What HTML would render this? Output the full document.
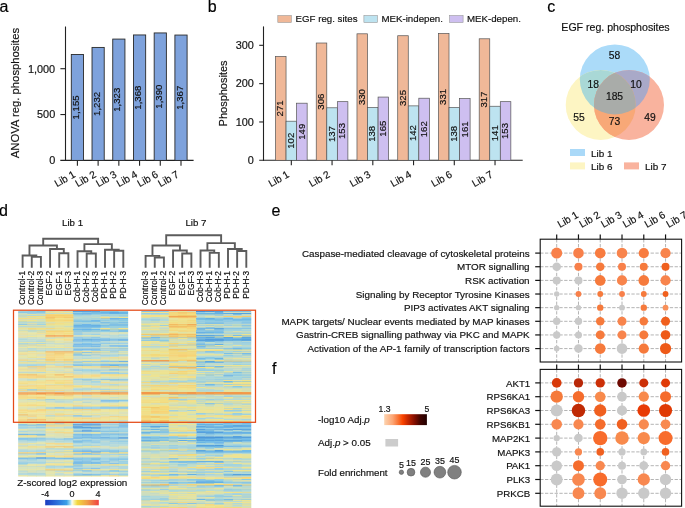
<!DOCTYPE html>
<html><head><meta charset="utf-8"><style>
html,body{margin:0;padding:0;background:#fff;overflow:hidden;width:685px;height:508px;}
svg{display:block;font-family:"Liberation Sans", sans-serif;will-change:transform;}
text{stroke:#111;stroke-width:0.18px;paint-order:stroke;}
</style></head><body>
<svg width="685" height="508" viewBox="0 0 685 508">
<text x="-0.50" y="11.60" font-size="16" fill="#000">a</text>
<text x="207.70" y="11.60" font-size="16" fill="#000">b</text>
<text x="547.30" y="11.70" font-size="16" fill="#000">c</text>
<text x="-1.00" y="215.70" font-size="16" fill="#000">d</text>
<text x="271.40" y="215.80" font-size="16" fill="#000">e</text>
<text x="272.00" y="374.00" font-size="16" fill="#000">f</text>
<line x1="65.50" y1="26.50" x2="65.50" y2="160.90" stroke="#222" stroke-width="1.1"/>
<line x1="60.30" y1="160.40" x2="193.60" y2="160.40" stroke="#222" stroke-width="1.1"/>
<line x1="60.40" y1="114.55" x2="65.50" y2="114.55" stroke="#222" stroke-width="1.1"/>
<line x1="60.40" y1="68.70" x2="65.50" y2="68.70" stroke="#222" stroke-width="1.1"/>
<text x="55.20" y="164.25" font-size="10.9" text-anchor="end" fill="#111">0</text>
<text x="55.20" y="118.40" font-size="10.9" text-anchor="end" fill="#111">500</text>
<text x="55.20" y="72.55" font-size="10.9" text-anchor="end" fill="#111">1,000</text>
<text x="19.00" y="93.10" font-size="11.3" text-anchor="middle" transform="rotate(-90 19.0 93.1)" fill="#111">ANOVA reg. phosphosites</text>
<rect x="71.30" y="54.49" width="12.20" height="105.91" fill="#7ea2dc" stroke="#2a2a2a" stroke-width="0.9"/>
<line x1="77.40" y1="160.40" x2="77.40" y2="165.70" stroke="#222" stroke-width="1.1"/>
<text x="79.00" y="107.44" font-size="9.6" text-anchor="middle" transform="rotate(-90 79.0 107.44325)" fill="#111">1,155</text>
<text x="76.10" y="176.30" font-size="10.2" text-anchor="end" transform="rotate(-30 76.10000000000001 176.3)" fill="#111">Lib 1</text>
<rect x="92.02" y="47.43" width="12.20" height="112.97" fill="#7ea2dc" stroke="#2a2a2a" stroke-width="0.9"/>
<line x1="98.12" y1="160.40" x2="98.12" y2="165.70" stroke="#222" stroke-width="1.1"/>
<text x="99.72" y="103.91" font-size="9.6" text-anchor="middle" transform="rotate(-90 99.72 103.9128)" fill="#111">1,232</text>
<text x="96.82" y="176.30" font-size="10.2" text-anchor="end" transform="rotate(-30 96.82000000000001 176.3)" fill="#111">Lib 2</text>
<rect x="112.74" y="39.08" width="12.20" height="121.32" fill="#7ea2dc" stroke="#2a2a2a" stroke-width="0.9"/>
<line x1="118.84" y1="160.40" x2="118.84" y2="165.70" stroke="#222" stroke-width="1.1"/>
<text x="120.44" y="99.74" font-size="9.6" text-anchor="middle" transform="rotate(-90 120.44 99.74045000000001)" fill="#111">1,323</text>
<text x="117.54" y="176.30" font-size="10.2" text-anchor="end" transform="rotate(-30 117.54 176.3)" fill="#111">Lib 3</text>
<rect x="133.46" y="34.95" width="12.20" height="125.45" fill="#7ea2dc" stroke="#2a2a2a" stroke-width="0.9"/>
<line x1="139.56" y1="160.40" x2="139.56" y2="165.70" stroke="#222" stroke-width="1.1"/>
<text x="141.16" y="97.68" font-size="9.6" text-anchor="middle" transform="rotate(-90 141.16 97.6772)" fill="#111">1,368</text>
<text x="138.26" y="176.30" font-size="10.2" text-anchor="end" transform="rotate(-30 138.26 176.3)" fill="#111">Lib 4</text>
<rect x="154.18" y="32.94" width="12.20" height="127.46" fill="#7ea2dc" stroke="#2a2a2a" stroke-width="0.9"/>
<line x1="160.28" y1="160.40" x2="160.28" y2="165.70" stroke="#222" stroke-width="1.1"/>
<text x="161.88" y="96.67" font-size="9.6" text-anchor="middle" transform="rotate(-90 161.88 96.6685)" fill="#111">1,390</text>
<text x="158.98" y="176.30" font-size="10.2" text-anchor="end" transform="rotate(-30 158.98 176.3)" fill="#111">Lib 6</text>
<rect x="174.90" y="35.05" width="12.20" height="125.35" fill="#7ea2dc" stroke="#2a2a2a" stroke-width="0.9"/>
<line x1="181.00" y1="160.40" x2="181.00" y2="165.70" stroke="#222" stroke-width="1.1"/>
<text x="182.60" y="97.72" font-size="9.6" text-anchor="middle" transform="rotate(-90 182.6 97.72305)" fill="#111">1,367</text>
<text x="179.70" y="176.30" font-size="10.2" text-anchor="end" transform="rotate(-30 179.7 176.3)" fill="#111">Lib 7</text>
<line x1="263.50" y1="26.40" x2="263.50" y2="160.80" stroke="#222" stroke-width="1.1"/>
<line x1="259.20" y1="160.30" x2="522.70" y2="160.30" stroke="#222" stroke-width="1.1"/>
<line x1="259.20" y1="121.97" x2="263.50" y2="121.97" stroke="#222" stroke-width="1.1"/>
<line x1="259.20" y1="83.64" x2="263.50" y2="83.64" stroke="#222" stroke-width="1.1"/>
<line x1="259.20" y1="45.31" x2="263.50" y2="45.31" stroke="#222" stroke-width="1.1"/>
<text x="253.90" y="164.15" font-size="10.9" text-anchor="end" fill="#111">0</text>
<text x="253.90" y="125.82" font-size="10.9" text-anchor="end" fill="#111">100</text>
<text x="253.90" y="87.49" font-size="10.9" text-anchor="end" fill="#111">200</text>
<text x="253.90" y="49.16" font-size="10.9" text-anchor="end" fill="#111">300</text>
<text x="226.80" y="93.40" font-size="11" text-anchor="middle" transform="rotate(-90 226.8 93.4)" fill="#111">Phosphosites</text>
<rect x="275.50" y="56.43" width="10.55" height="103.87" fill="#f0b898" stroke="#555" stroke-width="0.7"/>
<text x="283.47" y="108.36" font-size="9.6" text-anchor="middle" transform="rotate(-90 283.47499999999997 108.36285000000001)" fill="#111">271</text>
<rect x="286.05" y="121.20" width="10.55" height="39.10" fill="#bde3f0" stroke="#555" stroke-width="0.7"/>
<text x="294.02" y="140.75" font-size="9.6" text-anchor="middle" transform="rotate(-90 294.025 140.75170000000003)" fill="#111">102</text>
<rect x="296.60" y="103.19" width="10.55" height="57.11" fill="#cebff0" stroke="#555" stroke-width="0.7"/>
<text x="304.57" y="131.74" font-size="9.6" text-anchor="middle" transform="rotate(-90 304.575 131.74415000000002)" fill="#111">149</text>
<line x1="291.32" y1="160.30" x2="291.32" y2="165.20" stroke="#222" stroke-width="1.1"/>
<text x="290.02" y="176.30" font-size="10.2" text-anchor="end" transform="rotate(-30 290.025 176.3)" fill="#111">Lib 1</text>
<rect x="316.24" y="43.01" width="10.55" height="117.29" fill="#f0b898" stroke="#555" stroke-width="0.7"/>
<text x="324.21" y="101.66" font-size="9.6" text-anchor="middle" transform="rotate(-90 324.215 101.65510000000002)" fill="#111">306</text>
<rect x="326.79" y="107.79" width="10.55" height="52.51" fill="#bde3f0" stroke="#555" stroke-width="0.7"/>
<text x="334.76" y="134.04" font-size="9.6" text-anchor="middle" transform="rotate(-90 334.765 134.04395)" fill="#111">137</text>
<rect x="337.34" y="101.66" width="10.55" height="58.64" fill="#cebff0" stroke="#555" stroke-width="0.7"/>
<text x="345.31" y="130.98" font-size="9.6" text-anchor="middle" transform="rotate(-90 345.315 130.97755)" fill="#111">153</text>
<line x1="332.06" y1="160.30" x2="332.06" y2="165.20" stroke="#222" stroke-width="1.1"/>
<text x="330.76" y="176.30" font-size="10.2" text-anchor="end" transform="rotate(-30 330.765 176.3)" fill="#111">Lib 2</text>
<rect x="356.98" y="33.81" width="10.55" height="126.49" fill="#f0b898" stroke="#555" stroke-width="0.7"/>
<text x="364.95" y="97.06" font-size="9.6" text-anchor="middle" transform="rotate(-90 364.955 97.05550000000002)" fill="#111">330</text>
<rect x="367.53" y="107.40" width="10.55" height="52.90" fill="#bde3f0" stroke="#555" stroke-width="0.7"/>
<text x="375.50" y="133.85" font-size="9.6" text-anchor="middle" transform="rotate(-90 375.505 133.8523)" fill="#111">138</text>
<rect x="378.08" y="97.06" width="10.55" height="63.24" fill="#cebff0" stroke="#555" stroke-width="0.7"/>
<text x="386.06" y="128.68" font-size="9.6" text-anchor="middle" transform="rotate(-90 386.055 128.67775)" fill="#111">165</text>
<line x1="372.81" y1="160.30" x2="372.81" y2="165.20" stroke="#222" stroke-width="1.1"/>
<text x="371.50" y="176.30" font-size="10.2" text-anchor="end" transform="rotate(-30 371.505 176.3)" fill="#111">Lib 3</text>
<rect x="397.72" y="35.73" width="10.55" height="124.57" fill="#f0b898" stroke="#555" stroke-width="0.7"/>
<text x="405.69" y="98.01" font-size="9.6" text-anchor="middle" transform="rotate(-90 405.695 98.01375000000002)" fill="#111">325</text>
<rect x="408.27" y="105.87" width="10.55" height="54.43" fill="#bde3f0" stroke="#555" stroke-width="0.7"/>
<text x="416.25" y="133.09" font-size="9.6" text-anchor="middle" transform="rotate(-90 416.245 133.08570000000003)" fill="#111">142</text>
<rect x="418.82" y="98.21" width="10.55" height="62.09" fill="#cebff0" stroke="#555" stroke-width="0.7"/>
<text x="426.80" y="129.25" font-size="9.6" text-anchor="middle" transform="rotate(-90 426.795 129.2527)" fill="#111">162</text>
<line x1="413.55" y1="160.30" x2="413.55" y2="165.20" stroke="#222" stroke-width="1.1"/>
<text x="412.25" y="176.30" font-size="10.2" text-anchor="end" transform="rotate(-30 412.245 176.3)" fill="#111">Lib 4</text>
<rect x="438.46" y="33.43" width="10.55" height="126.87" fill="#f0b898" stroke="#555" stroke-width="0.7"/>
<text x="446.44" y="96.86" font-size="9.6" text-anchor="middle" transform="rotate(-90 446.435 96.86385000000001)" fill="#111">331</text>
<rect x="449.01" y="107.40" width="10.55" height="52.90" fill="#bde3f0" stroke="#555" stroke-width="0.7"/>
<text x="456.99" y="133.85" font-size="9.6" text-anchor="middle" transform="rotate(-90 456.985 133.8523)" fill="#111">138</text>
<rect x="459.56" y="98.59" width="10.55" height="61.71" fill="#cebff0" stroke="#555" stroke-width="0.7"/>
<text x="467.54" y="129.44" font-size="9.6" text-anchor="middle" transform="rotate(-90 467.535 129.44435000000001)" fill="#111">161</text>
<line x1="454.29" y1="160.30" x2="454.29" y2="165.20" stroke="#222" stroke-width="1.1"/>
<text x="452.99" y="176.30" font-size="10.2" text-anchor="end" transform="rotate(-30 452.985 176.3)" fill="#111">Lib 6</text>
<rect x="479.20" y="38.79" width="10.55" height="121.51" fill="#f0b898" stroke="#555" stroke-width="0.7"/>
<text x="487.18" y="99.55" font-size="9.6" text-anchor="middle" transform="rotate(-90 487.175 99.54695000000001)" fill="#111">317</text>
<rect x="489.75" y="106.25" width="10.55" height="54.05" fill="#bde3f0" stroke="#555" stroke-width="0.7"/>
<text x="497.73" y="133.28" font-size="9.6" text-anchor="middle" transform="rotate(-90 497.725 133.27735)" fill="#111">141</text>
<rect x="500.30" y="101.66" width="10.55" height="58.64" fill="#cebff0" stroke="#555" stroke-width="0.7"/>
<text x="508.28" y="130.98" font-size="9.6" text-anchor="middle" transform="rotate(-90 508.27500000000003 130.97755)" fill="#111">153</text>
<line x1="495.03" y1="160.30" x2="495.03" y2="165.20" stroke="#222" stroke-width="1.1"/>
<text x="493.73" y="176.30" font-size="10.2" text-anchor="end" transform="rotate(-30 493.725 176.3)" fill="#111">Lib 7</text>
<rect x="277.80" y="15.50" width="13.50" height="7.00" fill="#f0b898" stroke="#999" stroke-width="0.6"/>
<text x="295.60" y="22.30" font-size="9.7" fill="#111">EGF reg. sites</text>
<rect x="363.90" y="15.50" width="13.50" height="7.00" fill="#bde3f0" stroke="#999" stroke-width="0.6"/>
<text x="381.50" y="22.30" font-size="9.7" fill="#111">MEK-indepen.</text>
<rect x="449.60" y="15.50" width="13.50" height="7.00" fill="#cebff0" stroke="#999" stroke-width="0.6"/>
<text x="467.00" y="22.30" font-size="9.7" fill="#111">MEK-depen.</text>
<text x="615.50" y="30.70" font-size="10.6" text-anchor="middle" fill="#111">EGF reg. phosphosites</text>
<defs>
<clipPath id="cb"><circle cx="614.8" cy="79.4" r="35"/></clipPath>
<clipPath id="cy"><circle cx="600.7" cy="104.9" r="35"/></clipPath>
<clipPath id="cr"><circle cx="629" cy="104.9" r="35"/></clipPath>
</defs>
<circle cx="614.80" cy="79.40" r="35.00" fill="#abdbf9"/>
<circle cx="600.70" cy="104.90" r="35.00" fill="#fdf5c3"/>
<circle cx="629.00" cy="104.90" r="35.00" fill="#f9b39e"/>
<g clip-path="url(#cb)"><circle cx="600.7" cy="104.9" r="35" fill="#a9d8d6"/><circle cx="629" cy="104.9" r="35" fill="#a9a9c8"/></g>
<g clip-path="url(#cy)"><circle cx="629" cy="104.9" r="35" fill="#f8a877"/></g>
<g clip-path="url(#cb)"><g clip-path="url(#cy)"><circle cx="629" cy="104.9" r="35" fill="#a9aca9"/></g></g>
<text x="614.50" y="59.10" font-size="10.3" text-anchor="middle" fill="#111">58</text>
<text x="593.20" y="87.50" font-size="10.3" text-anchor="middle" fill="#111">18</text>
<text x="636.10" y="87.50" font-size="10.3" text-anchor="middle" fill="#111">10</text>
<text x="614.50" y="99.70" font-size="10.3" text-anchor="middle" fill="#111">185</text>
<text x="579.00" y="121.00" font-size="10.3" text-anchor="middle" fill="#111">55</text>
<text x="614.50" y="124.50" font-size="10.3" text-anchor="middle" fill="#111">73</text>
<text x="649.90" y="121.00" font-size="10.3" text-anchor="middle" fill="#111">49</text>
<rect x="570.00" y="149.00" width="15.00" height="7.00" fill="#aad9f8"/>
<text x="591.00" y="156.50" font-size="9.9" fill="#111">Lib 1</text>
<rect x="570.00" y="162.40" width="15.00" height="7.00" fill="#fdf5c3"/>
<text x="591.00" y="169.90" font-size="9.9" fill="#111">Lib 6</text>
<rect x="624.00" y="162.40" width="15.00" height="7.00" fill="#f9b39e"/>
<text x="645.00" y="169.90" font-size="9.9" fill="#111">Lib 7</text>
<text x="72.60" y="225.60" font-size="9.7" text-anchor="middle" fill="#111">Lib 1</text>
<path d="M31.76 267.80V256.90H40.91V267.80" fill="none" stroke="#5c5c5c" stroke-width="1.9"/>
<path d="M22.60 267.80V255.50H36.33V256.90" fill="none" stroke="#5c5c5c" stroke-width="1.9"/>
<path d="M59.22 267.80V253.30H68.38V267.80" fill="none" stroke="#5c5c5c" stroke-width="1.9"/>
<path d="M50.06 267.80V249.00H63.80V253.30" fill="none" stroke="#5c5c5c" stroke-width="1.9"/>
<path d="M29.47 255.50V245.50H56.93V249.00" fill="none" stroke="#5c5c5c" stroke-width="1.9"/>
<path d="M86.69 267.80V253.50H95.84V267.80" fill="none" stroke="#5c5c5c" stroke-width="1.9"/>
<path d="M77.53 267.80V251.30H91.26V253.50" fill="none" stroke="#5c5c5c" stroke-width="1.9"/>
<path d="M114.15 267.80V250.70H123.31V267.80" fill="none" stroke="#5c5c5c" stroke-width="1.9"/>
<path d="M105.00 267.80V249.70H118.73V250.70" fill="none" stroke="#5c5c5c" stroke-width="1.9"/>
<path d="M84.40 251.30V244.10H111.86V249.70" fill="none" stroke="#5c5c5c" stroke-width="1.9"/>
<path d="M43.20 245.50V238.70H98.13V244.10" fill="none" stroke="#5c5c5c" stroke-width="1.9"/>
<text x="24.90" y="271.00" font-size="8.3" text-anchor="end" transform="rotate(-90 24.900000000000002 271)" fill="#111">Control-1</text>
<text x="34.05" y="271.00" font-size="8.3" text-anchor="end" transform="rotate(-90 34.055 271)" fill="#111">Control-2</text>
<text x="43.21" y="271.00" font-size="8.3" text-anchor="end" transform="rotate(-90 43.209999999999994 271)" fill="#111">Control-3</text>
<text x="52.36" y="271.00" font-size="8.3" text-anchor="end" transform="rotate(-90 52.364999999999995 271)" fill="#111">EGF-2</text>
<text x="61.52" y="271.00" font-size="8.3" text-anchor="end" transform="rotate(-90 61.519999999999996 271)" fill="#111">EGF-1</text>
<text x="70.67" y="271.00" font-size="8.3" text-anchor="end" transform="rotate(-90 70.675 271)" fill="#111">EGF-3</text>
<text x="79.83" y="271.00" font-size="8.3" text-anchor="end" transform="rotate(-90 79.83 271)" fill="#111">Cob-H-1</text>
<text x="88.98" y="271.00" font-size="8.3" text-anchor="end" transform="rotate(-90 88.985 271)" fill="#111">Cob-H-2</text>
<text x="98.14" y="271.00" font-size="8.3" text-anchor="end" transform="rotate(-90 98.14 271)" fill="#111">Cob-H-3</text>
<text x="107.30" y="271.00" font-size="8.3" text-anchor="end" transform="rotate(-90 107.295 271)" fill="#111">PD-H-1</text>
<text x="116.45" y="271.00" font-size="8.3" text-anchor="end" transform="rotate(-90 116.45 271)" fill="#111">PD-H-2</text>
<text x="125.61" y="271.00" font-size="8.3" text-anchor="end" transform="rotate(-90 125.605 271)" fill="#111">PD-H-3</text>
<text x="196.00" y="225.60" font-size="9.7" text-anchor="middle" fill="#111">Lib 7</text>
<path d="M154.75 267.80V257.50H163.91V267.80" fill="none" stroke="#5c5c5c" stroke-width="1.9"/>
<path d="M145.60 267.80V255.90H159.33V257.50" fill="none" stroke="#5c5c5c" stroke-width="1.9"/>
<path d="M182.22 267.80V253.50H191.38V267.80" fill="none" stroke="#5c5c5c" stroke-width="1.9"/>
<path d="M173.06 267.80V250.50H186.80V253.50" fill="none" stroke="#5c5c5c" stroke-width="1.9"/>
<path d="M152.47 255.90V245.50H179.93V250.50" fill="none" stroke="#5c5c5c" stroke-width="1.9"/>
<path d="M209.69 267.80V252.90H218.84V267.80" fill="none" stroke="#5c5c5c" stroke-width="1.9"/>
<path d="M200.53 267.80V250.50H214.26V252.90" fill="none" stroke="#5c5c5c" stroke-width="1.9"/>
<path d="M237.15 267.80V251.00H246.31V267.80" fill="none" stroke="#5c5c5c" stroke-width="1.9"/>
<path d="M228.00 267.80V249.00H241.73V251.00" fill="none" stroke="#5c5c5c" stroke-width="1.9"/>
<path d="M207.40 250.50V243.10H234.86V249.00" fill="none" stroke="#5c5c5c" stroke-width="1.9"/>
<path d="M166.20 245.50V235.20H221.13V243.10" fill="none" stroke="#5c5c5c" stroke-width="1.9"/>
<text x="147.90" y="271.00" font-size="8.3" text-anchor="end" transform="rotate(-90 147.9 271)" fill="#111">Control-3</text>
<text x="157.06" y="271.00" font-size="8.3" text-anchor="end" transform="rotate(-90 157.055 271)" fill="#111">Control-1</text>
<text x="166.21" y="271.00" font-size="8.3" text-anchor="end" transform="rotate(-90 166.21 271)" fill="#111">Control-2</text>
<text x="175.37" y="271.00" font-size="8.3" text-anchor="end" transform="rotate(-90 175.365 271)" fill="#111">EGF-2</text>
<text x="184.52" y="271.00" font-size="8.3" text-anchor="end" transform="rotate(-90 184.52 271)" fill="#111">EGF-1</text>
<text x="193.68" y="271.00" font-size="8.3" text-anchor="end" transform="rotate(-90 193.675 271)" fill="#111">EGF-3</text>
<text x="202.83" y="271.00" font-size="8.3" text-anchor="end" transform="rotate(-90 202.82999999999998 271)" fill="#111">Cob-H-3</text>
<text x="211.99" y="271.00" font-size="8.3" text-anchor="end" transform="rotate(-90 211.985 271)" fill="#111">Cob-H-1</text>
<text x="221.14" y="271.00" font-size="8.3" text-anchor="end" transform="rotate(-90 221.14 271)" fill="#111">Cob-H-2</text>
<text x="230.30" y="271.00" font-size="8.3" text-anchor="end" transform="rotate(-90 230.29500000000002 271)" fill="#111">PD-H-1</text>
<text x="239.45" y="271.00" font-size="8.3" text-anchor="end" transform="rotate(-90 239.45 271)" fill="#111">PD-H-2</text>
<text x="248.61" y="271.00" font-size="8.3" text-anchor="end" transform="rotate(-90 248.60500000000002 271)" fill="#111">PD-H-3</text>
<defs><filter id="hb" x="0" y="0" width="1" height="1"><feGaussianBlur stdDeviation="0.3 0.5"/></filter></defs>
<g filter="url(#hb)"><path fill="#9dcfde" d="M18.2 311.10h9.62v1.30h-9.62zM27.3 312.10h9.62v1.30h-9.62zM36.4 312.10h9.62v1.30h-9.62zM91.1 312.10h9.62v1.30h-9.62zM109.4 319.11h9.62v1.30h-9.62zM18.2 321.11h9.62v1.30h-9.62zM109.4 323.11h9.62v1.30h-9.62zM100.3 326.12h9.62v1.30h-9.62zM118.5 327.12h9.62v1.30h-9.62zM82.0 333.13h9.62v1.30h-9.62zM91.1 333.13h9.62v1.30h-9.62zM109.4 335.13h9.62v1.30h-9.62zM82.0 337.13h9.62v1.30h-9.62zM82.0 338.13h9.62v1.30h-9.62zM27.3 339.13h9.62v1.30h-9.62zM36.4 339.13h9.62v1.30h-9.62zM18.2 341.14h9.62v1.30h-9.62zM27.3 341.14h9.62v1.30h-9.62zM109.4 342.14h9.62v1.30h-9.62zM109.4 343.14h9.62v1.30h-9.62zM109.4 346.14h9.62v1.30h-9.62zM118.5 352.15h9.62v1.30h-9.62zM118.5 360.16h9.62v1.30h-9.62zM36.4 361.16h9.62v1.30h-9.62zM45.5 364.16h9.62v1.30h-9.62zM72.9 370.17h9.62v1.30h-9.62zM82.0 381.18h9.62v1.30h-9.62zM91.1 389.19h9.62v1.30h-9.62zM118.5 425.24h9.62v1.30h-9.62zM27.3 426.24h9.62v1.30h-9.62zM100.3 428.24h9.62v1.30h-9.62zM118.5 428.24h9.62v1.30h-9.62zM18.2 431.25h9.62v1.30h-9.62zM72.9 431.25h9.62v1.30h-9.62zM118.5 441.26h9.62v1.30h-9.62zM27.3 451.27h9.62v1.30h-9.62zM118.5 453.27h9.62v1.30h-9.62zM118.5 457.28h9.62v1.30h-9.62zM63.8 465.29h9.62v1.30h-9.62zM27.3 466.29h9.62v1.30h-9.62zM54.7 466.29h9.62v1.30h-9.62zM63.8 466.29h9.62v1.30h-9.62zM118.5 471.29h9.62v1.30h-9.62zM91.1 473.30h9.62v1.30h-9.62z"/><path fill="#8ecae3" d="M27.3 311.10h9.62v1.30h-9.62zM18.2 312.10h9.62v1.30h-9.62zM100.3 315.10h9.62v1.30h-9.62zM72.9 319.11h9.62v1.30h-9.62zM72.9 320.11h9.62v1.30h-9.62zM100.3 324.12h9.62v1.30h-9.62zM91.1 327.12h9.62v1.30h-9.62zM72.9 328.12h9.62v1.30h-9.62zM100.3 330.12h9.62v1.30h-9.62zM118.5 330.12h9.62v1.30h-9.62zM72.9 334.13h9.62v1.30h-9.62zM91.1 334.13h9.62v1.30h-9.62zM72.9 338.13h9.62v1.30h-9.62zM36.4 341.14h9.62v1.30h-9.62zM82.0 341.14h9.62v1.30h-9.62zM100.3 342.14h9.62v1.30h-9.62zM118.5 342.14h9.62v1.30h-9.62zM109.4 354.15h9.62v1.30h-9.62zM63.8 361.16h9.62v1.30h-9.62zM27.3 364.16h9.62v1.30h-9.62zM63.8 364.16h9.62v1.30h-9.62zM100.3 367.17h9.62v1.30h-9.62zM18.2 372.17h9.62v1.30h-9.62zM27.3 372.17h9.62v1.30h-9.62zM36.4 389.19h9.62v1.30h-9.62zM63.8 399.21h9.62v1.30h-9.62zM118.5 399.21h9.62v1.30h-9.62zM109.4 406.22h9.62v1.30h-9.62zM72.9 407.22h9.62v1.30h-9.62zM82.0 408.22h9.62v1.30h-9.62zM45.5 424.24h9.62v1.30h-9.62zM18.2 426.24h9.62v1.30h-9.62zM36.4 427.24h9.62v1.30h-9.62zM91.1 428.24h9.62v1.30h-9.62zM27.3 430.24h9.62v1.30h-9.62zM36.4 430.24h9.62v1.30h-9.62zM118.5 430.24h9.62v1.30h-9.62zM91.1 431.25h9.62v1.30h-9.62zM18.2 433.25h9.62v1.30h-9.62zM82.0 435.25h9.62v1.30h-9.62zM100.3 436.25h9.62v1.30h-9.62zM18.2 437.25h9.62v1.30h-9.62zM18.2 439.26h9.62v1.30h-9.62zM118.5 454.27h9.62v1.30h-9.62zM100.3 458.28h9.62v1.30h-9.62zM91.1 461.28h9.62v1.30h-9.62zM27.3 462.28h9.62v1.30h-9.62zM36.4 462.28h9.62v1.30h-9.62zM91.1 465.29h9.62v1.30h-9.62zM118.5 466.29h9.62v1.30h-9.62zM91.1 470.29h9.62v1.30h-9.62zM18.2 473.30h9.62v1.30h-9.62z"/><path fill="#84c5e3" d="M36.4 311.10h9.62v1.30h-9.62zM100.3 320.11h9.62v1.30h-9.62zM72.9 321.11h9.62v1.30h-9.62zM82.0 321.11h9.62v1.30h-9.62zM91.1 321.11h9.62v1.30h-9.62zM91.1 338.13h9.62v1.30h-9.62zM100.3 343.14h9.62v1.30h-9.62zM100.3 345.14h9.62v1.30h-9.62zM118.5 346.14h9.62v1.30h-9.62zM118.5 350.15h9.62v1.30h-9.62zM100.3 352.15h9.62v1.30h-9.62zM100.3 363.16h9.62v1.30h-9.62zM109.4 391.20h9.62v1.30h-9.62zM54.7 399.21h9.62v1.30h-9.62zM45.5 407.22h9.62v1.30h-9.62zM63.8 407.22h9.62v1.30h-9.62zM118.5 407.22h9.62v1.30h-9.62zM45.5 422.23h9.62v1.30h-9.62zM109.4 430.24h9.62v1.30h-9.62zM109.4 431.25h9.62v1.30h-9.62zM82.0 433.25h9.62v1.30h-9.62zM27.3 437.25h9.62v1.30h-9.62zM54.7 438.25h9.62v1.30h-9.62zM82.0 442.26h9.62v1.30h-9.62zM45.5 448.27h9.62v1.30h-9.62zM54.7 448.27h9.62v1.30h-9.62zM72.9 448.27h9.62v1.30h-9.62zM100.3 450.27h9.62v1.30h-9.62zM63.8 451.27h9.62v1.30h-9.62zM54.7 457.28h9.62v1.30h-9.62zM63.8 457.28h9.62v1.30h-9.62zM36.4 458.28h9.62v1.30h-9.62zM118.5 458.28h9.62v1.30h-9.62zM82.0 459.28h9.62v1.30h-9.62zM18.2 462.28h9.62v1.30h-9.62zM82.0 468.29h9.62v1.30h-9.62zM27.3 473.30h9.62v1.30h-9.62z"/><path fill="#d4deb1" d="M45.5 311.10h9.62v1.30h-9.62zM63.8 345.14h9.62v1.30h-9.62zM45.5 379.18h9.62v1.30h-9.62zM109.4 380.18h9.62v1.30h-9.62zM91.1 395.20h9.62v1.30h-9.62zM54.7 402.21h9.62v1.30h-9.62zM72.9 410.22h9.62v1.30h-9.62zM109.4 415.23h9.62v1.30h-9.62zM54.7 434.25h9.62v1.30h-9.62zM36.4 447.26h9.62v1.30h-9.62zM63.8 471.29h9.62v1.30h-9.62zM100.3 472.30h9.62v1.30h-9.62z"/><path fill="#dedeac" d="M54.7 311.10h9.62v1.30h-9.62zM54.7 468.29h9.62v1.30h-9.62z"/><path fill="#c5dec5" d="M63.8 311.10h9.62v1.30h-9.62zM118.5 316.11h9.62v1.30h-9.62zM72.9 317.11h9.62v1.30h-9.62zM18.2 323.11h9.62v1.30h-9.62zM45.5 326.12h9.62v1.30h-9.62zM27.3 331.12h9.62v1.30h-9.62zM72.9 332.13h9.62v1.30h-9.62zM100.3 344.14h9.62v1.30h-9.62zM118.5 358.16h9.62v1.30h-9.62zM63.8 363.16h9.62v1.30h-9.62zM82.0 368.17h9.62v1.30h-9.62zM18.2 369.17h9.62v1.30h-9.62zM91.1 371.17h9.62v1.30h-9.62zM118.5 377.18h9.62v1.30h-9.62zM36.4 379.18h9.62v1.30h-9.62zM91.1 383.19h9.62v1.30h-9.62zM109.4 388.19h9.62v1.30h-9.62zM63.8 391.20h9.62v1.30h-9.62zM54.7 400.21h9.62v1.30h-9.62zM72.9 400.21h9.62v1.30h-9.62zM109.4 402.21h9.62v1.30h-9.62zM63.8 406.22h9.62v1.30h-9.62zM63.8 411.22h9.62v1.30h-9.62zM91.1 413.22h9.62v1.30h-9.62zM118.5 415.23h9.62v1.30h-9.62zM72.9 420.23h9.62v1.30h-9.62zM36.4 422.23h9.62v1.30h-9.62zM27.3 425.24h9.62v1.30h-9.62zM45.5 426.24h9.62v1.30h-9.62zM54.7 426.24h9.62v1.30h-9.62zM54.7 437.25h9.62v1.30h-9.62zM27.3 442.26h9.62v1.30h-9.62zM72.9 444.26h9.62v1.30h-9.62zM63.8 445.26h9.62v1.30h-9.62zM45.5 449.27h9.62v1.30h-9.62zM45.5 454.27h9.62v1.30h-9.62zM72.9 454.27h9.62v1.30h-9.62zM18.2 460.28h9.62v1.30h-9.62zM27.3 468.29h9.62v1.30h-9.62zM91.1 472.30h9.62v1.30h-9.62zM45.5 474.30h9.62v1.30h-9.62z"/><path fill="#57a2de" d="M72.9 311.10h9.62v1.30h-9.62zM82.0 311.10h9.62v1.30h-9.62zM118.5 348.14h9.62v1.30h-9.62zM100.3 361.16h9.62v1.30h-9.62zM109.4 361.16h9.62v1.30h-9.62zM118.5 361.16h9.62v1.30h-9.62zM82.0 426.24h9.62v1.30h-9.62zM91.1 426.24h9.62v1.30h-9.62zM72.9 427.24h9.62v1.30h-9.62zM82.0 427.24h9.62v1.30h-9.62zM91.1 430.24h9.62v1.30h-9.62zM82.0 437.25h9.62v1.30h-9.62zM109.4 437.25h9.62v1.30h-9.62z"/><path fill="#5ca7de" d="M91.1 311.10h9.62v1.30h-9.62zM72.9 325.12h9.62v1.30h-9.62zM109.4 339.13h9.62v1.30h-9.62zM91.1 344.14h9.62v1.30h-9.62zM91.1 348.14h9.62v1.30h-9.62zM82.0 361.16h9.62v1.30h-9.62zM91.1 361.16h9.62v1.30h-9.62zM118.5 424.24h9.62v1.30h-9.62zM72.9 430.24h9.62v1.30h-9.62zM100.3 433.25h9.62v1.30h-9.62zM109.4 433.25h9.62v1.30h-9.62zM100.3 437.25h9.62v1.30h-9.62zM82.0 451.27h9.62v1.30h-9.62zM72.9 462.28h9.62v1.30h-9.62zM82.0 462.28h9.62v1.30h-9.62z"/><path fill="#7ac0e3" d="M100.3 311.10h9.62v1.30h-9.62zM109.4 311.10h9.62v1.30h-9.62zM91.1 313.10h9.62v1.30h-9.62zM82.0 320.11h9.62v1.30h-9.62zM109.4 322.11h9.62v1.30h-9.62zM72.9 324.12h9.62v1.30h-9.62zM100.3 325.12h9.62v1.30h-9.62zM109.4 329.12h9.62v1.30h-9.62zM82.0 331.12h9.62v1.30h-9.62zM91.1 331.12h9.62v1.30h-9.62zM82.0 340.14h9.62v1.30h-9.62zM100.3 340.14h9.62v1.30h-9.62zM118.5 340.14h9.62v1.30h-9.62zM72.9 379.18h9.62v1.30h-9.62zM118.5 400.21h9.62v1.30h-9.62zM100.3 406.22h9.62v1.30h-9.62zM118.5 406.22h9.62v1.30h-9.62zM63.8 422.23h9.62v1.30h-9.62zM72.9 428.24h9.62v1.30h-9.62zM109.4 434.25h9.62v1.30h-9.62zM82.0 436.25h9.62v1.30h-9.62zM36.4 438.25h9.62v1.30h-9.62zM45.5 438.25h9.62v1.30h-9.62zM91.1 440.26h9.62v1.30h-9.62zM109.4 440.26h9.62v1.30h-9.62zM118.5 440.26h9.62v1.30h-9.62zM72.9 442.26h9.62v1.30h-9.62zM91.1 442.26h9.62v1.30h-9.62zM82.0 445.26h9.62v1.30h-9.62zM91.1 450.27h9.62v1.30h-9.62zM100.3 451.27h9.62v1.30h-9.62zM118.5 451.27h9.62v1.30h-9.62zM18.2 453.27h9.62v1.30h-9.62zM27.3 453.27h9.62v1.30h-9.62zM18.2 458.28h9.62v1.30h-9.62zM91.1 458.28h9.62v1.30h-9.62zM109.4 458.28h9.62v1.30h-9.62zM91.1 459.28h9.62v1.30h-9.62zM118.5 459.28h9.62v1.30h-9.62zM82.0 463.28h9.62v1.30h-9.62zM100.3 463.28h9.62v1.30h-9.62zM118.5 463.28h9.62v1.30h-9.62zM100.3 474.30h9.62v1.30h-9.62z"/><path fill="#93cae3" d="M118.5 311.10h9.62v1.30h-9.62zM118.5 315.10h9.62v1.30h-9.62zM18.2 324.12h9.62v1.30h-9.62zM72.9 327.12h9.62v1.30h-9.62zM72.9 336.13h9.62v1.30h-9.62zM82.0 336.13h9.62v1.30h-9.62zM91.1 336.13h9.62v1.30h-9.62zM91.1 337.13h9.62v1.30h-9.62zM118.5 343.14h9.62v1.30h-9.62zM36.4 348.14h9.62v1.30h-9.62zM72.9 350.15h9.62v1.30h-9.62zM100.3 354.15h9.62v1.30h-9.62zM54.7 361.16h9.62v1.30h-9.62zM109.4 363.16h9.62v1.30h-9.62zM118.5 363.16h9.62v1.30h-9.62zM36.4 364.16h9.62v1.30h-9.62zM72.9 365.17h9.62v1.30h-9.62zM109.4 367.17h9.62v1.30h-9.62zM118.5 372.17h9.62v1.30h-9.62zM18.2 389.19h9.62v1.30h-9.62zM100.3 399.21h9.62v1.30h-9.62zM109.4 399.21h9.62v1.30h-9.62zM72.9 406.22h9.62v1.30h-9.62zM91.1 406.22h9.62v1.30h-9.62zM82.0 407.22h9.62v1.30h-9.62zM91.1 408.22h9.62v1.30h-9.62zM100.3 408.22h9.62v1.30h-9.62zM54.7 424.24h9.62v1.30h-9.62zM109.4 427.24h9.62v1.30h-9.62zM91.1 433.25h9.62v1.30h-9.62zM91.1 435.25h9.62v1.30h-9.62zM36.4 439.26h9.62v1.30h-9.62zM54.7 439.26h9.62v1.30h-9.62zM27.3 440.26h9.62v1.30h-9.62zM91.1 441.26h9.62v1.30h-9.62zM109.4 441.26h9.62v1.30h-9.62zM100.3 453.27h9.62v1.30h-9.62zM109.4 457.28h9.62v1.30h-9.62zM72.9 460.28h9.62v1.30h-9.62zM109.4 461.28h9.62v1.30h-9.62zM54.7 462.28h9.62v1.30h-9.62zM45.5 465.29h9.62v1.30h-9.62zM91.1 467.29h9.62v1.30h-9.62zM82.0 473.30h9.62v1.30h-9.62z"/><path fill="#e8e398" d="M45.5 312.10h9.62v1.30h-9.62zM54.7 312.10h9.62v1.30h-9.62zM18.2 316.11h9.62v1.30h-9.62zM109.4 317.11h9.62v1.30h-9.62zM45.5 321.11h9.62v1.30h-9.62zM45.5 324.12h9.62v1.30h-9.62zM109.4 328.12h9.62v1.30h-9.62zM36.4 336.13h9.62v1.30h-9.62zM45.5 338.13h9.62v1.30h-9.62zM63.8 340.14h9.62v1.30h-9.62zM18.2 342.14h9.62v1.30h-9.62zM36.4 342.14h9.62v1.30h-9.62zM109.4 351.15h9.62v1.30h-9.62zM72.9 353.15h9.62v1.30h-9.62zM45.5 354.15h9.62v1.30h-9.62zM27.3 356.15h9.62v1.30h-9.62zM45.5 356.15h9.62v1.30h-9.62zM27.3 357.16h9.62v1.30h-9.62zM36.4 357.16h9.62v1.30h-9.62zM72.9 362.16h9.62v1.30h-9.62zM91.1 362.16h9.62v1.30h-9.62zM118.5 371.17h9.62v1.30h-9.62zM54.7 377.18h9.62v1.30h-9.62zM82.0 377.18h9.62v1.30h-9.62zM45.5 378.18h9.62v1.30h-9.62zM36.4 384.19h9.62v1.30h-9.62zM82.0 390.20h9.62v1.30h-9.62zM91.1 394.20h9.62v1.30h-9.62zM54.7 397.20h9.62v1.30h-9.62zM118.5 398.21h9.62v1.30h-9.62zM36.4 400.21h9.62v1.30h-9.62zM63.8 403.21h9.62v1.30h-9.62zM109.4 404.21h9.62v1.30h-9.62zM63.8 405.21h9.62v1.30h-9.62zM36.4 408.22h9.62v1.30h-9.62zM54.7 410.22h9.62v1.30h-9.62zM100.3 410.22h9.62v1.30h-9.62zM118.5 411.22h9.62v1.30h-9.62zM54.7 412.22h9.62v1.30h-9.62zM54.7 413.22h9.62v1.30h-9.62zM18.2 417.23h9.62v1.30h-9.62zM100.3 417.23h9.62v1.30h-9.62zM91.1 419.23h9.62v1.30h-9.62zM118.5 419.23h9.62v1.30h-9.62zM18.2 420.23h9.62v1.30h-9.62zM36.4 420.23h9.62v1.30h-9.62zM91.1 421.23h9.62v1.30h-9.62zM118.5 421.23h9.62v1.30h-9.62zM27.3 429.24h9.62v1.30h-9.62zM36.4 429.24h9.62v1.30h-9.62zM45.5 430.24h9.62v1.30h-9.62zM63.8 434.25h9.62v1.30h-9.62zM27.3 436.25h9.62v1.30h-9.62zM36.4 443.26h9.62v1.30h-9.62zM27.3 475.30h9.62v1.30h-9.62zM45.5 475.30h9.62v1.30h-9.62zM72.9 475.30h9.62v1.30h-9.62zM82.0 475.30h9.62v1.30h-9.62z"/><path fill="#ede393" d="M63.8 312.10h9.62v1.30h-9.62zM118.5 317.11h9.62v1.30h-9.62zM27.3 335.13h9.62v1.30h-9.62zM27.3 342.14h9.62v1.30h-9.62zM18.2 346.14h9.62v1.30h-9.62zM27.3 347.14h9.62v1.30h-9.62zM18.2 356.15h9.62v1.30h-9.62zM54.7 356.15h9.62v1.30h-9.62zM100.3 359.16h9.62v1.30h-9.62zM118.5 359.16h9.62v1.30h-9.62zM82.0 362.16h9.62v1.30h-9.62zM63.8 368.17h9.62v1.30h-9.62zM72.9 377.18h9.62v1.30h-9.62zM27.3 382.19h9.62v1.30h-9.62zM36.4 383.19h9.62v1.30h-9.62zM91.1 385.19h9.62v1.30h-9.62zM72.9 390.20h9.62v1.30h-9.62zM18.2 395.20h9.62v1.30h-9.62zM109.4 396.20h9.62v1.30h-9.62zM54.7 398.21h9.62v1.30h-9.62zM27.3 403.21h9.62v1.30h-9.62zM100.3 409.22h9.62v1.30h-9.62zM45.5 410.22h9.62v1.30h-9.62zM100.3 411.22h9.62v1.30h-9.62zM109.4 411.22h9.62v1.30h-9.62zM45.5 412.22h9.62v1.30h-9.62zM118.5 417.23h9.62v1.30h-9.62zM72.9 419.23h9.62v1.30h-9.62zM27.3 420.23h9.62v1.30h-9.62zM100.3 421.23h9.62v1.30h-9.62zM54.7 428.24h9.62v1.30h-9.62zM63.8 430.24h9.62v1.30h-9.62zM36.4 435.25h9.62v1.30h-9.62zM27.3 443.26h9.62v1.30h-9.62zM72.9 446.26h9.62v1.30h-9.62zM82.0 446.26h9.62v1.30h-9.62zM45.5 452.27h9.62v1.30h-9.62zM36.4 456.28h9.62v1.30h-9.62zM45.5 460.28h9.62v1.30h-9.62zM54.7 463.28h9.62v1.30h-9.62zM72.9 464.29h9.62v1.30h-9.62zM45.5 468.29h9.62v1.30h-9.62zM54.7 472.30h9.62v1.30h-9.62zM63.8 472.30h9.62v1.30h-9.62zM54.7 475.30h9.62v1.30h-9.62zM100.3 475.30h9.62v1.30h-9.62z"/><path fill="#98cfe3" d="M72.9 312.10h9.62v1.30h-9.62zM91.1 314.10h9.62v1.30h-9.62zM109.4 320.11h9.62v1.30h-9.62zM72.9 323.11h9.62v1.30h-9.62zM100.3 327.12h9.62v1.30h-9.62zM109.4 327.12h9.62v1.30h-9.62zM118.5 335.13h9.62v1.30h-9.62zM100.3 337.13h9.62v1.30h-9.62zM36.4 343.14h9.62v1.30h-9.62zM27.3 350.15h9.62v1.30h-9.62zM91.1 350.15h9.62v1.30h-9.62zM100.3 355.15h9.62v1.30h-9.62zM18.2 361.16h9.62v1.30h-9.62zM45.5 361.16h9.62v1.30h-9.62zM18.2 364.16h9.62v1.30h-9.62zM27.3 365.17h9.62v1.30h-9.62zM82.0 365.17h9.62v1.30h-9.62zM118.5 367.17h9.62v1.30h-9.62zM82.0 369.17h9.62v1.30h-9.62zM91.1 370.17h9.62v1.30h-9.62zM100.3 373.18h9.62v1.30h-9.62zM118.5 373.18h9.62v1.30h-9.62zM72.9 389.19h9.62v1.30h-9.62zM82.0 399.21h9.62v1.30h-9.62zM91.1 399.21h9.62v1.30h-9.62zM82.0 406.22h9.62v1.30h-9.62zM91.1 407.22h9.62v1.30h-9.62zM63.8 408.22h9.62v1.30h-9.62zM109.4 408.22h9.62v1.30h-9.62zM91.1 415.23h9.62v1.30h-9.62zM82.0 423.24h9.62v1.30h-9.62zM18.2 427.24h9.62v1.30h-9.62zM27.3 427.24h9.62v1.30h-9.62zM109.4 429.24h9.62v1.30h-9.62zM118.5 429.24h9.62v1.30h-9.62zM27.3 433.25h9.62v1.30h-9.62zM36.4 433.25h9.62v1.30h-9.62zM72.9 435.25h9.62v1.30h-9.62zM100.3 435.25h9.62v1.30h-9.62zM109.4 435.25h9.62v1.30h-9.62zM118.5 436.25h9.62v1.30h-9.62zM91.1 438.25h9.62v1.30h-9.62zM63.8 439.26h9.62v1.30h-9.62zM36.4 440.26h9.62v1.30h-9.62zM109.4 443.26h9.62v1.30h-9.62zM118.5 443.26h9.62v1.30h-9.62zM72.9 445.26h9.62v1.30h-9.62zM72.9 449.27h9.62v1.30h-9.62zM82.0 449.27h9.62v1.30h-9.62zM109.4 449.27h9.62v1.30h-9.62zM118.5 450.27h9.62v1.30h-9.62zM18.2 451.27h9.62v1.30h-9.62zM109.4 454.27h9.62v1.30h-9.62zM100.3 457.28h9.62v1.30h-9.62zM100.3 459.28h9.62v1.30h-9.62zM91.1 460.28h9.62v1.30h-9.62zM45.5 462.28h9.62v1.30h-9.62zM82.0 465.29h9.62v1.30h-9.62zM82.0 467.29h9.62v1.30h-9.62zM109.4 471.29h9.62v1.30h-9.62zM100.3 473.30h9.62v1.30h-9.62z"/><path fill="#89c5e3" d="M82.0 312.10h9.62v1.30h-9.62zM109.4 331.12h9.62v1.30h-9.62zM72.9 333.13h9.62v1.30h-9.62zM72.9 337.13h9.62v1.30h-9.62zM109.4 338.13h9.62v1.30h-9.62zM118.5 338.13h9.62v1.30h-9.62zM109.4 340.14h9.62v1.30h-9.62zM72.9 341.14h9.62v1.30h-9.62zM91.1 341.14h9.62v1.30h-9.62zM91.1 345.14h9.62v1.30h-9.62zM27.3 361.16h9.62v1.30h-9.62zM72.9 369.17h9.62v1.30h-9.62zM91.1 369.17h9.62v1.30h-9.62zM100.3 369.17h9.62v1.30h-9.62zM118.5 391.20h9.62v1.30h-9.62zM100.3 407.22h9.62v1.30h-9.62zM109.4 407.22h9.62v1.30h-9.62zM72.9 408.22h9.62v1.30h-9.62zM118.5 408.22h9.62v1.30h-9.62zM36.4 426.24h9.62v1.30h-9.62zM100.3 427.24h9.62v1.30h-9.62zM100.3 430.24h9.62v1.30h-9.62zM82.0 431.25h9.62v1.30h-9.62zM100.3 431.25h9.62v1.30h-9.62zM72.9 433.25h9.62v1.30h-9.62zM36.4 437.25h9.62v1.30h-9.62zM72.9 438.25h9.62v1.30h-9.62zM118.5 438.25h9.62v1.30h-9.62zM100.3 440.26h9.62v1.30h-9.62zM91.1 445.26h9.62v1.30h-9.62zM63.8 448.27h9.62v1.30h-9.62zM82.0 448.27h9.62v1.30h-9.62zM91.1 448.27h9.62v1.30h-9.62zM100.3 449.27h9.62v1.30h-9.62zM54.7 451.27h9.62v1.30h-9.62zM72.9 458.28h9.62v1.30h-9.62zM72.9 459.28h9.62v1.30h-9.62zM82.0 460.28h9.62v1.30h-9.62zM82.0 461.28h9.62v1.30h-9.62zM100.3 470.29h9.62v1.30h-9.62zM118.5 470.29h9.62v1.30h-9.62zM36.4 473.30h9.62v1.30h-9.62zM109.4 474.30h9.62v1.30h-9.62z"/><path fill="#6bb6e3" d="M100.3 312.10h9.62v1.30h-9.62zM118.5 312.10h9.62v1.30h-9.62zM118.5 313.10h9.62v1.30h-9.62zM82.0 325.12h9.62v1.30h-9.62zM82.0 346.14h9.62v1.30h-9.62zM72.9 352.15h9.62v1.30h-9.62zM91.1 354.15h9.62v1.30h-9.62zM72.9 361.16h9.62v1.30h-9.62zM82.0 364.16h9.62v1.30h-9.62zM109.4 364.16h9.62v1.30h-9.62zM118.5 364.16h9.62v1.30h-9.62zM109.4 365.17h9.62v1.30h-9.62zM118.5 369.17h9.62v1.30h-9.62zM109.4 422.23h9.62v1.30h-9.62zM27.3 434.25h9.62v1.30h-9.62zM72.9 434.25h9.62v1.30h-9.62zM91.1 434.25h9.62v1.30h-9.62zM72.9 453.27h9.62v1.30h-9.62zM91.1 457.28h9.62v1.30h-9.62zM45.5 458.28h9.62v1.30h-9.62zM54.7 458.28h9.62v1.30h-9.62z"/><path fill="#61ace3" d="M109.4 312.10h9.62v1.30h-9.62zM91.1 339.13h9.62v1.30h-9.62zM100.3 339.13h9.62v1.30h-9.62zM118.5 339.13h9.62v1.30h-9.62zM72.9 344.14h9.62v1.30h-9.62zM82.0 344.14h9.62v1.30h-9.62zM82.0 348.14h9.62v1.30h-9.62zM109.4 348.14h9.62v1.30h-9.62zM72.9 364.16h9.62v1.30h-9.62zM82.0 422.23h9.62v1.30h-9.62zM109.4 424.24h9.62v1.30h-9.62zM118.5 433.25h9.62v1.30h-9.62zM18.2 434.25h9.62v1.30h-9.62zM82.0 434.25h9.62v1.30h-9.62zM91.1 437.25h9.62v1.30h-9.62zM72.9 451.27h9.62v1.30h-9.62zM27.3 457.28h9.62v1.30h-9.62z"/><path fill="#c5deca" d="M18.2 313.10h9.62v1.30h-9.62zM63.8 313.10h9.62v1.30h-9.62zM118.5 336.13h9.62v1.30h-9.62zM63.8 337.13h9.62v1.30h-9.62zM18.2 340.14h9.62v1.30h-9.62zM27.3 340.14h9.62v1.30h-9.62zM109.4 344.14h9.62v1.30h-9.62zM118.5 344.14h9.62v1.30h-9.62zM109.4 356.15h9.62v1.30h-9.62zM100.3 358.16h9.62v1.30h-9.62zM72.9 360.16h9.62v1.30h-9.62zM72.9 371.17h9.62v1.30h-9.62zM118.5 378.18h9.62v1.30h-9.62zM63.8 400.21h9.62v1.30h-9.62zM91.1 401.21h9.62v1.30h-9.62zM100.3 402.21h9.62v1.30h-9.62zM36.4 407.22h9.62v1.30h-9.62zM27.3 444.26h9.62v1.30h-9.62zM18.2 472.30h9.62v1.30h-9.62z"/><path fill="#a2cfde" d="M27.3 313.10h9.62v1.30h-9.62zM72.9 314.10h9.62v1.30h-9.62zM27.3 324.12h9.62v1.30h-9.62zM82.0 328.12h9.62v1.30h-9.62zM109.4 330.12h9.62v1.30h-9.62zM18.2 348.14h9.62v1.30h-9.62zM109.4 352.15h9.62v1.30h-9.62zM109.4 360.16h9.62v1.30h-9.62zM109.4 373.18h9.62v1.30h-9.62zM118.5 423.24h9.62v1.30h-9.62zM63.8 424.24h9.62v1.30h-9.62zM118.5 427.24h9.62v1.30h-9.62zM109.4 428.24h9.62v1.30h-9.62zM45.5 439.26h9.62v1.30h-9.62zM18.2 449.27h9.62v1.30h-9.62zM118.5 449.27h9.62v1.30h-9.62zM36.4 451.27h9.62v1.30h-9.62zM109.4 453.27h9.62v1.30h-9.62zM91.1 454.27h9.62v1.30h-9.62zM18.2 459.28h9.62v1.30h-9.62zM18.2 461.28h9.62v1.30h-9.62zM27.3 461.28h9.62v1.30h-9.62zM109.4 465.29h9.62v1.30h-9.62zM36.4 466.29h9.62v1.30h-9.62zM100.3 466.29h9.62v1.30h-9.62zM63.8 467.29h9.62v1.30h-9.62zM63.8 470.29h9.62v1.30h-9.62zM100.3 471.29h9.62v1.30h-9.62zM109.4 473.30h9.62v1.30h-9.62z"/><path fill="#acd4d9" d="M36.4 313.10h9.62v1.30h-9.62zM82.0 314.10h9.62v1.30h-9.62zM18.2 315.10h9.62v1.30h-9.62zM82.0 315.10h9.62v1.30h-9.62zM82.0 318.11h9.62v1.30h-9.62zM82.0 319.11h9.62v1.30h-9.62zM91.1 319.11h9.62v1.30h-9.62zM118.5 319.11h9.62v1.30h-9.62zM100.3 321.11h9.62v1.30h-9.62zM72.9 322.11h9.62v1.30h-9.62zM91.1 322.11h9.62v1.30h-9.62zM82.0 323.11h9.62v1.30h-9.62zM27.3 326.12h9.62v1.30h-9.62zM36.4 326.12h9.62v1.30h-9.62zM36.4 330.12h9.62v1.30h-9.62zM54.7 337.13h9.62v1.30h-9.62zM45.5 343.14h9.62v1.30h-9.62zM18.2 345.14h9.62v1.30h-9.62zM27.3 345.14h9.62v1.30h-9.62zM118.5 349.15h9.62v1.30h-9.62zM63.8 350.15h9.62v1.30h-9.62zM82.0 355.15h9.62v1.30h-9.62zM72.9 357.16h9.62v1.30h-9.62zM36.4 365.17h9.62v1.30h-9.62zM100.3 370.17h9.62v1.30h-9.62zM72.9 378.18h9.62v1.30h-9.62zM72.9 388.19h9.62v1.30h-9.62zM45.5 389.19h9.62v1.30h-9.62zM109.4 389.19h9.62v1.30h-9.62zM118.5 389.19h9.62v1.30h-9.62zM54.7 401.21h9.62v1.30h-9.62zM100.3 401.21h9.62v1.30h-9.62zM45.5 408.22h9.62v1.30h-9.62zM91.1 423.24h9.62v1.30h-9.62zM82.0 425.24h9.62v1.30h-9.62zM109.4 442.26h9.62v1.30h-9.62zM36.4 449.27h9.62v1.30h-9.62zM91.1 449.27h9.62v1.30h-9.62zM18.2 450.27h9.62v1.30h-9.62zM27.3 450.27h9.62v1.30h-9.62zM82.0 454.27h9.62v1.30h-9.62zM100.3 462.28h9.62v1.30h-9.62zM109.4 462.28h9.62v1.30h-9.62zM36.4 463.28h9.62v1.30h-9.62zM54.7 465.29h9.62v1.30h-9.62zM100.3 465.29h9.62v1.30h-9.62zM18.2 466.29h9.62v1.30h-9.62zM72.9 466.29h9.62v1.30h-9.62zM118.5 467.29h9.62v1.30h-9.62zM109.4 468.29h9.62v1.30h-9.62z"/><path fill="#c0deca" d="M45.5 313.10h9.62v1.30h-9.62zM109.4 334.13h9.62v1.30h-9.62zM82.0 356.15h9.62v1.30h-9.62zM109.4 358.16h9.62v1.30h-9.62zM91.1 360.16h9.62v1.30h-9.62zM109.4 370.17h9.62v1.30h-9.62zM100.3 378.18h9.62v1.30h-9.62zM109.4 378.18h9.62v1.30h-9.62zM109.4 397.20h9.62v1.30h-9.62zM91.1 398.21h9.62v1.30h-9.62zM18.2 422.23h9.62v1.30h-9.62zM36.4 441.26h9.62v1.30h-9.62zM91.1 466.29h9.62v1.30h-9.62zM18.2 468.29h9.62v1.30h-9.62zM36.4 472.30h9.62v1.30h-9.62zM118.5 472.30h9.62v1.30h-9.62z"/><path fill="#cadec0" d="M54.7 313.10h9.62v1.30h-9.62zM100.3 316.11h9.62v1.30h-9.62zM36.4 323.11h9.62v1.30h-9.62zM118.5 333.13h9.62v1.30h-9.62zM27.3 334.13h9.62v1.30h-9.62zM36.4 337.13h9.62v1.30h-9.62zM45.5 342.14h9.62v1.30h-9.62zM63.8 346.14h9.62v1.30h-9.62zM118.5 347.14h9.62v1.30h-9.62zM109.4 353.15h9.62v1.30h-9.62zM45.5 363.16h9.62v1.30h-9.62zM45.5 367.17h9.62v1.30h-9.62zM54.7 367.17h9.62v1.30h-9.62zM27.3 369.17h9.62v1.30h-9.62zM36.4 369.17h9.62v1.30h-9.62zM45.5 370.17h9.62v1.30h-9.62zM82.0 371.17h9.62v1.30h-9.62zM27.3 378.18h9.62v1.30h-9.62zM82.0 383.19h9.62v1.30h-9.62zM109.4 386.19h9.62v1.30h-9.62zM72.9 387.19h9.62v1.30h-9.62zM27.3 391.20h9.62v1.30h-9.62zM72.9 391.20h9.62v1.30h-9.62zM27.3 401.21h9.62v1.30h-9.62zM72.9 402.21h9.62v1.30h-9.62zM54.7 406.22h9.62v1.30h-9.62zM82.0 413.22h9.62v1.30h-9.62zM91.1 425.24h9.62v1.30h-9.62zM36.4 432.25h9.62v1.30h-9.62zM54.7 442.26h9.62v1.30h-9.62zM82.0 447.26h9.62v1.30h-9.62zM18.2 471.29h9.62v1.30h-9.62z"/><path fill="#75bbe3" d="M72.9 313.10h9.62v1.30h-9.62zM109.4 379.18h9.62v1.30h-9.62z"/><path fill="#70b6e8" d="M82.0 313.10h9.62v1.30h-9.62zM100.3 318.11h9.62v1.30h-9.62zM109.4 318.11h9.62v1.30h-9.62zM82.0 324.12h9.62v1.30h-9.62zM72.9 326.12h9.62v1.30h-9.62zM82.0 326.12h9.62v1.30h-9.62zM118.5 329.12h9.62v1.30h-9.62zM72.9 339.13h9.62v1.30h-9.62zM72.9 343.14h9.62v1.30h-9.62zM109.4 345.14h9.62v1.30h-9.62zM118.5 345.14h9.62v1.30h-9.62zM82.0 349.15h9.62v1.30h-9.62zM91.1 352.15h9.62v1.30h-9.62zM100.3 364.16h9.62v1.30h-9.62zM100.3 400.21h9.62v1.30h-9.62zM100.3 426.24h9.62v1.30h-9.62zM118.5 426.24h9.62v1.30h-9.62zM82.0 450.27h9.62v1.30h-9.62zM109.4 463.28h9.62v1.30h-9.62z"/><path fill="#75bbe8" d="M100.3 313.10h9.62v1.30h-9.62zM91.1 320.11h9.62v1.30h-9.62zM91.1 324.12h9.62v1.30h-9.62zM91.1 326.12h9.62v1.30h-9.62zM72.9 331.12h9.62v1.30h-9.62zM91.1 340.14h9.62v1.30h-9.62zM91.1 343.14h9.62v1.30h-9.62zM72.9 349.15h9.62v1.30h-9.62zM91.1 349.15h9.62v1.30h-9.62zM100.3 350.15h9.62v1.30h-9.62zM109.4 350.15h9.62v1.30h-9.62zM82.0 354.15h9.62v1.30h-9.62zM118.5 354.15h9.62v1.30h-9.62zM100.3 365.17h9.62v1.30h-9.62zM91.1 379.18h9.62v1.30h-9.62zM100.3 379.18h9.62v1.30h-9.62zM109.4 426.24h9.62v1.30h-9.62zM18.2 438.25h9.62v1.30h-9.62zM91.1 453.27h9.62v1.30h-9.62zM82.0 457.28h9.62v1.30h-9.62zM91.1 468.29h9.62v1.30h-9.62z"/><path fill="#66b1e3" d="M109.4 313.10h9.62v1.30h-9.62zM91.1 325.12h9.62v1.30h-9.62zM100.3 329.12h9.62v1.30h-9.62zM72.9 346.14h9.62v1.30h-9.62zM91.1 346.14h9.62v1.30h-9.62zM72.9 348.14h9.62v1.30h-9.62zM100.3 348.14h9.62v1.30h-9.62zM91.1 364.16h9.62v1.30h-9.62zM72.9 422.23h9.62v1.30h-9.62zM91.1 422.23h9.62v1.30h-9.62zM100.3 422.23h9.62v1.30h-9.62zM118.5 422.23h9.62v1.30h-9.62zM27.3 424.24h9.62v1.30h-9.62zM100.3 424.24h9.62v1.30h-9.62zM36.4 434.25h9.62v1.30h-9.62zM72.9 437.25h9.62v1.30h-9.62zM18.2 457.28h9.62v1.30h-9.62zM63.8 458.28h9.62v1.30h-9.62zM91.1 462.28h9.62v1.30h-9.62zM72.9 474.30h9.62v1.30h-9.62zM82.0 474.30h9.62v1.30h-9.62z"/><path fill="#cfdebb" d="M18.2 314.10h9.62v1.30h-9.62zM91.1 317.11h9.62v1.30h-9.62zM27.3 327.12h9.62v1.30h-9.62zM36.4 327.12h9.62v1.30h-9.62zM27.3 329.12h9.62v1.30h-9.62zM18.2 334.13h9.62v1.30h-9.62zM45.5 340.14h9.62v1.30h-9.62zM45.5 341.14h9.62v1.30h-9.62zM118.5 341.14h9.62v1.30h-9.62zM45.5 345.14h9.62v1.30h-9.62zM54.7 346.14h9.62v1.30h-9.62zM54.7 365.17h9.62v1.30h-9.62zM63.8 365.17h9.62v1.30h-9.62zM36.4 367.17h9.62v1.30h-9.62zM118.5 368.17h9.62v1.30h-9.62zM54.7 369.17h9.62v1.30h-9.62zM63.8 379.18h9.62v1.30h-9.62zM100.3 381.18h9.62v1.30h-9.62zM72.9 383.19h9.62v1.30h-9.62zM109.4 383.19h9.62v1.30h-9.62zM100.3 386.19h9.62v1.30h-9.62zM91.1 387.19h9.62v1.30h-9.62zM45.5 391.20h9.62v1.30h-9.62zM82.0 391.20h9.62v1.30h-9.62zM91.1 400.21h9.62v1.30h-9.62zM63.8 402.21h9.62v1.30h-9.62zM45.5 406.22h9.62v1.30h-9.62zM54.7 411.22h9.62v1.30h-9.62zM54.7 420.23h9.62v1.30h-9.62zM36.4 425.24h9.62v1.30h-9.62zM63.8 433.25h9.62v1.30h-9.62zM63.8 437.25h9.62v1.30h-9.62zM63.8 442.26h9.62v1.30h-9.62zM36.4 445.26h9.62v1.30h-9.62zM109.4 446.26h9.62v1.30h-9.62zM18.2 448.27h9.62v1.30h-9.62zM118.5 455.27h9.62v1.30h-9.62zM36.4 468.29h9.62v1.30h-9.62z"/><path fill="#dee3a7" d="M27.3 314.10h9.62v1.30h-9.62zM54.7 322.11h9.62v1.30h-9.62zM18.2 325.12h9.62v1.30h-9.62zM36.4 329.12h9.62v1.30h-9.62zM54.7 344.14h9.62v1.30h-9.62zM63.8 349.15h9.62v1.30h-9.62zM18.2 355.15h9.62v1.30h-9.62zM18.2 357.16h9.62v1.30h-9.62zM18.2 360.16h9.62v1.30h-9.62zM100.3 362.16h9.62v1.30h-9.62zM54.7 368.17h9.62v1.30h-9.62zM36.4 371.17h9.62v1.30h-9.62zM109.4 376.18h9.62v1.30h-9.62zM118.5 376.18h9.62v1.30h-9.62zM45.5 377.18h9.62v1.30h-9.62zM54.7 379.18h9.62v1.30h-9.62zM27.3 380.18h9.62v1.30h-9.62zM100.3 380.18h9.62v1.30h-9.62zM63.8 395.20h9.62v1.30h-9.62zM36.4 401.21h9.62v1.30h-9.62zM72.9 404.21h9.62v1.30h-9.62zM91.1 410.22h9.62v1.30h-9.62zM118.5 410.22h9.62v1.30h-9.62zM91.1 412.22h9.62v1.30h-9.62zM18.2 413.22h9.62v1.30h-9.62zM63.8 413.22h9.62v1.30h-9.62zM100.3 413.22h9.62v1.30h-9.62zM100.3 414.22h9.62v1.30h-9.62zM27.3 415.23h9.62v1.30h-9.62zM18.2 423.24h9.62v1.30h-9.62zM54.7 430.24h9.62v1.30h-9.62zM54.7 431.25h9.62v1.30h-9.62zM63.8 431.25h9.62v1.30h-9.62zM45.5 435.25h9.62v1.30h-9.62zM18.2 436.25h9.62v1.30h-9.62zM45.5 442.26h9.62v1.30h-9.62zM54.7 444.26h9.62v1.30h-9.62zM27.3 447.26h9.62v1.30h-9.62zM45.5 453.27h9.62v1.30h-9.62zM54.7 461.28h9.62v1.30h-9.62zM18.2 464.29h9.62v1.30h-9.62zM82.0 464.29h9.62v1.30h-9.62zM18.2 467.29h9.62v1.30h-9.62zM45.5 472.30h9.62v1.30h-9.62zM36.4 475.30h9.62v1.30h-9.62z"/><path fill="#d4deb6" d="M36.4 314.10h9.62v1.30h-9.62zM18.2 317.11h9.62v1.30h-9.62zM27.3 325.12h9.62v1.30h-9.62zM45.5 327.12h9.62v1.30h-9.62zM109.4 332.13h9.62v1.30h-9.62zM100.3 333.13h9.62v1.30h-9.62zM109.4 347.14h9.62v1.30h-9.62zM27.3 349.15h9.62v1.30h-9.62zM91.1 353.15h9.62v1.30h-9.62zM18.2 354.15h9.62v1.30h-9.62zM72.9 356.15h9.62v1.30h-9.62zM91.1 356.15h9.62v1.30h-9.62zM91.1 367.17h9.62v1.30h-9.62zM45.5 369.17h9.62v1.30h-9.62zM82.0 380.18h9.62v1.30h-9.62zM91.1 380.18h9.62v1.30h-9.62zM27.3 384.19h9.62v1.30h-9.62zM118.5 386.19h9.62v1.30h-9.62zM82.0 397.20h9.62v1.30h-9.62zM100.3 398.21h9.62v1.30h-9.62zM18.2 407.22h9.62v1.30h-9.62zM27.3 407.22h9.62v1.30h-9.62zM118.5 412.22h9.62v1.30h-9.62zM18.2 432.25h9.62v1.30h-9.62zM72.9 432.25h9.62v1.30h-9.62zM82.0 432.25h9.62v1.30h-9.62zM36.4 436.25h9.62v1.30h-9.62zM54.7 436.25h9.62v1.30h-9.62zM18.2 444.26h9.62v1.30h-9.62zM27.3 445.26h9.62v1.30h-9.62zM45.5 445.26h9.62v1.30h-9.62zM54.7 445.26h9.62v1.30h-9.62zM36.4 448.27h9.62v1.30h-9.62zM100.3 455.27h9.62v1.30h-9.62zM82.0 456.28h9.62v1.30h-9.62zM45.5 461.28h9.62v1.30h-9.62zM54.7 471.29h9.62v1.30h-9.62zM72.9 472.30h9.62v1.30h-9.62zM82.0 472.30h9.62v1.30h-9.62z"/><path fill="#f7d47a" d="M45.5 314.10h9.62v1.30h-9.62zM63.8 316.11h9.62v1.30h-9.62zM54.7 319.11h9.62v1.30h-9.62zM45.5 330.12h9.62v1.30h-9.62zM54.7 332.13h9.62v1.30h-9.62zM18.2 353.15h9.62v1.30h-9.62zM27.3 353.15h9.62v1.30h-9.62zM54.7 357.16h9.62v1.30h-9.62zM118.5 357.16h9.62v1.30h-9.62zM45.5 366.17h9.62v1.30h-9.62zM54.7 366.17h9.62v1.30h-9.62zM18.2 368.17h9.62v1.30h-9.62zM27.3 368.17h9.62v1.30h-9.62zM36.4 368.17h9.62v1.30h-9.62zM63.8 374.18h9.62v1.30h-9.62zM82.0 374.18h9.62v1.30h-9.62zM91.1 376.18h9.62v1.30h-9.62zM18.2 377.18h9.62v1.30h-9.62zM63.8 380.18h9.62v1.30h-9.62zM27.3 385.19h9.62v1.30h-9.62zM100.3 385.19h9.62v1.30h-9.62zM27.3 390.20h9.62v1.30h-9.62zM27.3 394.20h9.62v1.30h-9.62zM18.2 396.20h9.62v1.30h-9.62zM36.4 396.20h9.62v1.30h-9.62zM36.4 397.20h9.62v1.30h-9.62zM82.0 405.21h9.62v1.30h-9.62zM72.9 409.22h9.62v1.30h-9.62zM36.4 410.22h9.62v1.30h-9.62zM27.3 411.22h9.62v1.30h-9.62zM63.8 414.22h9.62v1.30h-9.62zM100.3 416.23h9.62v1.30h-9.62zM72.9 417.23h9.62v1.30h-9.62zM91.1 417.23h9.62v1.30h-9.62zM36.4 421.23h9.62v1.30h-9.62zM54.7 423.24h9.62v1.30h-9.62zM45.5 425.24h9.62v1.30h-9.62zM45.5 432.25h9.62v1.30h-9.62zM45.5 443.26h9.62v1.30h-9.62zM54.7 443.26h9.62v1.30h-9.62zM63.8 443.26h9.62v1.30h-9.62zM27.3 452.27h9.62v1.30h-9.62z"/><path fill="#f7d97a" d="M54.7 314.10h9.62v1.30h-9.62zM27.3 351.15h9.62v1.30h-9.62zM45.5 362.16h9.62v1.30h-9.62zM100.3 374.18h9.62v1.30h-9.62zM27.3 377.18h9.62v1.30h-9.62zM100.3 382.19h9.62v1.30h-9.62zM118.5 385.19h9.62v1.30h-9.62zM63.8 390.20h9.62v1.30h-9.62zM18.2 405.21h9.62v1.30h-9.62zM27.3 409.22h9.62v1.30h-9.62zM36.4 418.23h9.62v1.30h-9.62zM72.9 418.23h9.62v1.30h-9.62zM72.9 452.27h9.62v1.30h-9.62z"/><path fill="#f2d97f" d="M63.8 314.10h9.62v1.30h-9.62zM36.4 318.11h9.62v1.30h-9.62zM45.5 318.11h9.62v1.30h-9.62zM63.8 319.11h9.62v1.30h-9.62zM54.7 320.11h9.62v1.30h-9.62zM45.5 323.11h9.62v1.30h-9.62zM27.3 328.12h9.62v1.30h-9.62zM45.5 328.12h9.62v1.30h-9.62zM54.7 328.12h9.62v1.30h-9.62zM54.7 331.12h9.62v1.30h-9.62zM63.8 331.12h9.62v1.30h-9.62zM54.7 333.13h9.62v1.30h-9.62zM63.8 334.13h9.62v1.30h-9.62zM54.7 336.13h9.62v1.30h-9.62zM27.3 344.14h9.62v1.30h-9.62zM18.2 351.15h9.62v1.30h-9.62zM72.9 351.15h9.62v1.30h-9.62zM91.1 351.15h9.62v1.30h-9.62zM63.8 357.16h9.62v1.30h-9.62zM100.3 357.16h9.62v1.30h-9.62zM109.4 357.16h9.62v1.30h-9.62zM45.5 360.16h9.62v1.30h-9.62zM54.7 362.16h9.62v1.30h-9.62zM36.4 370.17h9.62v1.30h-9.62zM63.8 371.17h9.62v1.30h-9.62zM118.5 374.18h9.62v1.30h-9.62zM91.1 375.18h9.62v1.30h-9.62zM82.0 376.18h9.62v1.30h-9.62zM36.4 377.18h9.62v1.30h-9.62zM54.7 380.18h9.62v1.30h-9.62zM18.2 381.18h9.62v1.30h-9.62zM27.3 381.18h9.62v1.30h-9.62zM109.4 382.19h9.62v1.30h-9.62zM109.4 385.19h9.62v1.30h-9.62zM18.2 386.19h9.62v1.30h-9.62zM27.3 386.19h9.62v1.30h-9.62zM45.5 387.19h9.62v1.30h-9.62zM54.7 387.19h9.62v1.30h-9.62zM63.8 387.19h9.62v1.30h-9.62zM27.3 388.19h9.62v1.30h-9.62zM109.4 390.20h9.62v1.30h-9.62zM36.4 394.20h9.62v1.30h-9.62zM63.8 396.20h9.62v1.30h-9.62zM27.3 397.20h9.62v1.30h-9.62zM18.2 404.21h9.62v1.30h-9.62zM27.3 404.21h9.62v1.30h-9.62zM45.5 404.21h9.62v1.30h-9.62zM109.4 405.21h9.62v1.30h-9.62zM63.8 409.22h9.62v1.30h-9.62zM27.3 410.22h9.62v1.30h-9.62zM18.2 416.23h9.62v1.30h-9.62zM54.7 416.23h9.62v1.30h-9.62zM91.1 418.23h9.62v1.30h-9.62zM45.5 419.23h9.62v1.30h-9.62zM54.7 419.23h9.62v1.30h-9.62zM45.5 421.23h9.62v1.30h-9.62zM54.7 421.23h9.62v1.30h-9.62zM45.5 423.24h9.62v1.30h-9.62zM63.8 423.24h9.62v1.30h-9.62zM54.7 425.24h9.62v1.30h-9.62zM63.8 425.24h9.62v1.30h-9.62zM18.2 446.26h9.62v1.30h-9.62zM27.3 446.26h9.62v1.30h-9.62zM109.4 452.27h9.62v1.30h-9.62zM118.5 452.27h9.62v1.30h-9.62zM54.7 455.27h9.62v1.30h-9.62zM45.5 456.28h9.62v1.30h-9.62zM63.8 456.28h9.62v1.30h-9.62zM109.4 475.30h9.62v1.30h-9.62z"/><path fill="#a7d4de" d="M100.3 314.10h9.62v1.30h-9.62zM109.4 315.10h9.62v1.30h-9.62zM100.3 335.13h9.62v1.30h-9.62zM27.3 343.14h9.62v1.30h-9.62zM82.0 350.15h9.62v1.30h-9.62zM36.4 399.21h9.62v1.30h-9.62zM109.4 401.21h9.62v1.30h-9.62zM18.2 428.24h9.62v1.30h-9.62zM82.0 429.24h9.62v1.30h-9.62zM91.1 439.26h9.62v1.30h-9.62zM100.3 443.26h9.62v1.30h-9.62zM100.3 448.27h9.62v1.30h-9.62zM54.7 470.29h9.62v1.30h-9.62z"/><path fill="#a2d4de" d="M109.4 314.10h9.62v1.30h-9.62zM118.5 314.10h9.62v1.30h-9.62zM72.9 315.10h9.62v1.30h-9.62zM100.3 319.11h9.62v1.30h-9.62zM109.4 321.11h9.62v1.30h-9.62zM82.0 322.11h9.62v1.30h-9.62zM91.1 323.11h9.62v1.30h-9.62zM36.4 324.12h9.62v1.30h-9.62zM82.0 330.12h9.62v1.30h-9.62zM82.0 334.13h9.62v1.30h-9.62zM109.4 337.13h9.62v1.30h-9.62zM118.5 337.13h9.62v1.30h-9.62zM82.0 342.14h9.62v1.30h-9.62zM36.4 345.14h9.62v1.30h-9.62zM27.3 348.14h9.62v1.30h-9.62zM109.4 355.15h9.62v1.30h-9.62zM100.3 360.16h9.62v1.30h-9.62zM72.9 363.16h9.62v1.30h-9.62zM54.7 364.16h9.62v1.30h-9.62zM72.9 381.18h9.62v1.30h-9.62zM109.4 384.19h9.62v1.30h-9.62zM72.9 399.21h9.62v1.30h-9.62zM72.9 423.24h9.62v1.30h-9.62zM91.1 429.24h9.62v1.30h-9.62zM100.3 429.24h9.62v1.30h-9.62zM18.2 430.24h9.62v1.30h-9.62zM118.5 442.26h9.62v1.30h-9.62zM100.3 444.26h9.62v1.30h-9.62zM109.4 445.26h9.62v1.30h-9.62zM36.4 450.27h9.62v1.30h-9.62zM45.5 451.27h9.62v1.30h-9.62zM118.5 456.28h9.62v1.30h-9.62zM100.3 460.28h9.62v1.30h-9.62zM36.4 461.28h9.62v1.30h-9.62zM63.8 462.28h9.62v1.30h-9.62zM118.5 462.28h9.62v1.30h-9.62zM45.5 466.29h9.62v1.30h-9.62zM109.4 466.29h9.62v1.30h-9.62zM72.9 467.29h9.62v1.30h-9.62z"/><path fill="#b1d9d9" d="M27.3 315.10h9.62v1.30h-9.62zM72.9 316.11h9.62v1.30h-9.62zM82.0 317.11h9.62v1.30h-9.62zM27.3 321.11h9.62v1.30h-9.62zM118.5 321.11h9.62v1.30h-9.62zM36.4 322.11h9.62v1.30h-9.62zM91.1 328.12h9.62v1.30h-9.62zM118.5 334.13h9.62v1.30h-9.62zM45.5 337.13h9.62v1.30h-9.62zM18.2 338.13h9.62v1.30h-9.62zM18.2 339.13h9.62v1.30h-9.62zM63.8 343.14h9.62v1.30h-9.62zM109.4 349.15h9.62v1.30h-9.62zM118.5 355.15h9.62v1.30h-9.62zM91.1 358.16h9.62v1.30h-9.62zM82.0 360.16h9.62v1.30h-9.62zM18.2 363.16h9.62v1.30h-9.62zM36.4 363.16h9.62v1.30h-9.62zM91.1 363.16h9.62v1.30h-9.62zM54.7 384.19h9.62v1.30h-9.62zM82.0 384.19h9.62v1.30h-9.62zM91.1 384.19h9.62v1.30h-9.62zM100.3 384.19h9.62v1.30h-9.62zM118.5 384.19h9.62v1.30h-9.62zM91.1 388.19h9.62v1.30h-9.62zM100.3 388.19h9.62v1.30h-9.62zM91.1 391.20h9.62v1.30h-9.62zM45.5 401.21h9.62v1.30h-9.62zM118.5 401.21h9.62v1.30h-9.62zM54.7 408.22h9.62v1.30h-9.62zM27.3 422.23h9.62v1.30h-9.62zM18.2 425.24h9.62v1.30h-9.62zM45.5 437.25h9.62v1.30h-9.62zM27.3 441.26h9.62v1.30h-9.62zM63.8 441.26h9.62v1.30h-9.62zM72.9 443.26h9.62v1.30h-9.62zM82.0 443.26h9.62v1.30h-9.62zM91.1 443.26h9.62v1.30h-9.62zM82.0 444.26h9.62v1.30h-9.62zM118.5 444.26h9.62v1.30h-9.62zM100.3 445.26h9.62v1.30h-9.62zM118.5 448.27h9.62v1.30h-9.62zM109.4 456.28h9.62v1.30h-9.62zM63.8 459.28h9.62v1.30h-9.62zM27.3 460.28h9.62v1.30h-9.62zM36.4 460.28h9.62v1.30h-9.62zM54.7 467.29h9.62v1.30h-9.62zM82.0 471.29h9.62v1.30h-9.62zM91.1 471.29h9.62v1.30h-9.62zM18.2 474.30h9.62v1.30h-9.62zM27.3 474.30h9.62v1.30h-9.62zM36.4 474.30h9.62v1.30h-9.62z"/><path fill="#bbd9cf" d="M36.4 315.10h9.62v1.30h-9.62zM82.0 316.11h9.62v1.30h-9.62zM27.3 322.11h9.62v1.30h-9.62zM100.3 334.13h9.62v1.30h-9.62zM109.4 336.13h9.62v1.30h-9.62zM18.2 337.13h9.62v1.30h-9.62zM36.4 340.14h9.62v1.30h-9.62zM91.1 347.14h9.62v1.30h-9.62zM100.3 356.15h9.62v1.30h-9.62zM63.8 367.17h9.62v1.30h-9.62zM100.3 377.18h9.62v1.30h-9.62zM82.0 378.18h9.62v1.30h-9.62zM118.5 381.18h9.62v1.30h-9.62zM91.1 382.19h9.62v1.30h-9.62zM100.3 383.19h9.62v1.30h-9.62zM45.5 384.19h9.62v1.30h-9.62zM82.0 387.19h9.62v1.30h-9.62zM82.0 388.19h9.62v1.30h-9.62zM63.8 389.19h9.62v1.30h-9.62zM72.9 398.21h9.62v1.30h-9.62zM82.0 401.21h9.62v1.30h-9.62zM82.0 402.21h9.62v1.30h-9.62zM54.7 415.23h9.62v1.30h-9.62zM118.5 420.23h9.62v1.30h-9.62zM63.8 426.24h9.62v1.30h-9.62zM54.7 427.24h9.62v1.30h-9.62zM27.3 428.24h9.62v1.30h-9.62zM109.4 439.26h9.62v1.30h-9.62zM118.5 439.26h9.62v1.30h-9.62zM18.2 441.26h9.62v1.30h-9.62zM100.3 441.26h9.62v1.30h-9.62zM27.3 454.27h9.62v1.30h-9.62zM82.0 466.29h9.62v1.30h-9.62zM54.7 474.30h9.62v1.30h-9.62z"/><path fill="#f7cf70" d="M45.5 315.10h9.62v1.30h-9.62zM63.8 315.10h9.62v1.30h-9.62zM36.4 359.16h9.62v1.30h-9.62zM118.5 366.17h9.62v1.30h-9.62zM82.0 409.22h9.62v1.30h-9.62zM91.1 409.22h9.62v1.30h-9.62zM109.4 416.23h9.62v1.30h-9.62zM18.2 421.23h9.62v1.30h-9.62z"/><path fill="#f2cf70" d="M54.7 315.10h9.62v1.30h-9.62zM45.5 390.20h9.62v1.30h-9.62zM54.7 469.29h9.62v1.30h-9.62z"/><path fill="#b6d9d4" d="M91.1 315.10h9.62v1.30h-9.62zM91.1 316.11h9.62v1.30h-9.62zM109.4 316.11h9.62v1.30h-9.62zM72.9 318.11h9.62v1.30h-9.62zM36.4 321.11h9.62v1.30h-9.62zM18.2 322.11h9.62v1.30h-9.62zM100.3 323.11h9.62v1.30h-9.62zM118.5 323.11h9.62v1.30h-9.62zM18.2 326.12h9.62v1.30h-9.62zM63.8 326.12h9.62v1.30h-9.62zM18.2 330.12h9.62v1.30h-9.62zM72.9 330.12h9.62v1.30h-9.62zM91.1 330.12h9.62v1.30h-9.62zM100.3 341.14h9.62v1.30h-9.62zM72.9 347.14h9.62v1.30h-9.62zM100.3 349.15h9.62v1.30h-9.62zM54.7 350.15h9.62v1.30h-9.62zM72.9 355.15h9.62v1.30h-9.62zM82.0 357.16h9.62v1.30h-9.62zM82.0 358.16h9.62v1.30h-9.62zM27.3 363.16h9.62v1.30h-9.62zM27.3 367.17h9.62v1.30h-9.62zM118.5 370.17h9.62v1.30h-9.62zM54.7 372.17h9.62v1.30h-9.62zM72.9 372.17h9.62v1.30h-9.62zM82.0 372.17h9.62v1.30h-9.62zM91.1 378.18h9.62v1.30h-9.62zM82.0 382.19h9.62v1.30h-9.62zM63.8 384.19h9.62v1.30h-9.62zM72.9 384.19h9.62v1.30h-9.62zM54.7 389.19h9.62v1.30h-9.62zM82.0 398.21h9.62v1.30h-9.62zM18.2 399.21h9.62v1.30h-9.62zM63.8 401.21h9.62v1.30h-9.62zM72.9 413.22h9.62v1.30h-9.62zM100.3 423.24h9.62v1.30h-9.62zM109.4 423.24h9.62v1.30h-9.62zM109.4 425.24h9.62v1.30h-9.62zM36.4 431.25h9.62v1.30h-9.62zM100.3 432.25h9.62v1.30h-9.62zM72.9 439.26h9.62v1.30h-9.62zM100.3 439.26h9.62v1.30h-9.62zM54.7 440.26h9.62v1.30h-9.62zM54.7 441.26h9.62v1.30h-9.62zM91.1 444.26h9.62v1.30h-9.62zM109.4 444.26h9.62v1.30h-9.62zM118.5 445.26h9.62v1.30h-9.62zM109.4 448.27h9.62v1.30h-9.62zM27.3 449.27h9.62v1.30h-9.62zM63.8 449.27h9.62v1.30h-9.62zM36.4 454.27h9.62v1.30h-9.62zM100.3 456.28h9.62v1.30h-9.62zM36.4 459.28h9.62v1.30h-9.62zM45.5 459.28h9.62v1.30h-9.62zM54.7 459.28h9.62v1.30h-9.62zM118.5 460.28h9.62v1.30h-9.62zM27.3 463.28h9.62v1.30h-9.62zM118.5 465.29h9.62v1.30h-9.62zM100.3 468.29h9.62v1.30h-9.62zM27.3 470.29h9.62v1.30h-9.62zM45.5 470.29h9.62v1.30h-9.62zM27.3 472.30h9.62v1.30h-9.62zM54.7 473.30h9.62v1.30h-9.62z"/><path fill="#f2de84" d="M27.3 316.11h9.62v1.30h-9.62zM36.4 316.11h9.62v1.30h-9.62zM18.2 318.11h9.62v1.30h-9.62zM36.4 328.12h9.62v1.30h-9.62zM45.5 332.13h9.62v1.30h-9.62zM63.8 332.13h9.62v1.30h-9.62zM45.5 333.13h9.62v1.30h-9.62zM63.8 333.13h9.62v1.30h-9.62zM45.5 334.13h9.62v1.30h-9.62zM54.7 334.13h9.62v1.30h-9.62zM45.5 339.13h9.62v1.30h-9.62zM36.4 344.14h9.62v1.30h-9.62zM63.8 347.14h9.62v1.30h-9.62zM36.4 351.15h9.62v1.30h-9.62zM54.7 352.15h9.62v1.30h-9.62zM54.7 354.15h9.62v1.30h-9.62zM45.5 358.16h9.62v1.30h-9.62zM63.8 358.16h9.62v1.30h-9.62zM72.9 359.16h9.62v1.30h-9.62zM18.2 362.16h9.62v1.30h-9.62zM36.4 362.16h9.62v1.30h-9.62zM54.7 371.17h9.62v1.30h-9.62zM18.2 375.18h9.62v1.30h-9.62zM27.3 375.18h9.62v1.30h-9.62zM36.4 375.18h9.62v1.30h-9.62zM82.0 375.18h9.62v1.30h-9.62zM54.7 381.18h9.62v1.30h-9.62zM36.4 382.19h9.62v1.30h-9.62zM45.5 382.19h9.62v1.30h-9.62zM54.7 382.19h9.62v1.30h-9.62zM118.5 382.19h9.62v1.30h-9.62zM54.7 383.19h9.62v1.30h-9.62zM72.9 385.19h9.62v1.30h-9.62zM82.0 385.19h9.62v1.30h-9.62zM36.4 386.19h9.62v1.30h-9.62zM63.8 386.19h9.62v1.30h-9.62zM72.9 386.19h9.62v1.30h-9.62zM18.2 387.19h9.62v1.30h-9.62zM27.3 387.19h9.62v1.30h-9.62zM36.4 387.19h9.62v1.30h-9.62zM18.2 388.19h9.62v1.30h-9.62zM54.7 388.19h9.62v1.30h-9.62zM118.5 394.20h9.62v1.30h-9.62zM18.2 398.21h9.62v1.30h-9.62zM27.3 398.21h9.62v1.30h-9.62zM36.4 402.21h9.62v1.30h-9.62zM36.4 404.21h9.62v1.30h-9.62zM54.7 404.21h9.62v1.30h-9.62zM63.8 404.21h9.62v1.30h-9.62zM36.4 405.21h9.62v1.30h-9.62zM100.3 405.21h9.62v1.30h-9.62zM118.5 405.21h9.62v1.30h-9.62zM54.7 409.22h9.62v1.30h-9.62zM18.2 410.22h9.62v1.30h-9.62zM36.4 416.23h9.62v1.30h-9.62zM27.3 418.23h9.62v1.30h-9.62zM63.8 419.23h9.62v1.30h-9.62zM18.2 435.25h9.62v1.30h-9.62zM18.2 443.26h9.62v1.30h-9.62zM36.4 446.26h9.62v1.30h-9.62zM54.7 452.27h9.62v1.30h-9.62zM45.5 455.27h9.62v1.30h-9.62zM54.7 456.28h9.62v1.30h-9.62zM45.5 464.29h9.62v1.30h-9.62zM54.7 464.29h9.62v1.30h-9.62zM100.3 464.29h9.62v1.30h-9.62zM109.4 464.29h9.62v1.30h-9.62zM109.4 469.29h9.62v1.30h-9.62z"/><path fill="#f7cf75" d="M45.5 316.11h9.62v1.30h-9.62zM54.7 317.11h9.62v1.30h-9.62zM54.7 330.12h9.62v1.30h-9.62zM45.5 355.15h9.62v1.30h-9.62zM63.8 355.15h9.62v1.30h-9.62zM45.5 357.16h9.62v1.30h-9.62zM18.2 366.17h9.62v1.30h-9.62zM91.1 374.18h9.62v1.30h-9.62zM27.3 376.18h9.62v1.30h-9.62zM72.9 376.18h9.62v1.30h-9.62zM45.5 380.18h9.62v1.30h-9.62zM18.2 385.19h9.62v1.30h-9.62zM45.5 385.19h9.62v1.30h-9.62zM63.8 385.19h9.62v1.30h-9.62zM36.4 390.20h9.62v1.30h-9.62zM18.2 409.22h9.62v1.30h-9.62zM36.4 409.22h9.62v1.30h-9.62zM36.4 414.22h9.62v1.30h-9.62zM45.5 414.22h9.62v1.30h-9.62zM54.7 414.22h9.62v1.30h-9.62zM27.3 416.23h9.62v1.30h-9.62zM82.0 418.23h9.62v1.30h-9.62zM27.3 421.23h9.62v1.30h-9.62zM54.7 432.25h9.62v1.30h-9.62zM18.2 452.27h9.62v1.30h-9.62zM82.0 452.27h9.62v1.30h-9.62z"/><path fill="#f7d475" d="M54.7 316.11h9.62v1.30h-9.62zM45.5 320.11h9.62v1.30h-9.62zM63.8 320.11h9.62v1.30h-9.62zM63.8 330.12h9.62v1.30h-9.62zM45.5 331.12h9.62v1.30h-9.62zM45.5 336.13h9.62v1.30h-9.62zM63.8 336.13h9.62v1.30h-9.62zM36.4 353.15h9.62v1.30h-9.62zM54.7 355.15h9.62v1.30h-9.62zM109.4 366.17h9.62v1.30h-9.62zM72.9 374.18h9.62v1.30h-9.62zM18.2 376.18h9.62v1.30h-9.62zM36.4 385.19h9.62v1.30h-9.62zM54.7 385.19h9.62v1.30h-9.62zM18.2 390.20h9.62v1.30h-9.62zM54.7 390.20h9.62v1.30h-9.62zM27.3 396.20h9.62v1.30h-9.62zM27.3 405.21h9.62v1.30h-9.62zM72.9 405.21h9.62v1.30h-9.62zM118.5 416.23h9.62v1.30h-9.62zM82.0 417.23h9.62v1.30h-9.62zM63.8 421.23h9.62v1.30h-9.62zM63.8 432.25h9.62v1.30h-9.62zM91.1 452.27h9.62v1.30h-9.62zM63.8 455.27h9.62v1.30h-9.62z"/><path fill="#d9deac" d="M27.3 317.11h9.62v1.30h-9.62zM63.8 322.11h9.62v1.30h-9.62zM36.4 331.12h9.62v1.30h-9.62zM36.4 332.13h9.62v1.30h-9.62zM54.7 341.14h9.62v1.30h-9.62zM36.4 346.14h9.62v1.30h-9.62zM45.5 346.14h9.62v1.30h-9.62zM27.3 360.16h9.62v1.30h-9.62zM100.3 368.17h9.62v1.30h-9.62zM109.4 371.17h9.62v1.30h-9.62zM91.1 373.18h9.62v1.30h-9.62zM109.4 377.18h9.62v1.30h-9.62zM18.2 384.19h9.62v1.30h-9.62zM118.5 396.20h9.62v1.30h-9.62zM45.5 402.21h9.62v1.30h-9.62zM36.4 406.22h9.62v1.30h-9.62zM45.5 411.22h9.62v1.30h-9.62zM18.2 415.23h9.62v1.30h-9.62zM54.7 433.25h9.62v1.30h-9.62zM54.7 435.25h9.62v1.30h-9.62zM45.5 447.26h9.62v1.30h-9.62zM72.9 447.26h9.62v1.30h-9.62zM118.5 447.26h9.62v1.30h-9.62zM27.3 448.27h9.62v1.30h-9.62zM72.9 455.27h9.62v1.30h-9.62zM109.4 455.27h9.62v1.30h-9.62zM18.2 465.29h9.62v1.30h-9.62zM27.3 471.29h9.62v1.30h-9.62z"/><path fill="#e3e39d" d="M36.4 317.11h9.62v1.30h-9.62zM36.4 320.11h9.62v1.30h-9.62zM63.8 324.12h9.62v1.30h-9.62zM45.5 325.12h9.62v1.30h-9.62zM63.8 329.12h9.62v1.30h-9.62zM54.7 342.14h9.62v1.30h-9.62zM100.3 351.15h9.62v1.30h-9.62zM27.3 355.15h9.62v1.30h-9.62zM109.4 359.16h9.62v1.30h-9.62zM27.3 373.18h9.62v1.30h-9.62zM100.3 387.19h9.62v1.30h-9.62zM100.3 395.20h9.62v1.30h-9.62zM45.5 397.20h9.62v1.30h-9.62zM100.3 397.20h9.62v1.30h-9.62zM100.3 403.21h9.62v1.30h-9.62zM91.1 404.21h9.62v1.30h-9.62zM18.2 408.22h9.62v1.30h-9.62zM72.9 421.23h9.62v1.30h-9.62zM36.4 423.24h9.62v1.30h-9.62zM45.5 434.25h9.62v1.30h-9.62zM63.8 444.26h9.62v1.30h-9.62zM36.4 467.29h9.62v1.30h-9.62z"/><path fill="#f2c56b" d="M45.5 317.11h9.62v1.30h-9.62zM63.8 353.15h9.62v1.30h-9.62zM54.7 359.16h9.62v1.30h-9.62zM63.8 366.17h9.62v1.30h-9.62zM100.3 366.17h9.62v1.30h-9.62zM36.4 374.18h9.62v1.30h-9.62zM18.2 419.23h9.62v1.30h-9.62zM54.7 446.26h9.62v1.30h-9.62zM63.8 469.29h9.62v1.30h-9.62z"/><path fill="#f2ca70" d="M63.8 317.11h9.62v1.30h-9.62zM45.5 353.15h9.62v1.30h-9.62zM18.2 359.16h9.62v1.30h-9.62zM27.3 366.17h9.62v1.30h-9.62zM36.4 366.17h9.62v1.30h-9.62zM45.5 374.18h9.62v1.30h-9.62zM36.4 376.18h9.62v1.30h-9.62zM45.5 376.18h9.62v1.30h-9.62zM54.7 376.18h9.62v1.30h-9.62zM18.2 394.20h9.62v1.30h-9.62zM27.3 414.22h9.62v1.30h-9.62zM45.5 446.26h9.62v1.30h-9.62zM36.4 452.27h9.62v1.30h-9.62z"/><path fill="#f2de89" d="M100.3 317.11h9.62v1.30h-9.62zM27.3 318.11h9.62v1.30h-9.62zM63.8 318.11h9.62v1.30h-9.62zM54.7 321.11h9.62v1.30h-9.62zM63.8 321.11h9.62v1.30h-9.62zM54.7 323.11h9.62v1.30h-9.62zM63.8 328.12h9.62v1.30h-9.62zM18.2 333.13h9.62v1.30h-9.62zM36.4 333.13h9.62v1.30h-9.62zM18.2 336.13h9.62v1.30h-9.62zM18.2 344.14h9.62v1.30h-9.62zM82.0 351.15h9.62v1.30h-9.62zM45.5 352.15h9.62v1.30h-9.62zM63.8 352.15h9.62v1.30h-9.62zM54.7 358.16h9.62v1.30h-9.62zM91.1 359.16h9.62v1.30h-9.62zM54.7 360.16h9.62v1.30h-9.62zM72.9 366.17h9.62v1.30h-9.62zM27.3 370.17h9.62v1.30h-9.62zM100.3 375.18h9.62v1.30h-9.62zM109.4 375.18h9.62v1.30h-9.62zM118.5 375.18h9.62v1.30h-9.62zM45.5 381.18h9.62v1.30h-9.62zM63.8 381.18h9.62v1.30h-9.62zM18.2 382.19h9.62v1.30h-9.62zM63.8 382.19h9.62v1.30h-9.62zM18.2 383.19h9.62v1.30h-9.62zM27.3 383.19h9.62v1.30h-9.62zM45.5 386.19h9.62v1.30h-9.62zM54.7 386.19h9.62v1.30h-9.62zM45.5 388.19h9.62v1.30h-9.62zM63.8 388.19h9.62v1.30h-9.62zM109.4 394.20h9.62v1.30h-9.62zM82.0 396.20h9.62v1.30h-9.62zM91.1 396.20h9.62v1.30h-9.62zM18.2 402.21h9.62v1.30h-9.62zM54.7 405.21h9.62v1.30h-9.62zM109.4 409.22h9.62v1.30h-9.62zM118.5 409.22h9.62v1.30h-9.62zM18.2 411.22h9.62v1.30h-9.62zM36.4 411.22h9.62v1.30h-9.62zM18.2 412.22h9.62v1.30h-9.62zM72.9 414.22h9.62v1.30h-9.62zM91.1 414.22h9.62v1.30h-9.62zM18.2 418.23h9.62v1.30h-9.62zM100.3 418.23h9.62v1.30h-9.62zM118.5 418.23h9.62v1.30h-9.62zM109.4 421.23h9.62v1.30h-9.62zM63.8 428.24h9.62v1.30h-9.62zM54.7 429.24h9.62v1.30h-9.62zM27.3 435.25h9.62v1.30h-9.62zM91.1 446.26h9.62v1.30h-9.62zM100.3 452.27h9.62v1.30h-9.62zM82.0 469.29h9.62v1.30h-9.62zM91.1 469.29h9.62v1.30h-9.62z"/><path fill="#f2e389" d="M54.7 318.11h9.62v1.30h-9.62zM18.2 320.11h9.62v1.30h-9.62zM18.2 328.12h9.62v1.30h-9.62zM27.3 333.13h9.62v1.30h-9.62zM63.8 338.13h9.62v1.30h-9.62zM45.5 347.14h9.62v1.30h-9.62zM54.7 347.14h9.62v1.30h-9.62zM36.4 356.15h9.62v1.30h-9.62zM18.2 370.17h9.62v1.30h-9.62zM45.5 371.17h9.62v1.30h-9.62zM18.2 373.18h9.62v1.30h-9.62zM54.7 375.18h9.62v1.30h-9.62zM63.8 375.18h9.62v1.30h-9.62zM45.5 383.19h9.62v1.30h-9.62zM45.5 396.20h9.62v1.30h-9.62zM54.7 396.20h9.62v1.30h-9.62zM63.8 397.20h9.62v1.30h-9.62zM118.5 404.21h9.62v1.30h-9.62zM91.1 405.21h9.62v1.30h-9.62zM72.9 411.22h9.62v1.30h-9.62zM36.4 412.22h9.62v1.30h-9.62zM36.4 417.23h9.62v1.30h-9.62zM54.7 418.23h9.62v1.30h-9.62zM63.8 418.23h9.62v1.30h-9.62zM109.4 419.23h9.62v1.30h-9.62zM45.5 428.24h9.62v1.30h-9.62zM45.5 429.24h9.62v1.30h-9.62zM63.8 429.24h9.62v1.30h-9.62zM63.8 452.27h9.62v1.30h-9.62zM63.8 475.30h9.62v1.30h-9.62zM91.1 475.30h9.62v1.30h-9.62zM118.5 475.30h9.62v1.30h-9.62z"/><path fill="#a7d4d9" d="M91.1 318.11h9.62v1.30h-9.62zM72.9 342.14h9.62v1.30h-9.62zM91.1 342.14h9.62v1.30h-9.62zM100.3 346.14h9.62v1.30h-9.62zM18.2 350.15h9.62v1.30h-9.62zM82.0 363.16h9.62v1.30h-9.62zM18.2 365.17h9.62v1.30h-9.62zM36.4 372.17h9.62v1.30h-9.62zM82.0 389.19h9.62v1.30h-9.62zM27.3 399.21h9.62v1.30h-9.62zM63.8 427.24h9.62v1.30h-9.62zM118.5 435.25h9.62v1.30h-9.62zM82.0 439.26h9.62v1.30h-9.62zM18.2 440.26h9.62v1.30h-9.62zM63.8 440.26h9.62v1.30h-9.62zM82.0 441.26h9.62v1.30h-9.62zM100.3 442.26h9.62v1.30h-9.62zM100.3 454.27h9.62v1.30h-9.62zM109.4 460.28h9.62v1.30h-9.62zM45.5 467.29h9.62v1.30h-9.62zM100.3 467.29h9.62v1.30h-9.62zM118.5 468.29h9.62v1.30h-9.62zM18.2 470.29h9.62v1.30h-9.62zM36.4 470.29h9.62v1.30h-9.62zM118.5 473.30h9.62v1.30h-9.62z"/><path fill="#70bbe8" d="M118.5 318.11h9.62v1.30h-9.62zM72.9 329.12h9.62v1.30h-9.62zM91.1 329.12h9.62v1.30h-9.62zM82.0 343.14h9.62v1.30h-9.62zM82.0 352.15h9.62v1.30h-9.62zM72.9 354.15h9.62v1.30h-9.62zM100.3 391.20h9.62v1.30h-9.62zM109.4 400.21h9.62v1.30h-9.62zM18.2 424.24h9.62v1.30h-9.62zM82.0 440.26h9.62v1.30h-9.62zM109.4 451.27h9.62v1.30h-9.62zM82.0 453.27h9.62v1.30h-9.62zM72.9 457.28h9.62v1.30h-9.62zM72.9 461.28h9.62v1.30h-9.62zM91.1 463.28h9.62v1.30h-9.62zM91.1 474.30h9.62v1.30h-9.62z"/><path fill="#d9deb1" d="M18.2 319.11h9.62v1.30h-9.62zM45.5 322.11h9.62v1.30h-9.62zM27.3 323.11h9.62v1.30h-9.62zM36.4 325.12h9.62v1.30h-9.62zM54.7 326.12h9.62v1.30h-9.62zM18.2 327.12h9.62v1.30h-9.62zM45.5 329.12h9.62v1.30h-9.62zM18.2 332.13h9.62v1.30h-9.62zM36.4 334.13h9.62v1.30h-9.62zM18.2 335.13h9.62v1.30h-9.62zM72.9 335.13h9.62v1.30h-9.62zM63.8 341.14h9.62v1.30h-9.62zM63.8 342.14h9.62v1.30h-9.62zM63.8 344.14h9.62v1.30h-9.62zM18.2 349.15h9.62v1.30h-9.62zM45.5 349.15h9.62v1.30h-9.62zM100.3 353.15h9.62v1.30h-9.62zM36.4 355.15h9.62v1.30h-9.62zM118.5 356.15h9.62v1.30h-9.62zM18.2 358.16h9.62v1.30h-9.62zM18.2 371.17h9.62v1.30h-9.62zM27.3 371.17h9.62v1.30h-9.62zM100.3 371.17h9.62v1.30h-9.62zM45.5 372.17h9.62v1.30h-9.62zM118.5 380.18h9.62v1.30h-9.62zM72.9 397.20h9.62v1.30h-9.62zM91.1 397.20h9.62v1.30h-9.62zM18.2 401.21h9.62v1.30h-9.62zM72.9 403.21h9.62v1.30h-9.62zM91.1 403.21h9.62v1.30h-9.62zM82.0 410.22h9.62v1.30h-9.62zM100.3 412.22h9.62v1.30h-9.62zM45.5 413.22h9.62v1.30h-9.62zM118.5 413.22h9.62v1.30h-9.62zM100.3 415.23h9.62v1.30h-9.62zM72.9 416.23h9.62v1.30h-9.62zM27.3 417.23h9.62v1.30h-9.62zM45.5 420.23h9.62v1.30h-9.62zM82.0 420.23h9.62v1.30h-9.62zM91.1 420.23h9.62v1.30h-9.62zM100.3 420.23h9.62v1.30h-9.62zM45.5 431.25h9.62v1.30h-9.62zM27.3 432.25h9.62v1.30h-9.62zM63.8 435.25h9.62v1.30h-9.62zM45.5 436.25h9.62v1.30h-9.62zM63.8 436.25h9.62v1.30h-9.62zM100.3 446.26h9.62v1.30h-9.62zM118.5 446.26h9.62v1.30h-9.62zM109.4 447.26h9.62v1.30h-9.62zM45.5 450.27h9.62v1.30h-9.62zM63.8 453.27h9.62v1.30h-9.62zM63.8 454.27h9.62v1.30h-9.62zM72.9 456.28h9.62v1.30h-9.62zM54.7 460.28h9.62v1.30h-9.62zM36.4 465.29h9.62v1.30h-9.62z"/><path fill="#d4debb" d="M27.3 319.11h9.62v1.30h-9.62zM109.4 333.13h9.62v1.30h-9.62zM36.4 354.15h9.62v1.30h-9.62zM72.9 367.17h9.62v1.30h-9.62zM63.8 370.17h9.62v1.30h-9.62zM118.5 388.19h9.62v1.30h-9.62zM82.0 400.21h9.62v1.30h-9.62zM109.4 414.22h9.62v1.30h-9.62zM82.0 416.23h9.62v1.30h-9.62zM45.5 433.25h9.62v1.30h-9.62z"/><path fill="#cfdec0" d="M36.4 319.11h9.62v1.30h-9.62zM36.4 338.13h9.62v1.30h-9.62zM100.3 347.14h9.62v1.30h-9.62zM36.4 349.15h9.62v1.30h-9.62zM91.1 368.17h9.62v1.30h-9.62zM109.4 368.17h9.62v1.30h-9.62zM82.0 373.18h9.62v1.30h-9.62zM18.2 378.18h9.62v1.30h-9.62zM109.4 381.18h9.62v1.30h-9.62zM118.5 383.19h9.62v1.30h-9.62zM36.4 391.20h9.62v1.30h-9.62zM72.9 395.20h9.62v1.30h-9.62zM27.3 408.22h9.62v1.30h-9.62zM91.1 416.23h9.62v1.30h-9.62zM100.3 447.26h9.62v1.30h-9.62zM54.7 454.27h9.62v1.30h-9.62zM91.1 456.28h9.62v1.30h-9.62zM36.4 471.29h9.62v1.30h-9.62z"/><path fill="#f2d97a" d="M45.5 319.11h9.62v1.30h-9.62zM27.3 359.16h9.62v1.30h-9.62zM109.4 374.18h9.62v1.30h-9.62zM36.4 388.19h9.62v1.30h-9.62zM18.2 397.20h9.62v1.30h-9.62zM36.4 398.21h9.62v1.30h-9.62zM45.5 409.22h9.62v1.30h-9.62zM45.5 416.23h9.62v1.30h-9.62zM63.8 416.23h9.62v1.30h-9.62z"/><path fill="#ede38e" d="M27.3 320.11h9.62v1.30h-9.62zM63.8 323.11h9.62v1.30h-9.62zM54.7 324.12h9.62v1.30h-9.62zM27.3 336.13h9.62v1.30h-9.62zM54.7 338.13h9.62v1.30h-9.62zM63.8 356.15h9.62v1.30h-9.62zM82.0 359.16h9.62v1.30h-9.62zM27.3 362.16h9.62v1.30h-9.62zM45.5 373.18h9.62v1.30h-9.62zM45.5 375.18h9.62v1.30h-9.62zM63.8 378.18h9.62v1.30h-9.62zM109.4 387.19h9.62v1.30h-9.62zM100.3 394.20h9.62v1.30h-9.62zM27.3 395.20h9.62v1.30h-9.62zM45.5 398.21h9.62v1.30h-9.62zM63.8 398.21h9.62v1.30h-9.62zM27.3 402.21h9.62v1.30h-9.62zM18.2 403.21h9.62v1.30h-9.62zM100.3 404.21h9.62v1.30h-9.62zM45.5 405.21h9.62v1.30h-9.62zM63.8 410.22h9.62v1.30h-9.62zM109.4 410.22h9.62v1.30h-9.62zM91.1 411.22h9.62v1.30h-9.62zM63.8 417.23h9.62v1.30h-9.62zM109.4 418.23h9.62v1.30h-9.62zM100.3 419.23h9.62v1.30h-9.62zM63.8 450.27h9.62v1.30h-9.62zM18.2 455.27h9.62v1.30h-9.62zM63.8 463.28h9.62v1.30h-9.62zM118.5 464.29h9.62v1.30h-9.62zM72.9 469.29h9.62v1.30h-9.62z"/><path fill="#89cae3" d="M118.5 320.11h9.62v1.30h-9.62zM100.3 372.17h9.62v1.30h-9.62zM109.4 372.17h9.62v1.30h-9.62zM27.3 389.19h9.62v1.30h-9.62zM45.5 399.21h9.62v1.30h-9.62zM118.5 431.25h9.62v1.30h-9.62zM27.3 439.26h9.62v1.30h-9.62zM118.5 461.28h9.62v1.30h-9.62zM18.2 463.28h9.62v1.30h-9.62zM72.9 470.29h9.62v1.30h-9.62zM118.5 474.30h9.62v1.30h-9.62z"/><path fill="#7fc0e3" d="M100.3 322.11h9.62v1.30h-9.62zM118.5 322.11h9.62v1.30h-9.62zM109.4 324.12h9.62v1.30h-9.62zM118.5 324.12h9.62v1.30h-9.62zM109.4 325.12h9.62v1.30h-9.62zM118.5 325.12h9.62v1.30h-9.62zM82.0 327.12h9.62v1.30h-9.62zM118.5 331.12h9.62v1.30h-9.62zM100.3 338.13h9.62v1.30h-9.62zM72.9 345.14h9.62v1.30h-9.62zM82.0 345.14h9.62v1.30h-9.62zM118.5 365.17h9.62v1.30h-9.62zM82.0 379.18h9.62v1.30h-9.62zM118.5 379.18h9.62v1.30h-9.62zM54.7 407.22h9.62v1.30h-9.62zM72.9 415.23h9.62v1.30h-9.62zM82.0 415.23h9.62v1.30h-9.62zM54.7 422.23h9.62v1.30h-9.62zM82.0 428.24h9.62v1.30h-9.62zM100.3 434.25h9.62v1.30h-9.62zM118.5 434.25h9.62v1.30h-9.62zM72.9 436.25h9.62v1.30h-9.62zM91.1 436.25h9.62v1.30h-9.62zM27.3 438.25h9.62v1.30h-9.62zM63.8 438.25h9.62v1.30h-9.62zM100.3 438.25h9.62v1.30h-9.62zM109.4 438.25h9.62v1.30h-9.62zM72.9 440.26h9.62v1.30h-9.62zM72.9 441.26h9.62v1.30h-9.62zM72.9 450.27h9.62v1.30h-9.62zM109.4 450.27h9.62v1.30h-9.62zM36.4 453.27h9.62v1.30h-9.62zM45.5 457.28h9.62v1.30h-9.62zM27.3 458.28h9.62v1.30h-9.62zM109.4 459.28h9.62v1.30h-9.62zM100.3 461.28h9.62v1.30h-9.62zM72.9 465.29h9.62v1.30h-9.62zM72.9 468.29h9.62v1.30h-9.62zM82.0 470.29h9.62v1.30h-9.62z"/><path fill="#e3e3a2" d="M54.7 325.12h9.62v1.30h-9.62zM63.8 325.12h9.62v1.30h-9.62zM63.8 327.12h9.62v1.30h-9.62zM54.7 329.12h9.62v1.30h-9.62zM54.7 345.14h9.62v1.30h-9.62zM118.5 351.15h9.62v1.30h-9.62zM36.4 352.15h9.62v1.30h-9.62zM118.5 353.15h9.62v1.30h-9.62zM36.4 360.16h9.62v1.30h-9.62zM109.4 362.16h9.62v1.30h-9.62zM118.5 362.16h9.62v1.30h-9.62zM45.5 365.17h9.62v1.30h-9.62zM18.2 367.17h9.62v1.30h-9.62zM100.3 376.18h9.62v1.30h-9.62zM91.1 377.18h9.62v1.30h-9.62zM18.2 380.18h9.62v1.30h-9.62zM118.5 387.19h9.62v1.30h-9.62zM82.0 394.20h9.62v1.30h-9.62zM45.5 395.20h9.62v1.30h-9.62zM118.5 395.20h9.62v1.30h-9.62zM109.4 398.21h9.62v1.30h-9.62zM27.3 400.21h9.62v1.30h-9.62zM54.7 403.21h9.62v1.30h-9.62zM109.4 403.21h9.62v1.30h-9.62zM27.3 406.22h9.62v1.30h-9.62zM109.4 412.22h9.62v1.30h-9.62zM118.5 414.22h9.62v1.30h-9.62zM36.4 415.23h9.62v1.30h-9.62zM63.8 420.23h9.62v1.30h-9.62zM82.0 421.23h9.62v1.30h-9.62zM27.3 423.24h9.62v1.30h-9.62zM45.5 444.26h9.62v1.30h-9.62zM18.2 447.26h9.62v1.30h-9.62zM63.8 447.26h9.62v1.30h-9.62zM54.7 450.27h9.62v1.30h-9.62zM27.3 455.27h9.62v1.30h-9.62zM36.4 455.27h9.62v1.30h-9.62zM82.0 455.27h9.62v1.30h-9.62zM91.1 455.27h9.62v1.30h-9.62zM27.3 456.28h9.62v1.30h-9.62zM63.8 460.28h9.62v1.30h-9.62zM63.8 461.28h9.62v1.30h-9.62zM36.4 464.29h9.62v1.30h-9.62zM27.3 465.29h9.62v1.30h-9.62zM18.2 469.29h9.62v1.30h-9.62zM36.4 469.29h9.62v1.30h-9.62zM45.5 471.29h9.62v1.30h-9.62zM45.5 473.30h9.62v1.30h-9.62z"/><path fill="#98cfde" d="M109.4 326.12h9.62v1.30h-9.62zM18.2 343.14h9.62v1.30h-9.62zM100.3 389.19h9.62v1.30h-9.62zM82.0 438.25h9.62v1.30h-9.62zM27.3 459.28h9.62v1.30h-9.62z"/><path fill="#93cfe3" d="M118.5 326.12h9.62v1.30h-9.62zM100.3 331.12h9.62v1.30h-9.62zM91.1 365.17h9.62v1.30h-9.62zM82.0 370.17h9.62v1.30h-9.62zM91.1 381.18h9.62v1.30h-9.62zM109.4 436.25h9.62v1.30h-9.62zM72.9 473.30h9.62v1.30h-9.62z"/><path fill="#e8e39d" d="M54.7 327.12h9.62v1.30h-9.62zM36.4 335.13h9.62v1.30h-9.62zM27.3 346.14h9.62v1.30h-9.62zM18.2 347.14h9.62v1.30h-9.62zM36.4 347.14h9.62v1.30h-9.62zM18.2 352.15h9.62v1.30h-9.62zM27.3 354.15h9.62v1.30h-9.62zM36.4 373.18h9.62v1.30h-9.62zM63.8 377.18h9.62v1.30h-9.62zM54.7 378.18h9.62v1.30h-9.62zM72.9 394.20h9.62v1.30h-9.62zM72.9 401.21h9.62v1.30h-9.62zM45.5 403.21h9.62v1.30h-9.62zM118.5 403.21h9.62v1.30h-9.62zM82.0 404.21h9.62v1.30h-9.62zM18.2 406.22h9.62v1.30h-9.62zM82.0 411.22h9.62v1.30h-9.62zM63.8 412.22h9.62v1.30h-9.62zM72.9 412.22h9.62v1.30h-9.62zM27.3 413.22h9.62v1.30h-9.62zM36.4 413.22h9.62v1.30h-9.62zM109.4 413.22h9.62v1.30h-9.62zM45.5 417.23h9.62v1.30h-9.62zM109.4 417.23h9.62v1.30h-9.62zM45.5 418.23h9.62v1.30h-9.62zM82.0 419.23h9.62v1.30h-9.62zM18.2 429.24h9.62v1.30h-9.62zM91.1 432.25h9.62v1.30h-9.62zM54.7 447.26h9.62v1.30h-9.62zM18.2 456.28h9.62v1.30h-9.62zM27.3 464.29h9.62v1.30h-9.62zM91.1 464.29h9.62v1.30h-9.62zM63.8 468.29h9.62v1.30h-9.62zM27.3 469.29h9.62v1.30h-9.62zM100.3 469.29h9.62v1.30h-9.62zM118.5 469.29h9.62v1.30h-9.62zM18.2 475.30h9.62v1.30h-9.62z"/><path fill="#f2e38e" d="M100.3 328.12h9.62v1.30h-9.62zM118.5 328.12h9.62v1.30h-9.62zM54.7 339.13h9.62v1.30h-9.62zM63.8 354.15h9.62v1.30h-9.62zM54.7 373.18h9.62v1.30h-9.62zM82.0 386.19h9.62v1.30h-9.62zM91.1 390.20h9.62v1.30h-9.62zM36.4 395.20h9.62v1.30h-9.62zM72.9 396.20h9.62v1.30h-9.62zM36.4 403.21h9.62v1.30h-9.62zM27.3 412.22h9.62v1.30h-9.62zM82.0 414.22h9.62v1.30h-9.62zM54.7 417.23h9.62v1.30h-9.62zM45.5 463.28h9.62v1.30h-9.62zM63.8 464.29h9.62v1.30h-9.62z"/><path fill="#dee3ac" d="M18.2 329.12h9.62v1.30h-9.62zM27.3 332.13h9.62v1.30h-9.62zM118.5 332.13h9.62v1.30h-9.62zM82.0 335.13h9.62v1.30h-9.62zM91.1 335.13h9.62v1.30h-9.62zM54.7 340.14h9.62v1.30h-9.62zM45.5 344.14h9.62v1.30h-9.62zM54.7 349.15h9.62v1.30h-9.62zM27.3 352.15h9.62v1.30h-9.62zM82.0 353.15h9.62v1.30h-9.62zM82.0 367.17h9.62v1.30h-9.62zM45.5 368.17h9.62v1.30h-9.62zM36.4 378.18h9.62v1.30h-9.62zM100.3 396.20h9.62v1.30h-9.62zM118.5 397.20h9.62v1.30h-9.62zM18.2 400.21h9.62v1.30h-9.62zM118.5 402.21h9.62v1.30h-9.62zM82.0 403.21h9.62v1.30h-9.62zM36.4 442.26h9.62v1.30h-9.62zM27.3 467.29h9.62v1.30h-9.62zM109.4 472.30h9.62v1.30h-9.62zM63.8 473.30h9.62v1.30h-9.62z"/><path fill="#6bb6e8" d="M82.0 329.12h9.62v1.30h-9.62zM36.4 424.24h9.62v1.30h-9.62zM72.9 463.28h9.62v1.30h-9.62z"/><path fill="#c0d9ca" d="M27.3 330.12h9.62v1.30h-9.62zM82.0 332.13h9.62v1.30h-9.62zM91.1 332.13h9.62v1.30h-9.62zM27.3 337.13h9.62v1.30h-9.62zM109.4 341.14h9.62v1.30h-9.62zM54.7 343.14h9.62v1.30h-9.62zM72.9 358.16h9.62v1.30h-9.62zM72.9 368.17h9.62v1.30h-9.62zM63.8 372.17h9.62v1.30h-9.62zM72.9 373.18h9.62v1.30h-9.62zM72.9 382.19h9.62v1.30h-9.62zM18.2 391.20h9.62v1.30h-9.62zM82.0 395.20h9.62v1.30h-9.62zM63.8 415.23h9.62v1.30h-9.62zM72.9 425.24h9.62v1.30h-9.62zM100.3 425.24h9.62v1.30h-9.62zM45.5 427.24h9.62v1.30h-9.62zM109.4 432.25h9.62v1.30h-9.62zM118.5 432.25h9.62v1.30h-9.62zM45.5 441.26h9.62v1.30h-9.62zM36.4 444.26h9.62v1.30h-9.62zM18.2 445.26h9.62v1.30h-9.62zM18.2 454.27h9.62v1.30h-9.62zM109.4 467.29h9.62v1.30h-9.62z"/><path fill="#e3e3a7" d="M18.2 331.12h9.62v1.30h-9.62zM63.8 369.17h9.62v1.30h-9.62zM54.7 395.20h9.62v1.30h-9.62zM109.4 395.20h9.62v1.30h-9.62z"/><path fill="#cadec5" d="M100.3 332.13h9.62v1.30h-9.62zM100.3 336.13h9.62v1.30h-9.62zM27.3 338.13h9.62v1.30h-9.62zM27.3 358.16h9.62v1.30h-9.62zM54.7 363.16h9.62v1.30h-9.62zM54.7 370.17h9.62v1.30h-9.62zM18.2 379.18h9.62v1.30h-9.62zM72.9 380.18h9.62v1.30h-9.62zM45.5 400.21h9.62v1.30h-9.62zM91.1 402.21h9.62v1.30h-9.62zM109.4 420.23h9.62v1.30h-9.62zM91.1 447.26h9.62v1.30h-9.62zM54.7 453.27h9.62v1.30h-9.62zM72.9 471.29h9.62v1.30h-9.62z"/><path fill="#f29d4d" d="M45.5 335.13h9.62v1.30h-9.62zM72.9 392.20h9.62v1.30h-9.62zM118.5 392.20h9.62v1.30h-9.62zM18.2 393.20h9.62v1.30h-9.62zM82.0 393.20h9.62v1.30h-9.62zM109.4 393.20h9.62v1.30h-9.62z"/><path fill="#f2a252" d="M54.7 335.13h9.62v1.30h-9.62zM18.2 392.20h9.62v1.30h-9.62zM27.3 392.20h9.62v1.30h-9.62zM63.8 392.20h9.62v1.30h-9.62z"/><path fill="#f2a24d" d="M63.8 335.13h9.62v1.30h-9.62zM27.3 393.20h9.62v1.30h-9.62zM45.5 393.20h9.62v1.30h-9.62z"/><path fill="#f2d984" d="M63.8 339.13h9.62v1.30h-9.62zM63.8 360.16h9.62v1.30h-9.62zM63.8 362.16h9.62v1.30h-9.62zM82.0 366.17h9.62v1.30h-9.62zM91.1 366.17h9.62v1.30h-9.62zM63.8 373.18h9.62v1.30h-9.62zM72.9 375.18h9.62v1.30h-9.62zM36.4 381.18h9.62v1.30h-9.62zM63.8 383.19h9.62v1.30h-9.62zM91.1 386.19h9.62v1.30h-9.62zM100.3 390.20h9.62v1.30h-9.62zM118.5 390.20h9.62v1.30h-9.62z"/><path fill="#61acde" d="M82.0 339.13h9.62v1.30h-9.62z"/><path fill="#7abbe3" d="M72.9 340.14h9.62v1.30h-9.62zM109.4 369.17h9.62v1.30h-9.62z"/><path fill="#c0d9cf" d="M82.0 347.14h9.62v1.30h-9.62zM45.5 350.15h9.62v1.30h-9.62zM91.1 355.15h9.62v1.30h-9.62zM36.4 358.16h9.62v1.30h-9.62zM54.7 391.20h9.62v1.30h-9.62zM45.5 440.26h9.62v1.30h-9.62zM18.2 442.26h9.62v1.30h-9.62z"/><path fill="#acd9d9" d="M45.5 348.14h9.62v1.30h-9.62zM54.7 348.14h9.62v1.30h-9.62zM36.4 350.15h9.62v1.30h-9.62zM45.5 415.23h9.62v1.30h-9.62z"/><path fill="#bbd9d4" d="M63.8 348.14h9.62v1.30h-9.62zM36.4 428.24h9.62v1.30h-9.62zM27.3 431.25h9.62v1.30h-9.62zM54.7 449.27h9.62v1.30h-9.62zM63.8 474.30h9.62v1.30h-9.62z"/><path fill="#f2bb61" d="M45.5 351.15h9.62v1.30h-9.62zM27.3 374.18h9.62v1.30h-9.62zM54.7 374.18h9.62v1.30h-9.62zM36.4 419.23h9.62v1.30h-9.62z"/><path fill="#f2b15c" d="M54.7 351.15h9.62v1.30h-9.62zM63.8 351.15h9.62v1.30h-9.62z"/><path fill="#f2c566" d="M54.7 353.15h9.62v1.30h-9.62zM45.5 359.16h9.62v1.30h-9.62zM45.5 394.20h9.62v1.30h-9.62zM63.8 446.26h9.62v1.30h-9.62z"/><path fill="#b1d9d4" d="M91.1 357.16h9.62v1.30h-9.62zM91.1 372.17h9.62v1.30h-9.62zM27.3 379.18h9.62v1.30h-9.62zM72.9 429.24h9.62v1.30h-9.62z"/><path fill="#f2ca6b" d="M63.8 359.16h9.62v1.30h-9.62zM45.5 469.29h9.62v1.30h-9.62z"/><path fill="#f2c066" d="M18.2 374.18h9.62v1.30h-9.62zM63.8 376.18h9.62v1.30h-9.62zM18.2 414.22h9.62v1.30h-9.62z"/><path fill="#e8e393" d="M36.4 380.18h9.62v1.30h-9.62zM82.0 412.22h9.62v1.30h-9.62z"/><path fill="#f29848" d="M36.4 392.20h9.62v1.30h-9.62zM45.5 392.20h9.62v1.30h-9.62zM54.7 392.20h9.62v1.30h-9.62zM82.0 392.20h9.62v1.30h-9.62zM91.1 392.20h9.62v1.30h-9.62zM100.3 392.20h9.62v1.30h-9.62zM109.4 392.20h9.62v1.30h-9.62zM36.4 393.20h9.62v1.30h-9.62zM54.7 393.20h9.62v1.30h-9.62zM100.3 393.20h9.62v1.30h-9.62z"/><path fill="#f2a752" d="M63.8 393.20h9.62v1.30h-9.62zM72.9 393.20h9.62v1.30h-9.62zM118.5 393.20h9.62v1.30h-9.62z"/><path fill="#f2ac57" d="M91.1 393.20h9.62v1.30h-9.62z"/><path fill="#f2b661" d="M54.7 394.20h9.62v1.30h-9.62zM27.3 419.23h9.62v1.30h-9.62z"/><path fill="#f2b65c" d="M63.8 394.20h9.62v1.30h-9.62z"/><path fill="#4893d9" d="M72.9 424.24h9.62v1.30h-9.62zM82.0 424.24h9.62v1.30h-9.62zM91.1 424.24h9.62v1.30h-9.62z"/><path fill="#4898d9" d="M72.9 426.24h9.62v1.30h-9.62z"/><path fill="#529dd9" d="M91.1 427.24h9.62v1.30h-9.62z"/><path fill="#4d98d9" d="M82.0 430.24h9.62v1.30h-9.62zM118.5 437.25h9.62v1.30h-9.62z"/><path fill="#66ace3" d="M91.1 451.27h9.62v1.30h-9.62z"/><path fill="#529dde" d="M36.4 457.28h9.62v1.30h-9.62z"/><path fill="#7fc5e3" d="M82.0 458.28h9.62v1.30h-9.62zM109.4 470.29h9.62v1.30h-9.62z"/></g>
<g filter="url(#hb)"><path fill="#84c5e3" d="M141.3 311.10h9.62v1.30h-9.62zM150.4 311.10h9.62v1.30h-9.62zM232.5 318.10h9.62v1.30h-9.62zM214.2 320.10h9.62v1.30h-9.62zM232.5 320.10h9.62v1.30h-9.62zM205.1 325.10h9.62v1.30h-9.62zM232.5 325.10h9.62v1.30h-9.62zM214.2 338.10h9.62v1.30h-9.62zM232.5 338.10h9.62v1.30h-9.62zM150.4 340.10h9.62v1.30h-9.62zM205.1 346.10h9.62v1.30h-9.62zM241.6 361.10h9.62v1.30h-9.62zM214.2 362.10h9.62v1.30h-9.62zM232.5 364.10h9.62v1.30h-9.62zM177.8 366.10h9.62v1.30h-9.62zM241.6 372.10h9.62v1.30h-9.62zM214.2 374.10h9.62v1.30h-9.62zM205.1 381.10h9.62v1.30h-9.62zM214.2 403.10h9.62v1.30h-9.62zM205.1 427.10h9.62v1.30h-9.62zM141.3 439.10h9.62v1.30h-9.62zM150.4 439.10h9.62v1.30h-9.62zM232.5 441.10h9.62v1.30h-9.62zM205.1 442.10h9.62v1.30h-9.62zM232.5 445.10h9.62v1.30h-9.62zM205.1 458.10h9.62v1.30h-9.62zM232.5 461.10h9.62v1.30h-9.62zM150.4 471.10h9.62v1.30h-9.62zM141.3 482.10h9.62v1.30h-9.62zM150.4 482.10h9.62v1.30h-9.62zM232.5 489.10h9.62v1.30h-9.62z"/><path fill="#8ecae3" d="M159.5 311.10h9.62v1.30h-9.62zM214.2 312.10h9.62v1.30h-9.62zM223.4 319.10h9.62v1.30h-9.62zM223.4 321.10h9.62v1.30h-9.62zM241.6 321.10h9.62v1.30h-9.62zM214.2 327.10h9.62v1.30h-9.62zM214.2 331.10h9.62v1.30h-9.62zM223.4 335.10h9.62v1.30h-9.62zM241.6 355.10h9.62v1.30h-9.62zM196.0 357.10h9.62v1.30h-9.62zM214.2 357.10h9.62v1.30h-9.62zM205.1 358.10h9.62v1.30h-9.62zM205.1 362.10h9.62v1.30h-9.62zM196.0 370.10h9.62v1.30h-9.62zM214.2 372.10h9.62v1.30h-9.62zM223.4 374.10h9.62v1.30h-9.62zM232.5 374.10h9.62v1.30h-9.62zM241.6 374.10h9.62v1.30h-9.62zM232.5 384.10h9.62v1.30h-9.62zM223.4 386.10h9.62v1.30h-9.62zM241.6 386.10h9.62v1.30h-9.62zM196.0 403.10h9.62v1.30h-9.62zM205.1 413.10h9.62v1.30h-9.62zM159.5 423.10h9.62v1.30h-9.62zM159.5 424.10h9.62v1.30h-9.62zM196.0 428.10h9.62v1.30h-9.62zM205.1 433.10h9.62v1.30h-9.62zM196.0 434.10h9.62v1.30h-9.62zM177.8 437.10h9.62v1.30h-9.62zM186.9 437.10h9.62v1.30h-9.62zM214.2 444.10h9.62v1.30h-9.62zM223.4 445.10h9.62v1.30h-9.62zM150.4 450.10h9.62v1.30h-9.62zM186.9 458.10h9.62v1.30h-9.62zM214.2 458.10h9.62v1.30h-9.62zM150.4 461.10h9.62v1.30h-9.62zM223.4 461.10h9.62v1.30h-9.62zM159.5 471.10h9.62v1.30h-9.62zM177.8 471.10h9.62v1.30h-9.62zM232.5 471.10h9.62v1.30h-9.62zM141.3 474.10h9.62v1.30h-9.62zM177.8 479.10h9.62v1.30h-9.62zM205.1 479.10h9.62v1.30h-9.62zM214.2 480.10h9.62v1.30h-9.62zM241.6 485.10h9.62v1.30h-9.62zM141.3 489.10h9.62v1.30h-9.62zM241.6 489.10h9.62v1.30h-9.62zM205.1 496.10h9.62v1.30h-9.62zM232.5 499.10h9.62v1.30h-9.62zM196.0 503.10h9.62v1.30h-9.62z"/><path fill="#d4deb6" d="M168.7 311.10h9.62v1.30h-9.62zM150.4 314.10h9.62v1.30h-9.62zM159.5 314.10h9.62v1.30h-9.62zM196.0 314.10h9.62v1.30h-9.62zM214.2 314.10h9.62v1.30h-9.62zM196.0 316.10h9.62v1.30h-9.62zM141.3 321.10h9.62v1.30h-9.62zM241.6 324.10h9.62v1.30h-9.62zM205.1 326.10h9.62v1.30h-9.62zM150.4 328.10h9.62v1.30h-9.62zM150.4 331.10h9.62v1.30h-9.62zM241.6 345.10h9.62v1.30h-9.62zM141.3 347.10h9.62v1.30h-9.62zM168.7 362.10h9.62v1.30h-9.62zM150.4 365.10h9.62v1.30h-9.62zM159.5 369.10h9.62v1.30h-9.62zM232.5 371.10h9.62v1.30h-9.62zM186.9 375.10h9.62v1.30h-9.62zM150.4 380.10h9.62v1.30h-9.62zM159.5 384.10h9.62v1.30h-9.62zM177.8 384.10h9.62v1.30h-9.62zM186.9 384.10h9.62v1.30h-9.62zM159.5 386.10h9.62v1.30h-9.62zM223.4 389.10h9.62v1.30h-9.62zM196.0 391.10h9.62v1.30h-9.62zM205.1 391.10h9.62v1.30h-9.62zM196.0 395.10h9.62v1.30h-9.62zM205.1 395.10h9.62v1.30h-9.62zM205.1 401.10h9.62v1.30h-9.62zM168.7 408.10h9.62v1.30h-9.62zM241.6 418.10h9.62v1.30h-9.62zM205.1 420.10h9.62v1.30h-9.62zM141.3 422.10h9.62v1.30h-9.62zM177.8 422.10h9.62v1.30h-9.62zM168.7 427.10h9.62v1.30h-9.62zM186.9 429.10h9.62v1.30h-9.62zM150.4 441.10h9.62v1.30h-9.62zM141.3 442.10h9.62v1.30h-9.62zM241.6 442.10h9.62v1.30h-9.62zM232.5 448.10h9.62v1.30h-9.62zM159.5 453.10h9.62v1.30h-9.62zM214.2 454.10h9.62v1.30h-9.62zM150.4 456.10h9.62v1.30h-9.62zM150.4 460.10h9.62v1.30h-9.62zM168.7 460.10h9.62v1.30h-9.62zM177.8 460.10h9.62v1.30h-9.62zM186.9 460.10h9.62v1.30h-9.62zM205.1 460.10h9.62v1.30h-9.62zM159.5 466.10h9.62v1.30h-9.62zM168.7 470.10h9.62v1.30h-9.62zM196.0 475.10h9.62v1.30h-9.62zM223.4 480.10h9.62v1.30h-9.62zM150.4 486.10h9.62v1.30h-9.62zM223.4 491.10h9.62v1.30h-9.62zM141.3 493.10h9.62v1.30h-9.62zM214.2 493.10h9.62v1.30h-9.62zM177.8 497.10h9.62v1.30h-9.62zM150.4 501.10h9.62v1.30h-9.62zM196.0 502.10h9.62v1.30h-9.62zM141.3 503.10h9.62v1.30h-9.62zM150.4 505.10h9.62v1.30h-9.62zM223.4 506.10h9.62v1.30h-9.62zM232.5 506.10h9.62v1.30h-9.62z"/><path fill="#e3e39d" d="M177.8 311.10h9.62v1.30h-9.62zM150.4 321.10h9.62v1.30h-9.62zM159.5 323.10h9.62v1.30h-9.62zM186.9 331.10h9.62v1.30h-9.62zM168.7 332.10h9.62v1.30h-9.62zM168.7 338.10h9.62v1.30h-9.62zM205.1 345.10h9.62v1.30h-9.62zM168.7 346.10h9.62v1.30h-9.62zM150.4 349.10h9.62v1.30h-9.62zM159.5 351.10h9.62v1.30h-9.62zM141.3 352.10h9.62v1.30h-9.62zM177.8 358.10h9.62v1.30h-9.62zM177.8 375.10h9.62v1.30h-9.62zM159.5 379.10h9.62v1.30h-9.62zM168.7 386.10h9.62v1.30h-9.62zM168.7 389.10h9.62v1.30h-9.62zM150.4 395.10h9.62v1.30h-9.62zM205.1 397.10h9.62v1.30h-9.62zM159.5 398.10h9.62v1.30h-9.62zM196.0 402.10h9.62v1.30h-9.62zM205.1 402.10h9.62v1.30h-9.62zM232.5 405.10h9.62v1.30h-9.62zM205.1 406.10h9.62v1.30h-9.62zM186.9 412.10h9.62v1.30h-9.62zM177.8 419.10h9.62v1.30h-9.62zM196.0 421.10h9.62v1.30h-9.62zM141.3 435.10h9.62v1.30h-9.62zM150.4 435.10h9.62v1.30h-9.62zM168.7 441.10h9.62v1.30h-9.62zM241.6 456.10h9.62v1.30h-9.62zM159.5 457.10h9.62v1.30h-9.62zM214.2 465.10h9.62v1.30h-9.62zM223.4 470.10h9.62v1.30h-9.62zM196.0 473.10h9.62v1.30h-9.62zM205.1 488.10h9.62v1.30h-9.62zM232.5 500.10h9.62v1.30h-9.62z"/><path fill="#cfdebb" d="M186.9 311.10h9.62v1.30h-9.62zM241.6 315.10h9.62v1.30h-9.62zM141.3 317.10h9.62v1.30h-9.62zM223.4 324.10h9.62v1.30h-9.62zM241.6 326.10h9.62v1.30h-9.62zM150.4 338.10h9.62v1.30h-9.62zM223.4 345.10h9.62v1.30h-9.62zM159.5 347.10h9.62v1.30h-9.62zM223.4 352.10h9.62v1.30h-9.62zM241.6 356.10h9.62v1.30h-9.62zM150.4 358.10h9.62v1.30h-9.62zM196.0 363.10h9.62v1.30h-9.62zM196.0 365.10h9.62v1.30h-9.62zM205.1 375.10h9.62v1.30h-9.62zM159.5 377.10h9.62v1.30h-9.62zM159.5 380.10h9.62v1.30h-9.62zM205.1 380.10h9.62v1.30h-9.62zM205.1 383.10h9.62v1.30h-9.62zM150.4 386.10h9.62v1.30h-9.62zM205.1 388.10h9.62v1.30h-9.62zM232.5 388.10h9.62v1.30h-9.62zM214.2 389.10h9.62v1.30h-9.62zM150.4 390.10h9.62v1.30h-9.62zM168.7 403.10h9.62v1.30h-9.62zM186.9 404.10h9.62v1.30h-9.62zM186.9 408.10h9.62v1.30h-9.62zM168.7 414.10h9.62v1.30h-9.62zM168.7 415.10h9.62v1.30h-9.62zM196.0 417.10h9.62v1.30h-9.62zM159.5 422.10h9.62v1.30h-9.62zM159.5 430.10h9.62v1.30h-9.62zM177.8 431.10h9.62v1.30h-9.62zM141.3 434.10h9.62v1.30h-9.62zM141.3 441.10h9.62v1.30h-9.62zM223.4 442.10h9.62v1.30h-9.62zM232.5 442.10h9.62v1.30h-9.62zM168.7 443.10h9.62v1.30h-9.62zM196.0 449.10h9.62v1.30h-9.62zM214.2 449.10h9.62v1.30h-9.62zM150.4 453.10h9.62v1.30h-9.62zM168.7 456.10h9.62v1.30h-9.62zM214.2 456.10h9.62v1.30h-9.62zM196.0 460.10h9.62v1.30h-9.62zM232.5 462.10h9.62v1.30h-9.62zM141.3 466.10h9.62v1.30h-9.62zM241.6 466.10h9.62v1.30h-9.62zM232.5 475.10h9.62v1.30h-9.62zM186.9 481.10h9.62v1.30h-9.62zM232.5 487.10h9.62v1.30h-9.62zM241.6 488.10h9.62v1.30h-9.62zM232.5 491.10h9.62v1.30h-9.62zM223.4 495.10h9.62v1.30h-9.62zM214.2 497.10h9.62v1.30h-9.62zM223.4 498.10h9.62v1.30h-9.62zM232.5 498.10h9.62v1.30h-9.62zM205.1 500.10h9.62v1.30h-9.62zM214.2 500.10h9.62v1.30h-9.62zM141.3 505.10h9.62v1.30h-9.62zM168.7 505.10h9.62v1.30h-9.62zM223.4 505.10h9.62v1.30h-9.62zM241.6 505.10h9.62v1.30h-9.62z"/><path fill="#4893d9" d="M196.0 311.10h9.62v1.30h-9.62zM196.0 432.10h9.62v1.30h-9.62zM205.1 432.10h9.62v1.30h-9.62zM214.2 432.10h9.62v1.30h-9.62zM196.0 436.10h9.62v1.30h-9.62zM205.1 436.10h9.62v1.30h-9.62zM214.2 437.10h9.62v1.30h-9.62zM196.0 440.10h9.62v1.30h-9.62zM205.1 440.10h9.62v1.30h-9.62zM214.2 440.10h9.62v1.30h-9.62z"/><path fill="#4d98d9" d="M205.1 311.10h9.62v1.30h-9.62zM214.2 429.10h9.62v1.30h-9.62zM214.2 436.10h9.62v1.30h-9.62zM196.0 437.10h9.62v1.30h-9.62zM205.1 437.10h9.62v1.30h-9.62z"/><path fill="#529dd9" d="M214.2 311.10h9.62v1.30h-9.62zM196.0 339.10h9.62v1.30h-9.62zM205.1 426.10h9.62v1.30h-9.62zM241.6 437.10h9.62v1.30h-9.62zM214.2 445.10h9.62v1.30h-9.62z"/><path fill="#7ac0e3" d="M223.4 311.10h9.62v1.30h-9.62zM196.0 319.10h9.62v1.30h-9.62zM214.2 319.10h9.62v1.30h-9.62zM196.0 323.10h9.62v1.30h-9.62zM214.2 346.10h9.62v1.30h-9.62zM214.2 348.10h9.62v1.30h-9.62zM223.4 353.10h9.62v1.30h-9.62zM223.4 361.10h9.62v1.30h-9.62zM168.7 366.10h9.62v1.30h-9.62zM232.5 372.10h9.62v1.30h-9.62zM196.0 384.10h9.62v1.30h-9.62zM214.2 384.10h9.62v1.30h-9.62zM196.0 423.10h9.62v1.30h-9.62zM214.2 423.10h9.62v1.30h-9.62zM241.6 428.10h9.62v1.30h-9.62zM159.5 432.10h9.62v1.30h-9.62zM214.2 433.10h9.62v1.30h-9.62zM241.6 433.10h9.62v1.30h-9.62zM196.0 441.10h9.62v1.30h-9.62zM214.2 441.10h9.62v1.30h-9.62zM205.1 446.10h9.62v1.30h-9.62zM159.5 450.10h9.62v1.30h-9.62zM177.8 461.10h9.62v1.30h-9.62zM214.2 481.10h9.62v1.30h-9.62zM232.5 482.10h9.62v1.30h-9.62zM223.4 485.10h9.62v1.30h-9.62zM214.2 499.10h9.62v1.30h-9.62zM241.6 499.10h9.62v1.30h-9.62z"/><path fill="#7fc0e3" d="M232.5 311.10h9.62v1.30h-9.62zM241.6 311.10h9.62v1.30h-9.62zM214.2 318.10h9.62v1.30h-9.62zM159.5 337.10h9.62v1.30h-9.62zM196.0 338.10h9.62v1.30h-9.62zM141.3 340.10h9.62v1.30h-9.62zM223.4 340.10h9.62v1.30h-9.62zM232.5 340.10h9.62v1.30h-9.62zM205.1 341.10h9.62v1.30h-9.62zM196.0 348.10h9.62v1.30h-9.62zM205.1 348.10h9.62v1.30h-9.62zM232.5 361.10h9.62v1.30h-9.62zM205.1 374.10h9.62v1.30h-9.62zM214.2 381.10h9.62v1.30h-9.62zM205.1 423.10h9.62v1.30h-9.62zM223.4 427.10h9.62v1.30h-9.62zM232.5 428.10h9.62v1.30h-9.62zM177.8 438.10h9.62v1.30h-9.62zM186.9 438.10h9.62v1.30h-9.62zM232.5 438.10h9.62v1.30h-9.62zM159.5 439.10h9.62v1.30h-9.62zM223.4 439.10h9.62v1.30h-9.62zM232.5 439.10h9.62v1.30h-9.62zM159.5 440.10h9.62v1.30h-9.62zM223.4 441.10h9.62v1.30h-9.62zM196.0 446.10h9.62v1.30h-9.62zM232.5 446.10h9.62v1.30h-9.62zM241.6 446.10h9.62v1.30h-9.62zM141.3 450.10h9.62v1.30h-9.62zM196.0 451.10h9.62v1.30h-9.62zM168.7 461.10h9.62v1.30h-9.62zM177.8 462.10h9.62v1.30h-9.62zM196.0 480.10h9.62v1.30h-9.62zM205.1 480.10h9.62v1.30h-9.62zM159.5 482.10h9.62v1.30h-9.62zM186.9 482.10h9.62v1.30h-9.62zM223.4 482.10h9.62v1.30h-9.62zM150.4 485.10h9.62v1.30h-9.62zM196.0 485.10h9.62v1.30h-9.62zM205.1 485.10h9.62v1.30h-9.62zM223.4 489.10h9.62v1.30h-9.62z"/><path fill="#f2e38e" d="M141.3 312.10h9.62v1.30h-9.62zM159.5 312.10h9.62v1.30h-9.62zM168.7 317.10h9.62v1.30h-9.62zM186.9 321.10h9.62v1.30h-9.62zM168.7 323.10h9.62v1.30h-9.62zM141.3 326.10h9.62v1.30h-9.62zM141.3 367.10h9.62v1.30h-9.62zM141.3 376.10h9.62v1.30h-9.62zM223.4 383.10h9.62v1.30h-9.62zM150.4 388.10h9.62v1.30h-9.62zM186.9 389.10h9.62v1.30h-9.62zM232.5 397.10h9.62v1.30h-9.62zM196.0 400.10h9.62v1.30h-9.62zM186.9 401.10h9.62v1.30h-9.62zM223.4 402.10h9.62v1.30h-9.62zM177.8 407.10h9.62v1.30h-9.62zM196.0 407.10h9.62v1.30h-9.62zM214.2 409.10h9.62v1.30h-9.62zM150.4 410.10h9.62v1.30h-9.62zM205.1 416.10h9.62v1.30h-9.62zM168.7 433.10h9.62v1.30h-9.62zM186.9 433.10h9.62v1.30h-9.62zM159.5 449.10h9.62v1.30h-9.62zM214.2 457.10h9.62v1.30h-9.62zM232.5 457.10h9.62v1.30h-9.62zM150.4 476.10h9.62v1.30h-9.62zM205.1 477.10h9.62v1.30h-9.62zM196.0 488.10h9.62v1.30h-9.62zM223.4 504.10h9.62v1.30h-9.62zM232.5 504.10h9.62v1.30h-9.62z"/><path fill="#e8e398" d="M150.4 312.10h9.62v1.30h-9.62zM159.5 316.10h9.62v1.30h-9.62zM186.9 319.10h9.62v1.30h-9.62zM177.8 321.10h9.62v1.30h-9.62zM141.3 323.10h9.62v1.30h-9.62zM177.8 323.10h9.62v1.30h-9.62zM186.9 323.10h9.62v1.30h-9.62zM159.5 324.10h9.62v1.30h-9.62zM177.8 331.10h9.62v1.30h-9.62zM186.9 338.10h9.62v1.30h-9.62zM159.5 341.10h9.62v1.30h-9.62zM177.8 341.10h9.62v1.30h-9.62zM150.4 343.10h9.62v1.30h-9.62zM196.0 345.10h9.62v1.30h-9.62zM141.3 348.10h9.62v1.30h-9.62zM150.4 348.10h9.62v1.30h-9.62zM159.5 348.10h9.62v1.30h-9.62zM214.2 349.10h9.62v1.30h-9.62zM150.4 353.10h9.62v1.30h-9.62zM150.4 367.10h9.62v1.30h-9.62zM159.5 367.10h9.62v1.30h-9.62zM168.7 372.10h9.62v1.30h-9.62zM177.8 372.10h9.62v1.30h-9.62zM150.4 373.10h9.62v1.30h-9.62zM150.4 374.10h9.62v1.30h-9.62zM141.3 375.10h9.62v1.30h-9.62zM168.7 377.10h9.62v1.30h-9.62zM150.4 378.10h9.62v1.30h-9.62zM186.9 379.10h9.62v1.30h-9.62zM168.7 383.10h9.62v1.30h-9.62zM186.9 383.10h9.62v1.30h-9.62zM177.8 386.10h9.62v1.30h-9.62zM186.9 386.10h9.62v1.30h-9.62zM177.8 389.10h9.62v1.30h-9.62zM186.9 391.10h9.62v1.30h-9.62zM141.3 394.10h9.62v1.30h-9.62zM141.3 395.10h9.62v1.30h-9.62zM177.8 395.10h9.62v1.30h-9.62zM205.1 400.10h9.62v1.30h-9.62zM214.2 400.10h9.62v1.30h-9.62zM214.2 402.10h9.62v1.30h-9.62zM150.4 404.10h9.62v1.30h-9.62zM159.5 404.10h9.62v1.30h-9.62zM205.1 404.10h9.62v1.30h-9.62zM214.2 404.10h9.62v1.30h-9.62zM141.3 405.10h9.62v1.30h-9.62zM186.9 406.10h9.62v1.30h-9.62zM205.1 407.10h9.62v1.30h-9.62zM186.9 409.10h9.62v1.30h-9.62zM196.0 411.10h9.62v1.30h-9.62zM232.5 411.10h9.62v1.30h-9.62zM196.0 412.10h9.62v1.30h-9.62zM205.1 412.10h9.62v1.30h-9.62zM232.5 412.10h9.62v1.30h-9.62zM177.8 413.10h9.62v1.30h-9.62zM141.3 414.10h9.62v1.30h-9.62zM168.7 417.10h9.62v1.30h-9.62zM196.0 419.10h9.62v1.30h-9.62zM232.5 420.10h9.62v1.30h-9.62zM186.9 428.10h9.62v1.30h-9.62zM177.8 433.10h9.62v1.30h-9.62zM241.6 449.10h9.62v1.30h-9.62zM241.6 455.10h9.62v1.30h-9.62zM141.3 457.10h9.62v1.30h-9.62zM205.1 459.10h9.62v1.30h-9.62zM214.2 459.10h9.62v1.30h-9.62zM232.5 463.10h9.62v1.30h-9.62zM141.3 470.10h9.62v1.30h-9.62zM196.0 470.10h9.62v1.30h-9.62zM168.7 473.10h9.62v1.30h-9.62zM168.7 476.10h9.62v1.30h-9.62zM196.0 478.10h9.62v1.30h-9.62zM241.6 478.10h9.62v1.30h-9.62zM205.1 483.10h9.62v1.30h-9.62zM159.5 488.10h9.62v1.30h-9.62zM214.2 491.10h9.62v1.30h-9.62zM159.5 500.10h9.62v1.30h-9.62zM223.4 500.10h9.62v1.30h-9.62zM150.4 504.10h9.62v1.30h-9.62zM196.0 504.10h9.62v1.30h-9.62zM214.2 504.10h9.62v1.30h-9.62zM196.0 506.10h9.62v1.30h-9.62z"/><path fill="#f7d47a" d="M168.7 312.10h9.62v1.30h-9.62zM177.8 313.10h9.62v1.30h-9.62zM168.7 322.10h9.62v1.30h-9.62zM177.8 327.10h9.62v1.30h-9.62zM168.7 330.10h9.62v1.30h-9.62zM186.9 330.10h9.62v1.30h-9.62zM177.8 333.10h9.62v1.30h-9.62zM186.9 333.10h9.62v1.30h-9.62zM150.4 336.10h9.62v1.30h-9.62zM186.9 345.10h9.62v1.30h-9.62zM141.3 350.10h9.62v1.30h-9.62zM177.8 351.10h9.62v1.30h-9.62zM168.7 353.10h9.62v1.30h-9.62zM177.8 353.10h9.62v1.30h-9.62zM177.8 354.10h9.62v1.30h-9.62zM186.9 354.10h9.62v1.30h-9.62zM177.8 356.10h9.62v1.30h-9.62zM232.5 360.10h9.62v1.30h-9.62zM241.6 360.10h9.62v1.30h-9.62zM168.7 365.10h9.62v1.30h-9.62zM177.8 365.10h9.62v1.30h-9.62zM186.9 371.10h9.62v1.30h-9.62zM186.9 382.10h9.62v1.30h-9.62zM159.5 385.10h9.62v1.30h-9.62zM168.7 385.10h9.62v1.30h-9.62zM177.8 385.10h9.62v1.30h-9.62zM186.9 397.10h9.62v1.30h-9.62zM159.5 402.10h9.62v1.30h-9.62zM150.4 412.10h9.62v1.30h-9.62zM159.5 413.10h9.62v1.30h-9.62zM168.7 430.10h9.62v1.30h-9.62zM186.9 435.10h9.62v1.30h-9.62zM186.9 449.10h9.62v1.30h-9.62zM150.4 477.10h9.62v1.30h-9.62zM186.9 477.10h9.62v1.30h-9.62zM168.7 484.10h9.62v1.30h-9.62zM177.8 484.10h9.62v1.30h-9.62zM241.6 484.10h9.62v1.30h-9.62zM186.9 507.10h9.62v1.30h-9.62z"/><path fill="#f2ca70" d="M177.8 312.10h9.62v1.30h-9.62zM241.6 316.10h9.62v1.30h-9.62zM168.7 345.10h9.62v1.30h-9.62zM186.9 349.10h9.62v1.30h-9.62zM177.8 360.10h9.62v1.30h-9.62zM141.3 385.10h9.62v1.30h-9.62zM141.3 416.10h9.62v1.30h-9.62zM159.5 416.10h9.62v1.30h-9.62zM150.4 420.10h9.62v1.30h-9.62z"/><path fill="#f7cf75" d="M186.9 312.10h9.62v1.30h-9.62zM168.7 315.10h9.62v1.30h-9.62zM177.8 330.10h9.62v1.30h-9.62zM168.7 333.10h9.62v1.30h-9.62zM168.7 351.10h9.62v1.30h-9.62zM168.7 355.10h9.62v1.30h-9.62zM177.8 355.10h9.62v1.30h-9.62zM223.4 360.10h9.62v1.30h-9.62zM168.7 373.10h9.62v1.30h-9.62zM168.7 382.10h9.62v1.30h-9.62zM177.8 382.10h9.62v1.30h-9.62zM150.4 409.10h9.62v1.30h-9.62zM150.4 411.10h9.62v1.30h-9.62zM150.4 417.10h9.62v1.30h-9.62zM159.5 421.10h9.62v1.30h-9.62zM168.7 435.10h9.62v1.30h-9.62zM223.4 477.10h9.62v1.30h-9.62zM232.5 477.10h9.62v1.30h-9.62zM232.5 484.10h9.62v1.30h-9.62z"/><path fill="#93cae3" d="M196.0 312.10h9.62v1.30h-9.62zM223.4 320.10h9.62v1.30h-9.62zM241.6 320.10h9.62v1.30h-9.62zM196.0 321.10h9.62v1.30h-9.62zM214.2 321.10h9.62v1.30h-9.62zM196.0 325.10h9.62v1.30h-9.62zM232.5 330.10h9.62v1.30h-9.62zM196.0 331.10h9.62v1.30h-9.62zM232.5 332.10h9.62v1.30h-9.62zM177.8 337.10h9.62v1.30h-9.62zM186.9 337.10h9.62v1.30h-9.62zM196.0 351.10h9.62v1.30h-9.62zM241.6 351.10h9.62v1.30h-9.62zM186.9 366.10h9.62v1.30h-9.62zM223.4 366.10h9.62v1.30h-9.62zM205.1 370.10h9.62v1.30h-9.62zM223.4 372.10h9.62v1.30h-9.62zM232.5 375.10h9.62v1.30h-9.62zM241.6 422.10h9.62v1.30h-9.62zM232.5 424.10h9.62v1.30h-9.62zM241.6 424.10h9.62v1.30h-9.62zM205.1 425.10h9.62v1.30h-9.62zM196.0 427.10h9.62v1.30h-9.62zM141.3 431.10h9.62v1.30h-9.62zM241.6 431.10h9.62v1.30h-9.62zM196.0 433.10h9.62v1.30h-9.62zM159.5 436.10h9.62v1.30h-9.62zM196.0 444.10h9.62v1.30h-9.62zM214.2 447.10h9.62v1.30h-9.62zM205.1 452.10h9.62v1.30h-9.62zM214.2 452.10h9.62v1.30h-9.62zM232.5 452.10h9.62v1.30h-9.62zM168.7 462.10h9.62v1.30h-9.62zM141.3 464.10h9.62v1.30h-9.62zM196.0 469.10h9.62v1.30h-9.62zM205.1 469.10h9.62v1.30h-9.62zM168.7 471.10h9.62v1.30h-9.62zM241.6 471.10h9.62v1.30h-9.62zM214.2 472.10h9.62v1.30h-9.62zM150.4 474.10h9.62v1.30h-9.62zM196.0 474.10h9.62v1.30h-9.62zM232.5 479.10h9.62v1.30h-9.62zM214.2 496.10h9.62v1.30h-9.62zM223.4 496.10h9.62v1.30h-9.62zM232.5 496.10h9.62v1.30h-9.62zM241.6 496.10h9.62v1.30h-9.62zM150.4 499.10h9.62v1.30h-9.62z"/><path fill="#acd4d9" d="M205.1 312.10h9.62v1.30h-9.62zM223.4 315.10h9.62v1.30h-9.62zM150.4 325.10h9.62v1.30h-9.62zM196.0 329.10h9.62v1.30h-9.62zM232.5 343.10h9.62v1.30h-9.62zM241.6 343.10h9.62v1.30h-9.62zM232.5 344.10h9.62v1.30h-9.62zM205.1 352.10h9.62v1.30h-9.62zM150.4 357.10h9.62v1.30h-9.62zM232.5 359.10h9.62v1.30h-9.62zM141.3 361.10h9.62v1.30h-9.62zM223.4 362.10h9.62v1.30h-9.62zM241.6 362.10h9.62v1.30h-9.62zM241.6 366.10h9.62v1.30h-9.62zM232.5 368.10h9.62v1.30h-9.62zM232.5 370.10h9.62v1.30h-9.62zM205.1 377.10h9.62v1.30h-9.62zM186.9 378.10h9.62v1.30h-9.62zM241.6 379.10h9.62v1.30h-9.62zM177.8 380.10h9.62v1.30h-9.62zM141.3 381.10h9.62v1.30h-9.62zM196.0 386.10h9.62v1.30h-9.62zM205.1 390.10h9.62v1.30h-9.62zM196.0 394.10h9.62v1.30h-9.62zM223.4 395.10h9.62v1.30h-9.62zM223.4 401.10h9.62v1.30h-9.62zM177.8 410.10h9.62v1.30h-9.62zM223.4 414.10h9.62v1.30h-9.62zM168.7 422.10h9.62v1.30h-9.62zM214.2 422.10h9.62v1.30h-9.62zM150.4 428.10h9.62v1.30h-9.62zM141.3 433.10h9.62v1.30h-9.62zM159.5 433.10h9.62v1.30h-9.62zM223.4 434.10h9.62v1.30h-9.62zM205.1 435.10h9.62v1.30h-9.62zM232.5 435.10h9.62v1.30h-9.62zM186.9 442.10h9.62v1.30h-9.62zM223.4 444.10h9.62v1.30h-9.62zM241.6 444.10h9.62v1.30h-9.62zM159.5 447.10h9.62v1.30h-9.62zM177.8 447.10h9.62v1.30h-9.62zM232.5 447.10h9.62v1.30h-9.62zM168.7 448.10h9.62v1.30h-9.62zM205.1 448.10h9.62v1.30h-9.62zM177.8 450.10h9.62v1.30h-9.62zM150.4 451.10h9.62v1.30h-9.62zM177.8 451.10h9.62v1.30h-9.62zM141.3 458.10h9.62v1.30h-9.62zM159.5 462.10h9.62v1.30h-9.62zM150.4 464.10h9.62v1.30h-9.62zM186.9 464.10h9.62v1.30h-9.62zM214.2 466.10h9.62v1.30h-9.62zM150.4 469.10h9.62v1.30h-9.62zM232.5 469.10h9.62v1.30h-9.62zM241.6 469.10h9.62v1.30h-9.62zM196.0 471.10h9.62v1.30h-9.62zM232.5 473.10h9.62v1.30h-9.62zM150.4 475.10h9.62v1.30h-9.62zM159.5 475.10h9.62v1.30h-9.62zM159.5 479.10h9.62v1.30h-9.62zM177.8 480.10h9.62v1.30h-9.62zM186.9 480.10h9.62v1.30h-9.62zM232.5 481.10h9.62v1.30h-9.62zM168.7 485.10h9.62v1.30h-9.62zM141.3 490.10h9.62v1.30h-9.62zM196.0 495.10h9.62v1.30h-9.62zM241.6 497.10h9.62v1.30h-9.62zM141.3 498.10h9.62v1.30h-9.62zM150.4 498.10h9.62v1.30h-9.62zM196.0 498.10h9.62v1.30h-9.62z"/><path fill="#cadec5" d="M223.4 312.10h9.62v1.30h-9.62zM232.5 315.10h9.62v1.30h-9.62zM205.1 333.10h9.62v1.30h-9.62zM150.4 347.10h9.62v1.30h-9.62zM196.0 353.10h9.62v1.30h-9.62zM223.4 369.10h9.62v1.30h-9.62zM232.5 369.10h9.62v1.30h-9.62zM141.3 396.10h9.62v1.30h-9.62zM205.1 398.10h9.62v1.30h-9.62zM177.8 411.10h9.62v1.30h-9.62zM196.0 414.10h9.62v1.30h-9.62zM177.8 439.10h9.62v1.30h-9.62zM186.9 452.10h9.62v1.30h-9.62zM232.5 459.10h9.62v1.30h-9.62zM223.4 463.10h9.62v1.30h-9.62zM196.0 466.10h9.62v1.30h-9.62zM150.4 468.10h9.62v1.30h-9.62zM168.7 472.10h9.62v1.30h-9.62zM177.8 478.10h9.62v1.30h-9.62zM141.3 486.10h9.62v1.30h-9.62zM159.5 486.10h9.62v1.30h-9.62zM150.4 490.10h9.62v1.30h-9.62zM177.8 495.10h9.62v1.30h-9.62z"/><path fill="#c5dec5" d="M232.5 312.10h9.62v1.30h-9.62zM241.6 312.10h9.62v1.30h-9.62zM205.1 314.10h9.62v1.30h-9.62zM196.0 324.10h9.62v1.30h-9.62zM141.3 328.10h9.62v1.30h-9.62zM141.3 331.10h9.62v1.30h-9.62zM186.9 340.10h9.62v1.30h-9.62zM223.4 343.10h9.62v1.30h-9.62zM141.3 344.10h9.62v1.30h-9.62zM232.5 350.10h9.62v1.30h-9.62zM196.0 355.10h9.62v1.30h-9.62zM214.2 359.10h9.62v1.30h-9.62zM177.8 361.10h9.62v1.30h-9.62zM186.9 361.10h9.62v1.30h-9.62zM150.4 364.10h9.62v1.30h-9.62zM241.6 367.10h9.62v1.30h-9.62zM186.9 369.10h9.62v1.30h-9.62zM214.2 375.10h9.62v1.30h-9.62zM241.6 376.10h9.62v1.30h-9.62zM214.2 378.10h9.62v1.30h-9.62zM223.4 378.10h9.62v1.30h-9.62zM214.2 380.10h9.62v1.30h-9.62zM159.5 383.10h9.62v1.30h-9.62zM232.5 387.10h9.62v1.30h-9.62zM241.6 394.10h9.62v1.30h-9.62zM241.6 395.10h9.62v1.30h-9.62zM177.8 396.10h9.62v1.30h-9.62zM168.7 398.10h9.62v1.30h-9.62zM177.8 398.10h9.62v1.30h-9.62zM223.4 398.10h9.62v1.30h-9.62zM241.6 404.10h9.62v1.30h-9.62zM196.0 405.10h9.62v1.30h-9.62zM205.1 405.10h9.62v1.30h-9.62zM214.2 414.10h9.62v1.30h-9.62zM214.2 417.10h9.62v1.30h-9.62zM223.4 418.10h9.62v1.30h-9.62zM168.7 420.10h9.62v1.30h-9.62zM232.5 443.10h9.62v1.30h-9.62zM168.7 444.10h9.62v1.30h-9.62zM177.8 444.10h9.62v1.30h-9.62zM177.8 452.10h9.62v1.30h-9.62zM241.6 453.10h9.62v1.30h-9.62zM241.6 459.10h9.62v1.30h-9.62zM150.4 462.10h9.62v1.30h-9.62zM186.9 463.10h9.62v1.30h-9.62zM141.3 465.10h9.62v1.30h-9.62zM186.9 466.10h9.62v1.30h-9.62zM159.5 468.10h9.62v1.30h-9.62zM186.9 472.10h9.62v1.30h-9.62zM186.9 473.10h9.62v1.30h-9.62zM168.7 475.10h9.62v1.30h-9.62zM223.4 475.10h9.62v1.30h-9.62zM223.4 487.10h9.62v1.30h-9.62zM214.2 490.10h9.62v1.30h-9.62zM141.3 492.10h9.62v1.30h-9.62zM159.5 495.10h9.62v1.30h-9.62zM159.5 497.10h9.62v1.30h-9.62zM177.8 501.10h9.62v1.30h-9.62zM241.6 501.10h9.62v1.30h-9.62zM150.4 502.10h9.62v1.30h-9.62zM214.2 502.10h9.62v1.30h-9.62zM159.5 503.10h9.62v1.30h-9.62z"/><path fill="#9dcfde" d="M141.3 313.10h9.62v1.30h-9.62zM150.4 313.10h9.62v1.30h-9.62zM214.2 315.10h9.62v1.30h-9.62zM205.1 317.10h9.62v1.30h-9.62zM214.2 317.10h9.62v1.30h-9.62zM196.0 322.10h9.62v1.30h-9.62zM223.4 323.10h9.62v1.30h-9.62zM141.3 325.10h9.62v1.30h-9.62zM159.5 325.10h9.62v1.30h-9.62zM223.4 325.10h9.62v1.30h-9.62zM205.1 331.10h9.62v1.30h-9.62zM223.4 332.10h9.62v1.30h-9.62zM241.6 332.10h9.62v1.30h-9.62zM232.5 342.10h9.62v1.30h-9.62zM214.2 343.10h9.62v1.30h-9.62zM232.5 351.10h9.62v1.30h-9.62zM232.5 362.10h9.62v1.30h-9.62zM196.0 364.10h9.62v1.30h-9.62zM159.5 366.10h9.62v1.30h-9.62zM196.0 369.10h9.62v1.30h-9.62zM205.1 369.10h9.62v1.30h-9.62zM214.2 369.10h9.62v1.30h-9.62zM241.6 370.10h9.62v1.30h-9.62zM241.6 375.10h9.62v1.30h-9.62zM241.6 377.10h9.62v1.30h-9.62zM205.1 379.10h9.62v1.30h-9.62zM214.2 379.10h9.62v1.30h-9.62zM223.4 379.10h9.62v1.30h-9.62zM223.4 384.10h9.62v1.30h-9.62zM241.6 384.10h9.62v1.30h-9.62zM205.1 399.10h9.62v1.30h-9.62zM223.4 408.10h9.62v1.30h-9.62zM186.9 410.10h9.62v1.30h-9.62zM241.6 410.10h9.62v1.30h-9.62zM241.6 414.10h9.62v1.30h-9.62zM196.0 422.10h9.62v1.30h-9.62zM223.4 422.10h9.62v1.30h-9.62zM159.5 425.10h9.62v1.30h-9.62zM214.2 428.10h9.62v1.30h-9.62zM223.4 431.10h9.62v1.30h-9.62zM168.7 436.10h9.62v1.30h-9.62zM141.3 438.10h9.62v1.30h-9.62zM150.4 438.10h9.62v1.30h-9.62zM205.1 444.10h9.62v1.30h-9.62zM159.5 445.10h9.62v1.30h-9.62zM168.7 445.10h9.62v1.30h-9.62zM186.9 445.10h9.62v1.30h-9.62zM141.3 446.10h9.62v1.30h-9.62zM168.7 447.10h9.62v1.30h-9.62zM186.9 447.10h9.62v1.30h-9.62zM196.0 447.10h9.62v1.30h-9.62zM223.4 452.10h9.62v1.30h-9.62zM241.6 452.10h9.62v1.30h-9.62zM214.2 455.10h9.62v1.30h-9.62zM223.4 458.10h9.62v1.30h-9.62zM141.3 461.10h9.62v1.30h-9.62zM241.6 461.10h9.62v1.30h-9.62zM214.2 462.10h9.62v1.30h-9.62zM214.2 469.10h9.62v1.30h-9.62zM141.3 471.10h9.62v1.30h-9.62zM196.0 472.10h9.62v1.30h-9.62zM205.1 472.10h9.62v1.30h-9.62zM214.2 474.10h9.62v1.30h-9.62zM223.4 479.10h9.62v1.30h-9.62zM159.5 480.10h9.62v1.30h-9.62zM159.5 489.10h9.62v1.30h-9.62zM159.5 498.10h9.62v1.30h-9.62zM168.7 499.10h9.62v1.30h-9.62zM205.1 503.10h9.62v1.30h-9.62z"/><path fill="#a7d4d9" d="M159.5 313.10h9.62v1.30h-9.62zM232.5 314.10h9.62v1.30h-9.62zM196.0 317.10h9.62v1.30h-9.62zM150.4 320.10h9.62v1.30h-9.62zM241.6 327.10h9.62v1.30h-9.62zM241.6 333.10h9.62v1.30h-9.62zM150.4 335.10h9.62v1.30h-9.62zM141.3 339.10h9.62v1.30h-9.62zM232.5 341.10h9.62v1.30h-9.62zM186.9 344.10h9.62v1.30h-9.62zM223.4 351.10h9.62v1.30h-9.62zM214.2 352.10h9.62v1.30h-9.62zM159.5 357.10h9.62v1.30h-9.62zM223.4 359.10h9.62v1.30h-9.62zM223.4 364.10h9.62v1.30h-9.62zM205.1 368.10h9.62v1.30h-9.62zM196.0 379.10h9.62v1.30h-9.62zM196.0 390.10h9.62v1.30h-9.62zM168.7 394.10h9.62v1.30h-9.62zM186.9 399.10h9.62v1.30h-9.62zM232.5 403.10h9.62v1.30h-9.62zM214.2 413.10h9.62v1.30h-9.62zM196.0 430.10h9.62v1.30h-9.62zM205.1 430.10h9.62v1.30h-9.62zM177.8 436.10h9.62v1.30h-9.62zM205.1 443.10h9.62v1.30h-9.62zM186.9 446.10h9.62v1.30h-9.62zM186.9 448.10h9.62v1.30h-9.62zM141.3 451.10h9.62v1.30h-9.62zM196.0 453.10h9.62v1.30h-9.62zM232.5 458.10h9.62v1.30h-9.62zM168.7 464.10h9.62v1.30h-9.62zM168.7 469.10h9.62v1.30h-9.62zM223.4 469.10h9.62v1.30h-9.62zM214.2 471.10h9.62v1.30h-9.62zM241.6 472.10h9.62v1.30h-9.62zM141.3 480.10h9.62v1.30h-9.62zM168.7 480.10h9.62v1.30h-9.62zM214.2 486.10h9.62v1.30h-9.62zM186.9 489.10h9.62v1.30h-9.62zM186.9 493.10h9.62v1.30h-9.62zM223.4 494.10h9.62v1.30h-9.62zM205.1 495.10h9.62v1.30h-9.62zM196.0 496.10h9.62v1.30h-9.62zM177.8 499.10h9.62v1.30h-9.62zM159.5 506.10h9.62v1.30h-9.62z"/><path fill="#f2d97f" d="M168.7 313.10h9.62v1.30h-9.62zM186.9 313.10h9.62v1.30h-9.62zM168.7 314.10h9.62v1.30h-9.62zM177.8 314.10h9.62v1.30h-9.62zM168.7 320.10h9.62v1.30h-9.62zM186.9 320.10h9.62v1.30h-9.62zM168.7 327.10h9.62v1.30h-9.62zM159.5 336.10h9.62v1.30h-9.62zM177.8 343.10h9.62v1.30h-9.62zM150.4 350.10h9.62v1.30h-9.62zM205.1 350.10h9.62v1.30h-9.62zM214.2 350.10h9.62v1.30h-9.62zM168.7 352.10h9.62v1.30h-9.62zM186.9 353.10h9.62v1.30h-9.62zM141.3 354.10h9.62v1.30h-9.62zM159.5 354.10h9.62v1.30h-9.62zM150.4 355.10h9.62v1.30h-9.62zM159.5 355.10h9.62v1.30h-9.62zM177.8 359.10h9.62v1.30h-9.62zM186.9 363.10h9.62v1.30h-9.62zM141.3 371.10h9.62v1.30h-9.62zM150.4 371.10h9.62v1.30h-9.62zM168.7 371.10h9.62v1.30h-9.62zM186.9 373.10h9.62v1.30h-9.62zM141.3 382.10h9.62v1.30h-9.62zM150.4 382.10h9.62v1.30h-9.62zM159.5 382.10h9.62v1.30h-9.62zM177.8 387.10h9.62v1.30h-9.62zM186.9 387.10h9.62v1.30h-9.62zM150.4 389.10h9.62v1.30h-9.62zM159.5 389.10h9.62v1.30h-9.62zM177.8 397.10h9.62v1.30h-9.62zM141.3 402.10h9.62v1.30h-9.62zM150.4 402.10h9.62v1.30h-9.62zM141.3 409.10h9.62v1.30h-9.62zM141.3 411.10h9.62v1.30h-9.62zM150.4 413.10h9.62v1.30h-9.62zM141.3 415.10h9.62v1.30h-9.62zM223.4 415.10h9.62v1.30h-9.62zM186.9 421.10h9.62v1.30h-9.62zM223.4 421.10h9.62v1.30h-9.62zM232.5 421.10h9.62v1.30h-9.62zM177.8 430.10h9.62v1.30h-9.62zM186.9 430.10h9.62v1.30h-9.62zM168.7 449.10h9.62v1.30h-9.62zM168.7 454.10h9.62v1.30h-9.62zM205.1 457.10h9.62v1.30h-9.62zM141.3 463.10h9.62v1.30h-9.62zM159.5 467.10h9.62v1.30h-9.62zM168.7 467.10h9.62v1.30h-9.62zM214.2 467.10h9.62v1.30h-9.62zM141.3 477.10h9.62v1.30h-9.62zM177.8 477.10h9.62v1.30h-9.62zM196.0 477.10h9.62v1.30h-9.62zM141.3 478.10h9.62v1.30h-9.62zM241.6 492.10h9.62v1.30h-9.62zM168.7 502.10h9.62v1.30h-9.62zM186.9 502.10h9.62v1.30h-9.62zM159.5 507.10h9.62v1.30h-9.62zM205.1 507.10h9.62v1.30h-9.62zM214.2 507.10h9.62v1.30h-9.62zM232.5 507.10h9.62v1.30h-9.62z"/><path fill="#6bb6e3" d="M196.0 313.10h9.62v1.30h-9.62zM205.1 313.10h9.62v1.30h-9.62zM241.6 318.10h9.62v1.30h-9.62zM205.1 330.10h9.62v1.30h-9.62zM205.1 332.10h9.62v1.30h-9.62zM241.6 338.10h9.62v1.30h-9.62zM232.5 353.10h9.62v1.30h-9.62zM214.2 358.10h9.62v1.30h-9.62zM205.1 366.10h9.62v1.30h-9.62zM232.5 381.10h9.62v1.30h-9.62zM241.6 381.10h9.62v1.30h-9.62zM150.4 429.10h9.62v1.30h-9.62zM141.3 432.10h9.62v1.30h-9.62zM150.4 432.10h9.62v1.30h-9.62zM150.4 437.10h9.62v1.30h-9.62zM214.2 439.10h9.62v1.30h-9.62zM150.4 440.10h9.62v1.30h-9.62zM168.7 440.10h9.62v1.30h-9.62zM196.0 442.10h9.62v1.30h-9.62zM214.2 446.10h9.62v1.30h-9.62zM232.5 450.10h9.62v1.30h-9.62zM214.2 451.10h9.62v1.30h-9.62zM177.8 474.10h9.62v1.30h-9.62zM205.1 481.10h9.62v1.30h-9.62zM196.0 499.10h9.62v1.30h-9.62zM205.1 499.10h9.62v1.30h-9.62z"/><path fill="#66b1e3" d="M214.2 313.10h9.62v1.30h-9.62zM205.1 318.10h9.62v1.30h-9.62zM241.6 340.10h9.62v1.30h-9.62zM196.0 344.10h9.62v1.30h-9.62zM214.2 344.10h9.62v1.30h-9.62zM196.0 366.10h9.62v1.30h-9.62zM196.0 424.10h9.62v1.30h-9.62zM214.2 424.10h9.62v1.30h-9.62zM141.3 429.10h9.62v1.30h-9.62zM159.5 429.10h9.62v1.30h-9.62zM205.1 431.10h9.62v1.30h-9.62zM241.6 432.10h9.62v1.30h-9.62zM214.2 438.10h9.62v1.30h-9.62zM196.0 439.10h9.62v1.30h-9.62zM141.3 440.10h9.62v1.30h-9.62zM196.0 461.10h9.62v1.30h-9.62zM205.1 461.10h9.62v1.30h-9.62zM186.9 474.10h9.62v1.30h-9.62zM205.1 482.10h9.62v1.30h-9.62zM214.2 482.10h9.62v1.30h-9.62z"/><path fill="#61ace3" d="M223.4 313.10h9.62v1.30h-9.62zM205.1 328.10h9.62v1.30h-9.62zM232.5 337.10h9.62v1.30h-9.62zM196.0 361.10h9.62v1.30h-9.62zM214.2 361.10h9.62v1.30h-9.62zM241.6 425.10h9.62v1.30h-9.62zM159.5 426.10h9.62v1.30h-9.62zM232.5 426.10h9.62v1.30h-9.62zM241.6 426.10h9.62v1.30h-9.62zM196.0 431.10h9.62v1.30h-9.62zM214.2 431.10h9.62v1.30h-9.62zM177.8 440.10h9.62v1.30h-9.62zM205.1 450.10h9.62v1.30h-9.62zM223.4 474.10h9.62v1.30h-9.62z"/><path fill="#57a2de" d="M232.5 313.10h9.62v1.30h-9.62zM241.6 313.10h9.62v1.30h-9.62zM196.0 328.10h9.62v1.30h-9.62zM214.2 337.10h9.62v1.30h-9.62zM223.4 339.10h9.62v1.30h-9.62zM241.6 339.10h9.62v1.30h-9.62zM196.0 340.10h9.62v1.30h-9.62zM214.2 340.10h9.62v1.30h-9.62zM141.3 426.10h9.62v1.30h-9.62zM196.0 429.10h9.62v1.30h-9.62zM205.1 429.10h9.62v1.30h-9.62zM232.5 429.10h9.62v1.30h-9.62zM232.5 436.10h9.62v1.30h-9.62zM241.6 436.10h9.62v1.30h-9.62zM232.5 437.10h9.62v1.30h-9.62zM241.6 440.10h9.62v1.30h-9.62zM196.0 445.10h9.62v1.30h-9.62zM205.1 445.10h9.62v1.30h-9.62zM214.2 450.10h9.62v1.30h-9.62zM232.5 474.10h9.62v1.30h-9.62z"/><path fill="#c0d9ca" d="M141.3 314.10h9.62v1.30h-9.62zM223.4 314.10h9.62v1.30h-9.62zM241.6 314.10h9.62v1.30h-9.62zM232.5 317.10h9.62v1.30h-9.62zM159.5 318.10h9.62v1.30h-9.62zM141.3 322.10h9.62v1.30h-9.62zM205.1 329.10h9.62v1.30h-9.62zM141.3 338.10h9.62v1.30h-9.62zM159.5 344.10h9.62v1.30h-9.62zM205.1 347.10h9.62v1.30h-9.62zM214.2 347.10h9.62v1.30h-9.62zM168.7 348.10h9.62v1.30h-9.62zM223.4 354.10h9.62v1.30h-9.62zM214.2 355.10h9.62v1.30h-9.62zM141.3 357.10h9.62v1.30h-9.62zM232.5 357.10h9.62v1.30h-9.62zM205.1 363.10h9.62v1.30h-9.62zM214.2 364.10h9.62v1.30h-9.62zM241.6 369.10h9.62v1.30h-9.62zM241.6 378.10h9.62v1.30h-9.62zM223.4 394.10h9.62v1.30h-9.62zM232.5 394.10h9.62v1.30h-9.62zM232.5 398.10h9.62v1.30h-9.62zM196.0 401.10h9.62v1.30h-9.62zM168.7 405.10h9.62v1.30h-9.62zM205.1 417.10h9.62v1.30h-9.62zM177.8 420.10h9.62v1.30h-9.62zM186.9 420.10h9.62v1.30h-9.62zM141.3 444.10h9.62v1.30h-9.62zM196.0 448.10h9.62v1.30h-9.62zM141.3 456.10h9.62v1.30h-9.62zM223.4 462.10h9.62v1.30h-9.62zM241.6 462.10h9.62v1.30h-9.62zM177.8 468.10h9.62v1.30h-9.62zM196.0 468.10h9.62v1.30h-9.62zM232.5 476.10h9.62v1.30h-9.62zM177.8 481.10h9.62v1.30h-9.62zM159.5 483.10h9.62v1.30h-9.62zM168.7 491.10h9.62v1.30h-9.62zM186.9 491.10h9.62v1.30h-9.62zM150.4 493.10h9.62v1.30h-9.62zM196.0 494.10h9.62v1.30h-9.62zM205.1 494.10h9.62v1.30h-9.62zM150.4 495.10h9.62v1.30h-9.62zM168.7 501.10h9.62v1.30h-9.62zM214.2 501.10h9.62v1.30h-9.62zM223.4 503.10h9.62v1.30h-9.62z"/><path fill="#f2de84" d="M186.9 314.10h9.62v1.30h-9.62zM177.8 317.10h9.62v1.30h-9.62zM177.8 320.10h9.62v1.30h-9.62zM168.7 328.10h9.62v1.30h-9.62zM168.7 329.10h9.62v1.30h-9.62zM223.4 336.10h9.62v1.30h-9.62zM150.4 345.10h9.62v1.30h-9.62zM159.5 345.10h9.62v1.30h-9.62zM232.5 349.10h9.62v1.30h-9.62zM141.3 355.10h9.62v1.30h-9.62zM177.8 357.10h9.62v1.30h-9.62zM186.9 358.10h9.62v1.30h-9.62zM205.1 360.10h9.62v1.30h-9.62zM168.7 364.10h9.62v1.30h-9.62zM186.9 365.10h9.62v1.30h-9.62zM196.0 367.10h9.62v1.30h-9.62zM241.6 383.10h9.62v1.30h-9.62zM150.4 387.10h9.62v1.30h-9.62zM159.5 387.10h9.62v1.30h-9.62zM141.3 389.10h9.62v1.30h-9.62zM159.5 391.10h9.62v1.30h-9.62zM150.4 399.10h9.62v1.30h-9.62zM159.5 399.10h9.62v1.30h-9.62zM141.3 400.10h9.62v1.30h-9.62zM150.4 400.10h9.62v1.30h-9.62zM159.5 400.10h9.62v1.30h-9.62zM159.5 401.10h9.62v1.30h-9.62zM141.3 406.10h9.62v1.30h-9.62zM186.9 407.10h9.62v1.30h-9.62zM150.4 408.10h9.62v1.30h-9.62zM159.5 408.10h9.62v1.30h-9.62zM205.1 409.10h9.62v1.30h-9.62zM141.3 413.10h9.62v1.30h-9.62zM150.4 415.10h9.62v1.30h-9.62zM168.7 416.10h9.62v1.30h-9.62zM177.8 416.10h9.62v1.30h-9.62zM150.4 419.10h9.62v1.30h-9.62zM159.5 419.10h9.62v1.30h-9.62zM168.7 421.10h9.62v1.30h-9.62zM177.8 421.10h9.62v1.30h-9.62zM241.6 421.10h9.62v1.30h-9.62zM177.8 449.10h9.62v1.30h-9.62zM196.0 463.10h9.62v1.30h-9.62zM186.9 467.10h9.62v1.30h-9.62zM223.4 467.10h9.62v1.30h-9.62zM159.5 477.10h9.62v1.30h-9.62zM150.4 478.10h9.62v1.30h-9.62zM150.4 507.10h9.62v1.30h-9.62zM241.6 507.10h9.62v1.30h-9.62z"/><path fill="#f2e389" d="M141.3 315.10h9.62v1.30h-9.62zM159.5 315.10h9.62v1.30h-9.62zM150.4 316.10h9.62v1.30h-9.62zM177.8 325.10h9.62v1.30h-9.62zM186.9 329.10h9.62v1.30h-9.62zM141.3 333.10h9.62v1.30h-9.62zM168.7 335.10h9.62v1.30h-9.62zM168.7 341.10h9.62v1.30h-9.62zM186.9 341.10h9.62v1.30h-9.62zM159.5 352.10h9.62v1.30h-9.62zM196.0 360.10h9.62v1.30h-9.62zM141.3 363.10h9.62v1.30h-9.62zM168.7 363.10h9.62v1.30h-9.62zM205.1 367.10h9.62v1.30h-9.62zM177.8 376.10h9.62v1.30h-9.62zM186.9 377.10h9.62v1.30h-9.62zM177.8 388.10h9.62v1.30h-9.62zM141.3 391.10h9.62v1.30h-9.62zM150.4 401.10h9.62v1.30h-9.62zM214.2 407.10h9.62v1.30h-9.62zM177.8 412.10h9.62v1.30h-9.62zM186.9 416.10h9.62v1.30h-9.62zM159.5 418.10h9.62v1.30h-9.62zM186.9 419.10h9.62v1.30h-9.62zM186.9 434.10h9.62v1.30h-9.62zM223.4 454.10h9.62v1.30h-9.62zM196.0 457.10h9.62v1.30h-9.62zM205.1 463.10h9.62v1.30h-9.62zM150.4 470.10h9.62v1.30h-9.62zM159.5 476.10h9.62v1.30h-9.62zM159.5 478.10h9.62v1.30h-9.62zM214.2 478.10h9.62v1.30h-9.62zM232.5 478.10h9.62v1.30h-9.62zM223.4 492.10h9.62v1.30h-9.62zM241.6 504.10h9.62v1.30h-9.62zM205.1 505.10h9.62v1.30h-9.62zM214.2 505.10h9.62v1.30h-9.62zM141.3 507.10h9.62v1.30h-9.62z"/><path fill="#f2de89" d="M150.4 315.10h9.62v1.30h-9.62zM141.3 316.10h9.62v1.30h-9.62zM186.9 317.10h9.62v1.30h-9.62zM177.8 318.10h9.62v1.30h-9.62zM186.9 318.10h9.62v1.30h-9.62zM177.8 322.10h9.62v1.30h-9.62zM168.7 325.10h9.62v1.30h-9.62zM186.9 325.10h9.62v1.30h-9.62zM150.4 326.10h9.62v1.30h-9.62zM177.8 328.10h9.62v1.30h-9.62zM150.4 333.10h9.62v1.30h-9.62zM232.5 334.10h9.62v1.30h-9.62zM241.6 336.10h9.62v1.30h-9.62zM141.3 345.10h9.62v1.30h-9.62zM241.6 349.10h9.62v1.30h-9.62zM159.5 350.10h9.62v1.30h-9.62zM196.0 350.10h9.62v1.30h-9.62zM150.4 356.10h9.62v1.30h-9.62zM186.9 356.10h9.62v1.30h-9.62zM168.7 357.10h9.62v1.30h-9.62zM168.7 358.10h9.62v1.30h-9.62zM168.7 359.10h9.62v1.30h-9.62zM214.2 360.10h9.62v1.30h-9.62zM177.8 363.10h9.62v1.30h-9.62zM186.9 364.10h9.62v1.30h-9.62zM214.2 367.10h9.62v1.30h-9.62zM141.3 370.10h9.62v1.30h-9.62zM186.9 370.10h9.62v1.30h-9.62zM159.5 371.10h9.62v1.30h-9.62zM141.3 373.10h9.62v1.30h-9.62zM186.9 376.10h9.62v1.30h-9.62zM223.4 380.10h9.62v1.30h-9.62zM232.5 383.10h9.62v1.30h-9.62zM232.5 385.10h9.62v1.30h-9.62zM241.6 385.10h9.62v1.30h-9.62zM141.3 387.10h9.62v1.30h-9.62zM168.7 387.10h9.62v1.30h-9.62zM205.1 387.10h9.62v1.30h-9.62zM214.2 387.10h9.62v1.30h-9.62zM168.7 388.10h9.62v1.30h-9.62zM186.9 388.10h9.62v1.30h-9.62zM150.4 391.10h9.62v1.30h-9.62zM141.3 397.10h9.62v1.30h-9.62zM141.3 399.10h9.62v1.30h-9.62zM177.8 400.10h9.62v1.30h-9.62zM186.9 400.10h9.62v1.30h-9.62zM141.3 401.10h9.62v1.30h-9.62zM232.5 402.10h9.62v1.30h-9.62zM150.4 406.10h9.62v1.30h-9.62zM232.5 407.10h9.62v1.30h-9.62zM223.4 409.10h9.62v1.30h-9.62zM232.5 409.10h9.62v1.30h-9.62zM159.5 410.10h9.62v1.30h-9.62zM141.3 412.10h9.62v1.30h-9.62zM159.5 415.10h9.62v1.30h-9.62zM205.1 415.10h9.62v1.30h-9.62zM214.2 415.10h9.62v1.30h-9.62zM232.5 415.10h9.62v1.30h-9.62zM223.4 416.10h9.62v1.30h-9.62zM232.5 416.10h9.62v1.30h-9.62zM141.3 467.10h9.62v1.30h-9.62zM150.4 467.10h9.62v1.30h-9.62zM177.8 467.10h9.62v1.30h-9.62zM232.5 467.10h9.62v1.30h-9.62zM141.3 473.10h9.62v1.30h-9.62zM186.9 476.10h9.62v1.30h-9.62zM214.2 477.10h9.62v1.30h-9.62zM232.5 492.10h9.62v1.30h-9.62zM141.3 500.10h9.62v1.30h-9.62zM214.2 506.10h9.62v1.30h-9.62z"/><path fill="#f2ca6b" d="M177.8 315.10h9.62v1.30h-9.62zM186.9 315.10h9.62v1.30h-9.62zM141.3 334.10h9.62v1.30h-9.62zM177.8 336.10h9.62v1.30h-9.62zM177.8 345.10h9.62v1.30h-9.62zM186.9 351.10h9.62v1.30h-9.62zM150.4 407.10h9.62v1.30h-9.62zM150.4 416.10h9.62v1.30h-9.62z"/><path fill="#b6d9d4" d="M196.0 315.10h9.62v1.30h-9.62zM150.4 318.10h9.62v1.30h-9.62zM159.5 320.10h9.62v1.30h-9.62zM150.4 330.10h9.62v1.30h-9.62zM196.0 333.10h9.62v1.30h-9.62zM196.0 334.10h9.62v1.30h-9.62zM205.1 334.10h9.62v1.30h-9.62zM141.3 335.10h9.62v1.30h-9.62zM159.5 335.10h9.62v1.30h-9.62zM241.6 341.10h9.62v1.30h-9.62zM196.0 342.10h9.62v1.30h-9.62zM141.3 346.10h9.62v1.30h-9.62zM150.4 346.10h9.62v1.30h-9.62zM241.6 346.10h9.62v1.30h-9.62zM177.8 348.10h9.62v1.30h-9.62zM205.1 355.10h9.62v1.30h-9.62zM205.1 356.10h9.62v1.30h-9.62zM214.2 356.10h9.62v1.30h-9.62zM241.6 359.10h9.62v1.30h-9.62zM168.7 361.10h9.62v1.30h-9.62zM223.4 363.10h9.62v1.30h-9.62zM241.6 363.10h9.62v1.30h-9.62zM141.3 364.10h9.62v1.30h-9.62zM196.0 376.10h9.62v1.30h-9.62zM214.2 376.10h9.62v1.30h-9.62zM232.5 378.10h9.62v1.30h-9.62zM196.0 385.10h9.62v1.30h-9.62zM205.1 385.10h9.62v1.30h-9.62zM241.6 387.10h9.62v1.30h-9.62zM205.1 389.10h9.62v1.30h-9.62zM205.1 394.10h9.62v1.30h-9.62zM223.4 399.10h9.62v1.30h-9.62zM232.5 399.10h9.62v1.30h-9.62zM232.5 401.10h9.62v1.30h-9.62zM241.6 408.10h9.62v1.30h-9.62zM186.9 422.10h9.62v1.30h-9.62zM141.3 427.10h9.62v1.30h-9.62zM150.4 427.10h9.62v1.30h-9.62zM223.4 430.10h9.62v1.30h-9.62zM232.5 430.10h9.62v1.30h-9.62zM241.6 430.10h9.62v1.30h-9.62zM159.5 434.10h9.62v1.30h-9.62zM232.5 434.10h9.62v1.30h-9.62zM150.4 443.10h9.62v1.30h-9.62zM223.4 443.10h9.62v1.30h-9.62zM150.4 446.10h9.62v1.30h-9.62zM150.4 448.10h9.62v1.30h-9.62zM159.5 448.10h9.62v1.30h-9.62zM159.5 451.10h9.62v1.30h-9.62zM168.7 451.10h9.62v1.30h-9.62zM186.9 451.10h9.62v1.30h-9.62zM223.4 453.10h9.62v1.30h-9.62zM196.0 455.10h9.62v1.30h-9.62zM186.9 456.10h9.62v1.30h-9.62zM150.4 458.10h9.62v1.30h-9.62zM159.5 458.10h9.62v1.30h-9.62zM141.3 462.10h9.62v1.30h-9.62zM205.1 464.10h9.62v1.30h-9.62zM241.6 464.10h9.62v1.30h-9.62zM168.7 466.10h9.62v1.30h-9.62zM177.8 466.10h9.62v1.30h-9.62zM232.5 466.10h9.62v1.30h-9.62zM186.9 468.10h9.62v1.30h-9.62zM205.1 468.10h9.62v1.30h-9.62zM232.5 468.10h9.62v1.30h-9.62zM141.3 469.10h9.62v1.30h-9.62zM141.3 475.10h9.62v1.30h-9.62zM223.4 476.10h9.62v1.30h-9.62zM241.6 476.10h9.62v1.30h-9.62zM168.7 481.10h9.62v1.30h-9.62zM177.8 485.10h9.62v1.30h-9.62zM241.6 486.10h9.62v1.30h-9.62zM141.3 487.10h9.62v1.30h-9.62zM196.0 487.10h9.62v1.30h-9.62zM223.4 488.10h9.62v1.30h-9.62zM214.2 489.10h9.62v1.30h-9.62zM205.1 490.10h9.62v1.30h-9.62zM223.4 493.10h9.62v1.30h-9.62zM214.2 494.10h9.62v1.30h-9.62zM150.4 497.10h9.62v1.30h-9.62zM223.4 497.10h9.62v1.30h-9.62zM205.1 498.10h9.62v1.30h-9.62zM232.5 501.10h9.62v1.30h-9.62z"/><path fill="#c0d9cf" d="M205.1 315.10h9.62v1.30h-9.62zM214.2 333.10h9.62v1.30h-9.62zM214.2 363.10h9.62v1.30h-9.62zM214.2 386.10h9.62v1.30h-9.62zM241.6 447.10h9.62v1.30h-9.62zM159.5 459.10h9.62v1.30h-9.62zM177.8 463.10h9.62v1.30h-9.62zM150.4 465.10h9.62v1.30h-9.62zM168.7 468.10h9.62v1.30h-9.62zM205.1 487.10h9.62v1.30h-9.62z"/><path fill="#f2a752" d="M168.7 316.10h9.62v1.30h-9.62zM177.8 316.10h9.62v1.30h-9.62zM159.5 392.10h9.62v1.30h-9.62zM159.5 393.10h9.62v1.30h-9.62zM141.3 420.10h9.62v1.30h-9.62z"/><path fill="#f2ac57" d="M186.9 316.10h9.62v1.30h-9.62zM186.9 324.10h9.62v1.30h-9.62z"/><path fill="#dee3a7" d="M205.1 316.10h9.62v1.30h-9.62zM232.5 324.10h9.62v1.30h-9.62zM150.4 327.10h9.62v1.30h-9.62zM159.5 331.10h9.62v1.30h-9.62zM241.6 331.10h9.62v1.30h-9.62zM177.8 332.10h9.62v1.30h-9.62zM196.0 336.10h9.62v1.30h-9.62zM159.5 342.10h9.62v1.30h-9.62zM232.5 345.10h9.62v1.30h-9.62zM177.8 346.10h9.62v1.30h-9.62zM159.5 349.10h9.62v1.30h-9.62zM196.0 354.10h9.62v1.30h-9.62zM141.3 359.10h9.62v1.30h-9.62zM150.4 362.10h9.62v1.30h-9.62zM186.9 362.10h9.62v1.30h-9.62zM159.5 363.10h9.62v1.30h-9.62zM214.2 365.10h9.62v1.30h-9.62zM196.0 371.10h9.62v1.30h-9.62zM205.1 373.10h9.62v1.30h-9.62zM141.3 377.10h9.62v1.30h-9.62zM141.3 380.10h9.62v1.30h-9.62zM150.4 384.10h9.62v1.30h-9.62zM223.4 388.10h9.62v1.30h-9.62zM232.5 390.10h9.62v1.30h-9.62zM241.6 391.10h9.62v1.30h-9.62zM159.5 403.10h9.62v1.30h-9.62zM141.3 404.10h9.62v1.30h-9.62zM196.0 404.10h9.62v1.30h-9.62zM223.4 405.10h9.62v1.30h-9.62zM241.6 405.10h9.62v1.30h-9.62zM232.5 406.10h9.62v1.30h-9.62zM177.8 409.10h9.62v1.30h-9.62zM186.9 413.10h9.62v1.30h-9.62zM177.8 415.10h9.62v1.30h-9.62zM186.9 417.10h9.62v1.30h-9.62zM232.5 417.10h9.62v1.30h-9.62zM168.7 418.10h9.62v1.30h-9.62zM177.8 427.10h9.62v1.30h-9.62zM168.7 431.10h9.62v1.30h-9.62zM186.9 439.10h9.62v1.30h-9.62zM186.9 443.10h9.62v1.30h-9.62zM141.3 455.10h9.62v1.30h-9.62zM150.4 455.10h9.62v1.30h-9.62zM196.0 459.10h9.62v1.30h-9.62zM205.1 465.10h9.62v1.30h-9.62zM214.2 473.10h9.62v1.30h-9.62zM186.9 478.10h9.62v1.30h-9.62zM214.2 483.10h9.62v1.30h-9.62zM141.3 488.10h9.62v1.30h-9.62zM214.2 492.10h9.62v1.30h-9.62zM205.1 493.10h9.62v1.30h-9.62zM168.7 496.10h9.62v1.30h-9.62zM205.1 497.10h9.62v1.30h-9.62zM159.5 501.10h9.62v1.30h-9.62z"/><path fill="#d9deb1" d="M214.2 316.10h9.62v1.30h-9.62zM214.2 326.10h9.62v1.30h-9.62zM223.4 331.10h9.62v1.30h-9.62zM232.5 331.10h9.62v1.30h-9.62zM150.4 342.10h9.62v1.30h-9.62zM177.8 350.10h9.62v1.30h-9.62zM241.6 350.10h9.62v1.30h-9.62zM241.6 352.10h9.62v1.30h-9.62zM150.4 359.10h9.62v1.30h-9.62zM177.8 362.10h9.62v1.30h-9.62zM186.9 368.10h9.62v1.30h-9.62zM159.5 374.10h9.62v1.30h-9.62zM168.7 374.10h9.62v1.30h-9.62zM150.4 379.10h9.62v1.30h-9.62zM196.0 383.10h9.62v1.30h-9.62zM214.2 383.10h9.62v1.30h-9.62zM241.6 389.10h9.62v1.30h-9.62zM159.5 394.10h9.62v1.30h-9.62zM150.4 403.10h9.62v1.30h-9.62zM177.8 403.10h9.62v1.30h-9.62zM223.4 406.10h9.62v1.30h-9.62zM223.4 411.10h9.62v1.30h-9.62zM232.5 418.10h9.62v1.30h-9.62zM196.0 420.10h9.62v1.30h-9.62zM214.2 420.10h9.62v1.30h-9.62zM168.7 423.10h9.62v1.30h-9.62zM186.9 431.10h9.62v1.30h-9.62zM159.5 435.10h9.62v1.30h-9.62zM168.7 439.10h9.62v1.30h-9.62zM186.9 441.10h9.62v1.30h-9.62zM150.4 444.10h9.62v1.30h-9.62zM141.3 453.10h9.62v1.30h-9.62zM150.4 454.10h9.62v1.30h-9.62zM196.0 454.10h9.62v1.30h-9.62zM205.1 454.10h9.62v1.30h-9.62zM159.5 456.10h9.62v1.30h-9.62zM214.2 460.10h9.62v1.30h-9.62zM223.4 466.10h9.62v1.30h-9.62zM177.8 470.10h9.62v1.30h-9.62zM205.1 470.10h9.62v1.30h-9.62zM214.2 476.10h9.62v1.30h-9.62zM168.7 478.10h9.62v1.30h-9.62zM141.3 491.10h9.62v1.30h-9.62zM159.5 492.10h9.62v1.30h-9.62zM186.9 495.10h9.62v1.30h-9.62zM141.3 501.10h9.62v1.30h-9.62z"/><path fill="#f7cf70" d="M223.4 316.10h9.62v1.30h-9.62zM232.5 316.10h9.62v1.30h-9.62zM186.9 343.10h9.62v1.30h-9.62zM141.3 407.10h9.62v1.30h-9.62zM150.4 421.10h9.62v1.30h-9.62z"/><path fill="#bbd9cf" d="M150.4 317.10h9.62v1.30h-9.62zM150.4 322.10h9.62v1.30h-9.62zM159.5 328.10h9.62v1.30h-9.62zM223.4 329.10h9.62v1.30h-9.62zM159.5 330.10h9.62v1.30h-9.62zM214.2 334.10h9.62v1.30h-9.62zM214.2 342.10h9.62v1.30h-9.62zM223.4 342.10h9.62v1.30h-9.62zM177.8 344.10h9.62v1.30h-9.62zM159.5 346.10h9.62v1.30h-9.62zM196.0 347.10h9.62v1.30h-9.62zM223.4 347.10h9.62v1.30h-9.62zM186.9 348.10h9.62v1.30h-9.62zM223.4 357.10h9.62v1.30h-9.62zM241.6 357.10h9.62v1.30h-9.62zM150.4 368.10h9.62v1.30h-9.62zM241.6 373.10h9.62v1.30h-9.62zM205.1 386.10h9.62v1.30h-9.62zM223.4 387.10h9.62v1.30h-9.62zM196.0 389.10h9.62v1.30h-9.62zM168.7 396.10h9.62v1.30h-9.62zM186.9 396.10h9.62v1.30h-9.62zM205.1 396.10h9.62v1.30h-9.62zM214.2 398.10h9.62v1.30h-9.62zM241.6 398.10h9.62v1.30h-9.62zM241.6 399.10h9.62v1.30h-9.62zM223.4 404.10h9.62v1.30h-9.62zM177.8 405.10h9.62v1.30h-9.62zM223.4 413.10h9.62v1.30h-9.62zM205.1 418.10h9.62v1.30h-9.62zM232.5 419.10h9.62v1.30h-9.62zM159.5 427.10h9.62v1.30h-9.62zM168.7 442.10h9.62v1.30h-9.62zM141.3 443.10h9.62v1.30h-9.62zM159.5 443.10h9.62v1.30h-9.62zM177.8 448.10h9.62v1.30h-9.62zM168.7 453.10h9.62v1.30h-9.62zM186.9 453.10h9.62v1.30h-9.62zM232.5 453.10h9.62v1.30h-9.62zM205.1 466.10h9.62v1.30h-9.62zM150.4 472.10h9.62v1.30h-9.62zM159.5 472.10h9.62v1.30h-9.62zM177.8 472.10h9.62v1.30h-9.62zM177.8 475.10h9.62v1.30h-9.62zM214.2 475.10h9.62v1.30h-9.62zM141.3 479.10h9.62v1.30h-9.62zM159.5 481.10h9.62v1.30h-9.62zM177.8 483.10h9.62v1.30h-9.62zM150.4 487.10h9.62v1.30h-9.62zM159.5 487.10h9.62v1.30h-9.62zM177.8 487.10h9.62v1.30h-9.62zM214.2 487.10h9.62v1.30h-9.62zM241.6 487.10h9.62v1.30h-9.62zM196.0 489.10h9.62v1.30h-9.62zM186.9 490.10h9.62v1.30h-9.62zM141.3 495.10h9.62v1.30h-9.62zM232.5 497.10h9.62v1.30h-9.62zM196.0 501.10h9.62v1.30h-9.62zM223.4 501.10h9.62v1.30h-9.62zM241.6 503.10h9.62v1.30h-9.62zM232.5 505.10h9.62v1.30h-9.62z"/><path fill="#cadec0" d="M159.5 317.10h9.62v1.30h-9.62zM232.5 326.10h9.62v1.30h-9.62zM141.3 332.10h9.62v1.30h-9.62zM159.5 332.10h9.62v1.30h-9.62zM168.7 340.10h9.62v1.30h-9.62zM223.4 346.10h9.62v1.30h-9.62zM205.1 353.10h9.62v1.30h-9.62zM241.6 354.10h9.62v1.30h-9.62zM223.4 356.10h9.62v1.30h-9.62zM232.5 356.10h9.62v1.30h-9.62zM241.6 371.10h9.62v1.30h-9.62zM168.7 378.10h9.62v1.30h-9.62zM196.0 382.10h9.62v1.30h-9.62zM214.2 391.10h9.62v1.30h-9.62zM159.5 396.10h9.62v1.30h-9.62zM214.2 397.10h9.62v1.30h-9.62zM186.9 414.10h9.62v1.30h-9.62zM205.1 414.10h9.62v1.30h-9.62zM186.9 423.10h9.62v1.30h-9.62zM168.7 425.10h9.62v1.30h-9.62zM186.9 427.10h9.62v1.30h-9.62zM168.7 429.10h9.62v1.30h-9.62zM141.3 430.10h9.62v1.30h-9.62zM150.4 442.10h9.62v1.30h-9.62zM223.4 448.10h9.62v1.30h-9.62zM205.1 449.10h9.62v1.30h-9.62zM159.5 455.10h9.62v1.30h-9.62zM141.3 459.10h9.62v1.30h-9.62zM223.4 459.10h9.62v1.30h-9.62zM159.5 465.10h9.62v1.30h-9.62zM141.3 472.10h9.62v1.30h-9.62zM241.6 475.10h9.62v1.30h-9.62zM150.4 479.10h9.62v1.30h-9.62zM232.5 486.10h9.62v1.30h-9.62zM168.7 487.10h9.62v1.30h-9.62zM241.6 491.10h9.62v1.30h-9.62zM150.4 492.10h9.62v1.30h-9.62zM141.3 494.10h9.62v1.30h-9.62zM168.7 495.10h9.62v1.30h-9.62zM241.6 498.10h9.62v1.30h-9.62zM150.4 503.10h9.62v1.30h-9.62zM159.5 505.10h9.62v1.30h-9.62z"/><path fill="#a2d4de" d="M223.4 317.10h9.62v1.30h-9.62zM232.5 323.10h9.62v1.30h-9.62zM223.4 330.10h9.62v1.30h-9.62zM232.5 333.10h9.62v1.30h-9.62zM159.5 339.10h9.62v1.30h-9.62zM241.6 344.10h9.62v1.30h-9.62zM241.6 347.10h9.62v1.30h-9.62zM241.6 364.10h9.62v1.30h-9.62zM232.5 366.10h9.62v1.30h-9.62zM232.5 373.10h9.62v1.30h-9.62zM214.2 377.10h9.62v1.30h-9.62zM186.9 380.10h9.62v1.30h-9.62zM168.7 381.10h9.62v1.30h-9.62zM177.8 381.10h9.62v1.30h-9.62zM196.0 399.10h9.62v1.30h-9.62zM232.5 408.10h9.62v1.30h-9.62zM241.6 413.10h9.62v1.30h-9.62zM196.0 418.10h9.62v1.30h-9.62zM141.3 425.10h9.62v1.30h-9.62zM168.7 432.10h9.62v1.30h-9.62zM177.8 432.10h9.62v1.30h-9.62zM159.5 438.10h9.62v1.30h-9.62zM196.0 443.10h9.62v1.30h-9.62zM150.4 445.10h9.62v1.30h-9.62zM186.9 450.10h9.62v1.30h-9.62zM205.1 453.10h9.62v1.30h-9.62zM214.2 453.10h9.62v1.30h-9.62zM205.1 455.10h9.62v1.30h-9.62zM241.6 458.10h9.62v1.30h-9.62zM159.5 461.10h9.62v1.30h-9.62zM223.4 464.10h9.62v1.30h-9.62zM232.5 464.10h9.62v1.30h-9.62zM223.4 465.10h9.62v1.30h-9.62zM150.4 480.10h9.62v1.30h-9.62zM223.4 481.10h9.62v1.30h-9.62zM241.6 481.10h9.62v1.30h-9.62zM186.9 483.10h9.62v1.30h-9.62zM150.4 489.10h9.62v1.30h-9.62zM168.7 489.10h9.62v1.30h-9.62zM177.8 489.10h9.62v1.30h-9.62zM232.5 490.10h9.62v1.30h-9.62zM141.3 496.10h9.62v1.30h-9.62zM141.3 499.10h9.62v1.30h-9.62zM186.9 499.10h9.62v1.30h-9.62z"/><path fill="#98cfe3" d="M241.6 317.10h9.62v1.30h-9.62zM141.3 319.10h9.62v1.30h-9.62zM196.0 320.10h9.62v1.30h-9.62zM205.1 321.10h9.62v1.30h-9.62zM232.5 321.10h9.62v1.30h-9.62zM214.2 325.10h9.62v1.30h-9.62zM241.6 342.10h9.62v1.30h-9.62zM214.2 351.10h9.62v1.30h-9.62zM232.5 355.10h9.62v1.30h-9.62zM223.4 377.10h9.62v1.30h-9.62zM232.5 377.10h9.62v1.30h-9.62zM177.8 394.10h9.62v1.30h-9.62zM232.5 396.10h9.62v1.30h-9.62zM223.4 410.10h9.62v1.30h-9.62zM232.5 410.10h9.62v1.30h-9.62zM196.0 413.10h9.62v1.30h-9.62zM150.4 423.10h9.62v1.30h-9.62zM141.3 424.10h9.62v1.30h-9.62zM150.4 424.10h9.62v1.30h-9.62zM223.4 424.10h9.62v1.30h-9.62zM150.4 425.10h9.62v1.30h-9.62zM205.1 428.10h9.62v1.30h-9.62zM214.2 434.10h9.62v1.30h-9.62zM196.0 435.10h9.62v1.30h-9.62zM141.3 436.10h9.62v1.30h-9.62zM150.4 436.10h9.62v1.30h-9.62zM168.7 438.10h9.62v1.30h-9.62zM214.2 443.10h9.62v1.30h-9.62zM241.6 445.10h9.62v1.30h-9.62zM177.8 458.10h9.62v1.30h-9.62zM196.0 458.10h9.62v1.30h-9.62zM159.5 464.10h9.62v1.30h-9.62zM214.2 468.10h9.62v1.30h-9.62zM223.4 473.10h9.62v1.30h-9.62zM232.5 494.10h9.62v1.30h-9.62zM159.5 499.10h9.62v1.30h-9.62z"/><path fill="#b1d9d9" d="M141.3 318.10h9.62v1.30h-9.62zM159.5 319.10h9.62v1.30h-9.62zM141.3 320.10h9.62v1.30h-9.62zM232.5 327.10h9.62v1.30h-9.62zM232.5 329.10h9.62v1.30h-9.62zM168.7 344.10h9.62v1.30h-9.62zM232.5 346.10h9.62v1.30h-9.62zM223.4 350.10h9.62v1.30h-9.62zM196.0 352.10h9.62v1.30h-9.62zM214.2 353.10h9.62v1.30h-9.62zM196.0 356.10h9.62v1.30h-9.62zM196.0 359.10h9.62v1.30h-9.62zM205.1 359.10h9.62v1.30h-9.62zM150.4 361.10h9.62v1.30h-9.62zM159.5 361.10h9.62v1.30h-9.62zM232.5 363.10h9.62v1.30h-9.62zM159.5 364.10h9.62v1.30h-9.62zM141.3 368.10h9.62v1.30h-9.62zM223.4 370.10h9.62v1.30h-9.62zM196.0 372.10h9.62v1.30h-9.62zM205.1 376.10h9.62v1.30h-9.62zM223.4 376.10h9.62v1.30h-9.62zM205.1 378.10h9.62v1.30h-9.62zM159.5 381.10h9.62v1.30h-9.62zM214.2 385.10h9.62v1.30h-9.62zM196.0 398.10h9.62v1.30h-9.62zM241.6 401.10h9.62v1.30h-9.62zM214.2 418.10h9.62v1.30h-9.62zM223.4 419.10h9.62v1.30h-9.62zM205.1 422.10h9.62v1.30h-9.62zM159.5 428.10h9.62v1.30h-9.62zM150.4 433.10h9.62v1.30h-9.62zM241.6 434.10h9.62v1.30h-9.62zM241.6 435.10h9.62v1.30h-9.62zM177.8 445.10h9.62v1.30h-9.62zM159.5 446.10h9.62v1.30h-9.62zM150.4 452.10h9.62v1.30h-9.62zM205.1 462.10h9.62v1.30h-9.62zM196.0 464.10h9.62v1.30h-9.62zM223.4 468.10h9.62v1.30h-9.62zM241.6 468.10h9.62v1.30h-9.62zM186.9 469.10h9.62v1.30h-9.62zM232.5 472.10h9.62v1.30h-9.62zM241.6 473.10h9.62v1.30h-9.62zM150.4 481.10h9.62v1.30h-9.62zM223.4 483.10h9.62v1.30h-9.62zM232.5 483.10h9.62v1.30h-9.62zM241.6 483.10h9.62v1.30h-9.62zM186.9 485.10h9.62v1.30h-9.62zM241.6 490.10h9.62v1.30h-9.62zM168.7 493.10h9.62v1.30h-9.62zM177.8 493.10h9.62v1.30h-9.62zM150.4 496.10h9.62v1.30h-9.62zM159.5 496.10h9.62v1.30h-9.62zM141.3 497.10h9.62v1.30h-9.62zM159.5 502.10h9.62v1.30h-9.62zM150.4 506.10h9.62v1.30h-9.62z"/><path fill="#e8e39d" d="M168.7 318.10h9.62v1.30h-9.62zM168.7 319.10h9.62v1.30h-9.62zM159.5 326.10h9.62v1.30h-9.62zM168.7 331.10h9.62v1.30h-9.62zM186.9 332.10h9.62v1.30h-9.62zM141.3 342.10h9.62v1.30h-9.62zM214.2 345.10h9.62v1.30h-9.62zM168.7 347.10h9.62v1.30h-9.62zM186.9 347.10h9.62v1.30h-9.62zM141.3 349.10h9.62v1.30h-9.62zM159.5 353.10h9.62v1.30h-9.62zM232.5 358.10h9.62v1.30h-9.62zM150.4 363.10h9.62v1.30h-9.62zM159.5 365.10h9.62v1.30h-9.62zM223.4 365.10h9.62v1.30h-9.62zM241.6 365.10h9.62v1.30h-9.62zM150.4 370.10h9.62v1.30h-9.62zM159.5 370.10h9.62v1.30h-9.62zM141.3 379.10h9.62v1.30h-9.62zM177.8 379.10h9.62v1.30h-9.62zM141.3 388.10h9.62v1.30h-9.62zM223.4 390.10h9.62v1.30h-9.62zM168.7 395.10h9.62v1.30h-9.62zM150.4 398.10h9.62v1.30h-9.62zM141.3 403.10h9.62v1.30h-9.62zM214.2 408.10h9.62v1.30h-9.62zM168.7 409.10h9.62v1.30h-9.62zM168.7 411.10h9.62v1.30h-9.62zM205.1 411.10h9.62v1.30h-9.62zM214.2 411.10h9.62v1.30h-9.62zM223.4 417.10h9.62v1.30h-9.62zM241.6 417.10h9.62v1.30h-9.62zM177.8 418.10h9.62v1.30h-9.62zM241.6 420.10h9.62v1.30h-9.62zM177.8 423.10h9.62v1.30h-9.62zM186.9 424.10h9.62v1.30h-9.62zM150.4 449.10h9.62v1.30h-9.62zM232.5 455.10h9.62v1.30h-9.62zM168.7 457.10h9.62v1.30h-9.62zM168.7 459.10h9.62v1.30h-9.62zM177.8 459.10h9.62v1.30h-9.62zM177.8 473.10h9.62v1.30h-9.62zM168.7 486.10h9.62v1.30h-9.62zM214.2 488.10h9.62v1.30h-9.62zM177.8 496.10h9.62v1.30h-9.62zM168.7 498.10h9.62v1.30h-9.62zM177.8 500.10h9.62v1.30h-9.62zM186.9 500.10h9.62v1.30h-9.62zM232.5 502.10h9.62v1.30h-9.62zM141.3 504.10h9.62v1.30h-9.62zM159.5 504.10h9.62v1.30h-9.62zM177.8 504.10h9.62v1.30h-9.62zM196.0 505.10h9.62v1.30h-9.62z"/><path fill="#75bbe3" d="M196.0 318.10h9.62v1.30h-9.62zM196.0 358.10h9.62v1.30h-9.62zM223.4 423.10h9.62v1.30h-9.62zM241.6 423.10h9.62v1.30h-9.62zM232.5 451.10h9.62v1.30h-9.62zM223.4 499.10h9.62v1.30h-9.62z"/><path fill="#70b6e8" d="M223.4 318.10h9.62v1.30h-9.62zM214.2 330.10h9.62v1.30h-9.62zM241.6 335.10h9.62v1.30h-9.62zM205.1 344.10h9.62v1.30h-9.62zM141.3 437.10h9.62v1.30h-9.62zM214.2 442.10h9.62v1.30h-9.62zM196.0 481.10h9.62v1.30h-9.62z"/><path fill="#a2cfde" d="M150.4 319.10h9.62v1.30h-9.62zM223.4 322.10h9.62v1.30h-9.62zM232.5 322.10h9.62v1.30h-9.62zM241.6 323.10h9.62v1.30h-9.62zM223.4 327.10h9.62v1.30h-9.62zM214.2 329.10h9.62v1.30h-9.62zM168.7 337.10h9.62v1.30h-9.62zM232.5 347.10h9.62v1.30h-9.62zM141.3 366.10h9.62v1.30h-9.62zM196.0 368.10h9.62v1.30h-9.62zM223.4 396.10h9.62v1.30h-9.62zM168.7 399.10h9.62v1.30h-9.62zM177.8 399.10h9.62v1.30h-9.62zM241.6 403.10h9.62v1.30h-9.62zM168.7 410.10h9.62v1.30h-9.62zM232.5 414.10h9.62v1.30h-9.62zM232.5 422.10h9.62v1.30h-9.62zM223.4 428.10h9.62v1.30h-9.62zM150.4 447.10h9.62v1.30h-9.62zM168.7 450.10h9.62v1.30h-9.62zM196.0 462.10h9.62v1.30h-9.62zM168.7 479.10h9.62v1.30h-9.62zM168.7 483.10h9.62v1.30h-9.62zM196.0 486.10h9.62v1.30h-9.62zM223.4 490.10h9.62v1.30h-9.62z"/><path fill="#ede393" d="M177.8 319.10h9.62v1.30h-9.62zM150.4 329.10h9.62v1.30h-9.62zM159.5 333.10h9.62v1.30h-9.62zM177.8 335.10h9.62v1.30h-9.62zM141.3 341.10h9.62v1.30h-9.62zM150.4 341.10h9.62v1.30h-9.62zM141.3 343.10h9.62v1.30h-9.62zM159.5 343.10h9.62v1.30h-9.62zM177.8 347.10h9.62v1.30h-9.62zM196.0 349.10h9.62v1.30h-9.62zM205.1 349.10h9.62v1.30h-9.62zM150.4 352.10h9.62v1.30h-9.62zM141.3 356.10h9.62v1.30h-9.62zM159.5 356.10h9.62v1.30h-9.62zM186.9 357.10h9.62v1.30h-9.62zM177.8 364.10h9.62v1.30h-9.62zM177.8 370.10h9.62v1.30h-9.62zM159.5 372.10h9.62v1.30h-9.62zM186.9 372.10h9.62v1.30h-9.62zM150.4 375.10h9.62v1.30h-9.62zM150.4 376.10h9.62v1.30h-9.62zM168.7 376.10h9.62v1.30h-9.62zM177.8 377.10h9.62v1.30h-9.62zM223.4 382.10h9.62v1.30h-9.62zM232.5 382.10h9.62v1.30h-9.62zM177.8 383.10h9.62v1.30h-9.62zM223.4 385.10h9.62v1.30h-9.62zM196.0 387.10h9.62v1.30h-9.62zM186.9 395.10h9.62v1.30h-9.62zM223.4 397.10h9.62v1.30h-9.62zM241.6 397.10h9.62v1.30h-9.62zM223.4 400.10h9.62v1.30h-9.62zM177.8 401.10h9.62v1.30h-9.62zM241.6 402.10h9.62v1.30h-9.62zM159.5 405.10h9.62v1.30h-9.62zM241.6 407.10h9.62v1.30h-9.62zM196.0 409.10h9.62v1.30h-9.62zM196.0 410.10h9.62v1.30h-9.62zM205.1 410.10h9.62v1.30h-9.62zM241.6 411.10h9.62v1.30h-9.62zM168.7 412.10h9.62v1.30h-9.62zM177.8 414.10h9.62v1.30h-9.62zM177.8 417.10h9.62v1.30h-9.62zM141.3 418.10h9.62v1.30h-9.62zM186.9 418.10h9.62v1.30h-9.62zM168.7 419.10h9.62v1.30h-9.62zM214.2 419.10h9.62v1.30h-9.62zM177.8 424.10h9.62v1.30h-9.62zM177.8 428.10h9.62v1.30h-9.62zM168.7 434.10h9.62v1.30h-9.62zM141.3 449.10h9.62v1.30h-9.62zM232.5 454.10h9.62v1.30h-9.62zM168.7 455.10h9.62v1.30h-9.62zM186.9 455.10h9.62v1.30h-9.62zM223.4 455.10h9.62v1.30h-9.62zM223.4 456.10h9.62v1.30h-9.62zM232.5 456.10h9.62v1.30h-9.62zM177.8 457.10h9.62v1.30h-9.62zM150.4 463.10h9.62v1.30h-9.62zM196.0 465.10h9.62v1.30h-9.62zM241.6 467.10h9.62v1.30h-9.62zM159.5 470.10h9.62v1.30h-9.62zM232.5 470.10h9.62v1.30h-9.62zM150.4 473.10h9.62v1.30h-9.62zM177.8 476.10h9.62v1.30h-9.62zM205.1 478.10h9.62v1.30h-9.62zM177.8 488.10h9.62v1.30h-9.62zM186.9 488.10h9.62v1.30h-9.62zM205.1 491.10h9.62v1.30h-9.62zM168.7 492.10h9.62v1.30h-9.62zM186.9 492.10h9.62v1.30h-9.62zM186.9 494.10h9.62v1.30h-9.62zM186.9 498.10h9.62v1.30h-9.62zM150.4 500.10h9.62v1.30h-9.62zM241.6 500.10h9.62v1.30h-9.62zM241.6 502.10h9.62v1.30h-9.62zM205.1 506.10h9.62v1.30h-9.62z"/><path fill="#70bbe8" d="M205.1 319.10h9.62v1.30h-9.62zM241.6 319.10h9.62v1.30h-9.62zM214.2 332.10h9.62v1.30h-9.62zM232.5 348.10h9.62v1.30h-9.62zM223.4 381.10h9.62v1.30h-9.62zM205.1 384.10h9.62v1.30h-9.62zM159.5 437.10h9.62v1.30h-9.62zM241.6 439.10h9.62v1.30h-9.62zM186.9 440.10h9.62v1.30h-9.62zM205.1 441.10h9.62v1.30h-9.62zM241.6 450.10h9.62v1.30h-9.62zM241.6 451.10h9.62v1.30h-9.62z"/><path fill="#75bbe8" d="M232.5 319.10h9.62v1.30h-9.62zM205.1 323.10h9.62v1.30h-9.62zM214.2 323.10h9.62v1.30h-9.62zM232.5 335.10h9.62v1.30h-9.62zM141.3 337.10h9.62v1.30h-9.62zM150.4 337.10h9.62v1.30h-9.62zM223.4 338.10h9.62v1.30h-9.62zM196.0 346.10h9.62v1.30h-9.62zM241.6 353.10h9.62v1.30h-9.62zM214.2 366.10h9.62v1.30h-9.62zM214.2 427.10h9.62v1.30h-9.62zM223.4 433.10h9.62v1.30h-9.62zM241.6 438.10h9.62v1.30h-9.62zM223.4 446.10h9.62v1.30h-9.62zM223.4 450.10h9.62v1.30h-9.62zM223.4 451.10h9.62v1.30h-9.62zM186.9 461.10h9.62v1.30h-9.62zM168.7 474.10h9.62v1.30h-9.62zM168.7 482.10h9.62v1.30h-9.62zM232.5 485.10h9.62v1.30h-9.62z"/><path fill="#89cae3" d="M205.1 320.10h9.62v1.30h-9.62zM196.0 327.10h9.62v1.30h-9.62zM159.5 340.10h9.62v1.30h-9.62zM241.6 348.10h9.62v1.30h-9.62zM205.1 357.10h9.62v1.30h-9.62zM196.0 374.10h9.62v1.30h-9.62zM232.5 386.10h9.62v1.30h-9.62zM141.3 423.10h9.62v1.30h-9.62zM232.5 431.10h9.62v1.30h-9.62zM168.7 437.10h9.62v1.30h-9.62zM205.1 447.10h9.62v1.30h-9.62zM159.5 474.10h9.62v1.30h-9.62zM186.9 479.10h9.62v1.30h-9.62zM241.6 479.10h9.62v1.30h-9.62zM177.8 482.10h9.62v1.30h-9.62zM168.7 503.10h9.62v1.30h-9.62z"/><path fill="#d9deac" d="M159.5 321.10h9.62v1.30h-9.62zM159.5 329.10h9.62v1.30h-9.62zM205.1 336.10h9.62v1.30h-9.62zM168.7 339.10h9.62v1.30h-9.62zM223.4 358.10h9.62v1.30h-9.62zM177.8 374.10h9.62v1.30h-9.62zM186.9 374.10h9.62v1.30h-9.62zM168.7 375.10h9.62v1.30h-9.62zM177.8 378.10h9.62v1.30h-9.62zM205.1 382.10h9.62v1.30h-9.62zM214.2 382.10h9.62v1.30h-9.62zM214.2 388.10h9.62v1.30h-9.62zM241.6 388.10h9.62v1.30h-9.62zM141.3 390.10h9.62v1.30h-9.62zM168.7 390.10h9.62v1.30h-9.62zM168.7 391.10h9.62v1.30h-9.62zM186.9 403.10h9.62v1.30h-9.62zM168.7 404.10h9.62v1.30h-9.62zM241.6 406.10h9.62v1.30h-9.62zM177.8 408.10h9.62v1.30h-9.62zM159.5 441.10h9.62v1.30h-9.62zM177.8 443.10h9.62v1.30h-9.62zM232.5 460.10h9.62v1.30h-9.62zM205.1 473.10h9.62v1.30h-9.62zM186.9 486.10h9.62v1.30h-9.62zM177.8 491.10h9.62v1.30h-9.62zM168.7 497.10h9.62v1.30h-9.62zM177.8 505.10h9.62v1.30h-9.62zM186.9 505.10h9.62v1.30h-9.62z"/><path fill="#ede38e" d="M168.7 321.10h9.62v1.30h-9.62zM141.3 324.10h9.62v1.30h-9.62zM150.4 324.10h9.62v1.30h-9.62zM141.3 329.10h9.62v1.30h-9.62zM177.8 329.10h9.62v1.30h-9.62zM223.4 334.10h9.62v1.30h-9.62zM241.6 334.10h9.62v1.30h-9.62zM186.9 335.10h9.62v1.30h-9.62zM232.5 336.10h9.62v1.30h-9.62zM177.8 338.10h9.62v1.30h-9.62zM223.4 349.10h9.62v1.30h-9.62zM168.7 350.10h9.62v1.30h-9.62zM186.9 350.10h9.62v1.30h-9.62zM232.5 365.10h9.62v1.30h-9.62zM168.7 370.10h9.62v1.30h-9.62zM141.3 372.10h9.62v1.30h-9.62zM159.5 373.10h9.62v1.30h-9.62zM241.6 380.10h9.62v1.30h-9.62zM241.6 382.10h9.62v1.30h-9.62zM159.5 388.10h9.62v1.30h-9.62zM232.5 400.10h9.62v1.30h-9.62zM241.6 400.10h9.62v1.30h-9.62zM168.7 401.10h9.62v1.30h-9.62zM150.4 405.10h9.62v1.30h-9.62zM177.8 406.10h9.62v1.30h-9.62zM223.4 407.10h9.62v1.30h-9.62zM141.3 408.10h9.62v1.30h-9.62zM141.3 410.10h9.62v1.30h-9.62zM223.4 412.10h9.62v1.30h-9.62zM241.6 415.10h9.62v1.30h-9.62zM196.0 416.10h9.62v1.30h-9.62zM214.2 416.10h9.62v1.30h-9.62zM150.4 418.10h9.62v1.30h-9.62zM205.1 419.10h9.62v1.30h-9.62zM223.4 420.10h9.62v1.30h-9.62zM168.7 424.10h9.62v1.30h-9.62zM168.7 428.10h9.62v1.30h-9.62zM177.8 434.10h9.62v1.30h-9.62zM223.4 449.10h9.62v1.30h-9.62zM177.8 455.10h9.62v1.30h-9.62zM241.6 470.10h9.62v1.30h-9.62zM159.5 473.10h9.62v1.30h-9.62zM141.3 476.10h9.62v1.30h-9.62zM223.4 478.10h9.62v1.30h-9.62zM168.7 488.10h9.62v1.30h-9.62zM196.0 491.10h9.62v1.30h-9.62zM168.7 494.10h9.62v1.30h-9.62zM223.4 502.10h9.62v1.30h-9.62z"/><path fill="#c5deca" d="M159.5 322.10h9.62v1.30h-9.62zM150.4 344.10h9.62v1.30h-9.62zM232.5 354.10h9.62v1.30h-9.62zM177.8 369.10h9.62v1.30h-9.62zM150.4 383.10h9.62v1.30h-9.62zM196.0 396.10h9.62v1.30h-9.62zM232.5 404.10h9.62v1.30h-9.62zM150.4 430.10h9.62v1.30h-9.62zM141.3 452.10h9.62v1.30h-9.62zM159.5 452.10h9.62v1.30h-9.62zM177.8 456.10h9.62v1.30h-9.62zM205.1 456.10h9.62v1.30h-9.62zM168.7 465.10h9.62v1.30h-9.62zM186.9 475.10h9.62v1.30h-9.62zM141.3 481.10h9.62v1.30h-9.62zM186.9 506.10h9.62v1.30h-9.62z"/><path fill="#f2d984" d="M186.9 322.10h9.62v1.30h-9.62zM186.9 328.10h9.62v1.30h-9.62zM186.9 352.10h9.62v1.30h-9.62zM168.7 354.10h9.62v1.30h-9.62zM168.7 356.10h9.62v1.30h-9.62zM186.9 359.10h9.62v1.30h-9.62zM159.5 376.10h9.62v1.30h-9.62zM150.4 397.10h9.62v1.30h-9.62zM159.5 397.10h9.62v1.30h-9.62zM168.7 400.10h9.62v1.30h-9.62zM168.7 407.10h9.62v1.30h-9.62zM159.5 412.10h9.62v1.30h-9.62zM196.0 415.10h9.62v1.30h-9.62zM241.6 416.10h9.62v1.30h-9.62zM141.3 419.10h9.62v1.30h-9.62zM214.2 463.10h9.62v1.30h-9.62zM205.1 467.10h9.62v1.30h-9.62zM168.7 477.10h9.62v1.30h-9.62zM196.0 484.10h9.62v1.30h-9.62zM214.2 484.10h9.62v1.30h-9.62zM177.8 502.10h9.62v1.30h-9.62zM205.1 504.10h9.62v1.30h-9.62zM196.0 507.10h9.62v1.30h-9.62zM223.4 507.10h9.62v1.30h-9.62z"/><path fill="#89c5e3" d="M205.1 322.10h9.62v1.30h-9.62zM214.2 322.10h9.62v1.30h-9.62zM241.6 322.10h9.62v1.30h-9.62zM241.6 325.10h9.62v1.30h-9.62zM205.1 327.10h9.62v1.30h-9.62zM223.4 328.10h9.62v1.30h-9.62zM232.5 328.10h9.62v1.30h-9.62zM241.6 328.10h9.62v1.30h-9.62zM196.0 330.10h9.62v1.30h-9.62zM205.1 338.10h9.62v1.30h-9.62zM196.0 341.10h9.62v1.30h-9.62zM214.2 341.10h9.62v1.30h-9.62zM196.0 343.10h9.62v1.30h-9.62zM223.4 348.10h9.62v1.30h-9.62zM205.1 351.10h9.62v1.30h-9.62zM196.0 362.10h9.62v1.30h-9.62zM196.0 381.10h9.62v1.30h-9.62zM205.1 403.10h9.62v1.30h-9.62zM232.5 423.10h9.62v1.30h-9.62zM196.0 425.10h9.62v1.30h-9.62zM232.5 427.10h9.62v1.30h-9.62zM241.6 427.10h9.62v1.30h-9.62zM150.4 431.10h9.62v1.30h-9.62zM159.5 431.10h9.62v1.30h-9.62zM232.5 433.10h9.62v1.30h-9.62zM205.1 434.10h9.62v1.30h-9.62zM223.4 438.10h9.62v1.30h-9.62zM241.6 441.10h9.62v1.30h-9.62zM196.0 452.10h9.62v1.30h-9.62zM168.7 458.10h9.62v1.30h-9.62zM186.9 462.10h9.62v1.30h-9.62zM186.9 471.10h9.62v1.30h-9.62zM223.4 471.10h9.62v1.30h-9.62zM196.0 479.10h9.62v1.30h-9.62zM241.6 482.10h9.62v1.30h-9.62zM141.3 485.10h9.62v1.30h-9.62zM159.5 485.10h9.62v1.30h-9.62zM186.9 503.10h9.62v1.30h-9.62z"/><path fill="#e3e3a2" d="M150.4 323.10h9.62v1.30h-9.62zM141.3 327.10h9.62v1.30h-9.62zM214.2 336.10h9.62v1.30h-9.62zM177.8 342.10h9.62v1.30h-9.62zM186.9 346.10h9.62v1.30h-9.62zM141.3 351.10h9.62v1.30h-9.62zM150.4 351.10h9.62v1.30h-9.62zM141.3 353.10h9.62v1.30h-9.62zM205.1 354.10h9.62v1.30h-9.62zM214.2 354.10h9.62v1.30h-9.62zM141.3 358.10h9.62v1.30h-9.62zM241.6 358.10h9.62v1.30h-9.62zM141.3 362.10h9.62v1.30h-9.62zM141.3 365.10h9.62v1.30h-9.62zM177.8 368.10h9.62v1.30h-9.62zM205.1 371.10h9.62v1.30h-9.62zM214.2 371.10h9.62v1.30h-9.62zM223.4 371.10h9.62v1.30h-9.62zM150.4 372.10h9.62v1.30h-9.62zM196.0 373.10h9.62v1.30h-9.62zM141.3 378.10h9.62v1.30h-9.62zM159.5 378.10h9.62v1.30h-9.62zM168.7 379.10h9.62v1.30h-9.62zM141.3 384.10h9.62v1.30h-9.62zM232.5 389.10h9.62v1.30h-9.62zM177.8 390.10h9.62v1.30h-9.62zM186.9 390.10h9.62v1.30h-9.62zM177.8 391.10h9.62v1.30h-9.62zM223.4 391.10h9.62v1.30h-9.62zM232.5 391.10h9.62v1.30h-9.62zM159.5 395.10h9.62v1.30h-9.62zM141.3 398.10h9.62v1.30h-9.62zM168.7 406.10h9.62v1.30h-9.62zM196.0 406.10h9.62v1.30h-9.62zM214.2 406.10h9.62v1.30h-9.62zM196.0 408.10h9.62v1.30h-9.62zM205.1 408.10h9.62v1.30h-9.62zM241.6 409.10h9.62v1.30h-9.62zM214.2 410.10h9.62v1.30h-9.62zM186.9 411.10h9.62v1.30h-9.62zM214.2 412.10h9.62v1.30h-9.62zM241.6 412.10h9.62v1.30h-9.62zM159.5 414.10h9.62v1.30h-9.62zM186.9 415.10h9.62v1.30h-9.62zM205.1 421.10h9.62v1.30h-9.62zM214.2 421.10h9.62v1.30h-9.62zM150.4 422.10h9.62v1.30h-9.62zM177.8 426.10h9.62v1.30h-9.62zM177.8 429.10h9.62v1.30h-9.62zM177.8 441.10h9.62v1.30h-9.62zM241.6 448.10h9.62v1.30h-9.62zM232.5 449.10h9.62v1.30h-9.62zM241.6 454.10h9.62v1.30h-9.62zM186.9 457.10h9.62v1.30h-9.62zM186.9 459.10h9.62v1.30h-9.62zM241.6 463.10h9.62v1.30h-9.62zM186.9 470.10h9.62v1.30h-9.62zM205.1 476.10h9.62v1.30h-9.62zM196.0 483.10h9.62v1.30h-9.62zM150.4 488.10h9.62v1.30h-9.62zM150.4 491.10h9.62v1.30h-9.62zM159.5 491.10h9.62v1.30h-9.62zM196.0 492.10h9.62v1.30h-9.62zM159.5 493.10h9.62v1.30h-9.62zM177.8 494.10h9.62v1.30h-9.62zM232.5 495.10h9.62v1.30h-9.62zM186.9 496.10h9.62v1.30h-9.62zM168.7 504.10h9.62v1.30h-9.62z"/><path fill="#f2bb61" d="M168.7 324.10h9.62v1.30h-9.62zM177.8 367.10h9.62v1.30h-9.62zM150.4 484.10h9.62v1.30h-9.62z"/><path fill="#f2c56b" d="M177.8 324.10h9.62v1.30h-9.62zM186.9 326.10h9.62v1.30h-9.62zM150.4 334.10h9.62v1.30h-9.62zM159.5 334.10h9.62v1.30h-9.62zM177.8 334.10h9.62v1.30h-9.62zM168.7 336.10h9.62v1.30h-9.62zM186.9 336.10h9.62v1.30h-9.62zM177.8 349.10h9.62v1.30h-9.62zM168.7 397.10h9.62v1.30h-9.62zM141.3 421.10h9.62v1.30h-9.62z"/><path fill="#d4deb1" d="M205.1 324.10h9.62v1.30h-9.62zM214.2 324.10h9.62v1.30h-9.62zM168.7 342.10h9.62v1.30h-9.62zM186.9 342.10h9.62v1.30h-9.62zM232.5 352.10h9.62v1.30h-9.62zM159.5 359.10h9.62v1.30h-9.62zM141.3 386.10h9.62v1.30h-9.62zM241.6 390.10h9.62v1.30h-9.62zM214.2 401.10h9.62v1.30h-9.62zM177.8 402.10h9.62v1.30h-9.62zM186.9 426.10h9.62v1.30h-9.62zM214.2 470.10h9.62v1.30h-9.62zM232.5 480.10h9.62v1.30h-9.62zM177.8 486.10h9.62v1.30h-9.62zM159.5 490.10h9.62v1.30h-9.62z"/><path fill="#f2b65c" d="M168.7 326.10h9.62v1.30h-9.62z"/><path fill="#f2c066" d="M177.8 326.10h9.62v1.30h-9.62zM186.9 334.10h9.62v1.30h-9.62zM186.9 360.10h9.62v1.30h-9.62zM168.7 367.10h9.62v1.30h-9.62zM159.5 420.10h9.62v1.30h-9.62zM141.3 484.10h9.62v1.30h-9.62zM159.5 484.10h9.62v1.30h-9.62z"/><path fill="#cfdec0" d="M196.0 326.10h9.62v1.30h-9.62zM223.4 326.10h9.62v1.30h-9.62zM159.5 327.10h9.62v1.30h-9.62zM141.3 330.10h9.62v1.30h-9.62zM150.4 332.10h9.62v1.30h-9.62zM177.8 339.10h9.62v1.30h-9.62zM177.8 340.10h9.62v1.30h-9.62zM150.4 369.10h9.62v1.30h-9.62zM168.7 384.10h9.62v1.30h-9.62zM159.5 390.10h9.62v1.30h-9.62zM150.4 396.10h9.62v1.30h-9.62zM186.9 398.10h9.62v1.30h-9.62zM177.8 404.10h9.62v1.30h-9.62zM159.5 444.10h9.62v1.30h-9.62zM168.7 452.10h9.62v1.30h-9.62zM141.3 454.10h9.62v1.30h-9.62zM141.3 460.10h9.62v1.30h-9.62zM241.6 460.10h9.62v1.30h-9.62zM150.4 466.10h9.62v1.30h-9.62zM141.3 468.10h9.62v1.30h-9.62zM177.8 469.10h9.62v1.30h-9.62zM196.0 476.10h9.62v1.30h-9.62zM223.4 486.10h9.62v1.30h-9.62zM150.4 494.10h9.62v1.30h-9.62zM159.5 494.10h9.62v1.30h-9.62zM241.6 495.10h9.62v1.30h-9.62zM205.1 501.10h9.62v1.30h-9.62zM141.3 502.10h9.62v1.30h-9.62zM168.7 506.10h9.62v1.30h-9.62zM177.8 506.10h9.62v1.30h-9.62zM241.6 506.10h9.62v1.30h-9.62z"/><path fill="#f7d475" d="M186.9 327.10h9.62v1.30h-9.62zM168.7 343.10h9.62v1.30h-9.62zM186.9 355.10h9.62v1.30h-9.62zM177.8 371.10h9.62v1.30h-9.62zM150.4 385.10h9.62v1.30h-9.62zM186.9 385.10h9.62v1.30h-9.62zM159.5 407.10h9.62v1.30h-9.62zM159.5 411.10h9.62v1.30h-9.62zM141.3 417.10h9.62v1.30h-9.62zM159.5 417.10h9.62v1.30h-9.62zM177.8 454.10h9.62v1.30h-9.62zM241.6 477.10h9.62v1.30h-9.62zM186.9 484.10h9.62v1.30h-9.62zM223.4 484.10h9.62v1.30h-9.62zM177.8 507.10h9.62v1.30h-9.62z"/><path fill="#5ca7de" d="M214.2 328.10h9.62v1.30h-9.62zM196.0 335.10h9.62v1.30h-9.62zM205.1 335.10h9.62v1.30h-9.62zM205.1 337.10h9.62v1.30h-9.62zM223.4 337.10h9.62v1.30h-9.62zM241.6 337.10h9.62v1.30h-9.62zM232.5 339.10h9.62v1.30h-9.62zM205.1 340.10h9.62v1.30h-9.62zM205.1 361.10h9.62v1.30h-9.62zM232.5 425.10h9.62v1.30h-9.62zM150.4 426.10h9.62v1.30h-9.62zM196.0 426.10h9.62v1.30h-9.62zM214.2 426.10h9.62v1.30h-9.62zM223.4 426.10h9.62v1.30h-9.62zM223.4 429.10h9.62v1.30h-9.62zM241.6 429.10h9.62v1.30h-9.62zM223.4 436.10h9.62v1.30h-9.62zM223.4 437.10h9.62v1.30h-9.62zM196.0 438.10h9.62v1.30h-9.62zM205.1 438.10h9.62v1.30h-9.62zM223.4 440.10h9.62v1.30h-9.62zM232.5 440.10h9.62v1.30h-9.62zM196.0 450.10h9.62v1.30h-9.62zM241.6 474.10h9.62v1.30h-9.62z"/><path fill="#b1d9d4" d="M241.6 329.10h9.62v1.30h-9.62zM159.5 338.10h9.62v1.30h-9.62zM196.0 378.10h9.62v1.30h-9.62zM196.0 380.10h9.62v1.30h-9.62zM214.2 390.10h9.62v1.30h-9.62zM223.4 403.10h9.62v1.30h-9.62zM223.4 435.10h9.62v1.30h-9.62zM223.4 447.10h9.62v1.30h-9.62zM177.8 465.10h9.62v1.30h-9.62zM241.6 465.10h9.62v1.30h-9.62zM159.5 469.10h9.62v1.30h-9.62zM186.9 487.10h9.62v1.30h-9.62zM177.8 490.10h9.62v1.30h-9.62z"/><path fill="#a7d4de" d="M241.6 330.10h9.62v1.30h-9.62zM223.4 333.10h9.62v1.30h-9.62zM223.4 341.10h9.62v1.30h-9.62zM205.1 343.10h9.62v1.30h-9.62zM150.4 366.10h9.62v1.30h-9.62zM223.4 368.10h9.62v1.30h-9.62zM241.6 368.10h9.62v1.30h-9.62zM205.1 372.10h9.62v1.30h-9.62zM223.4 373.10h9.62v1.30h-9.62zM196.0 377.10h9.62v1.30h-9.62zM232.5 379.10h9.62v1.30h-9.62zM150.4 381.10h9.62v1.30h-9.62zM186.9 394.10h9.62v1.30h-9.62zM241.6 396.10h9.62v1.30h-9.62zM214.2 399.10h9.62v1.30h-9.62zM241.6 419.10h9.62v1.30h-9.62zM214.2 430.10h9.62v1.30h-9.62zM186.9 432.10h9.62v1.30h-9.62zM214.2 435.10h9.62v1.30h-9.62zM232.5 444.10h9.62v1.30h-9.62zM168.7 446.10h9.62v1.30h-9.62zM177.8 446.10h9.62v1.30h-9.62zM141.3 447.10h9.62v1.30h-9.62zM214.2 464.10h9.62v1.30h-9.62zM232.5 465.10h9.62v1.30h-9.62zM205.1 471.10h9.62v1.30h-9.62zM205.1 474.10h9.62v1.30h-9.62zM205.1 486.10h9.62v1.30h-9.62zM232.5 493.10h9.62v1.30h-9.62zM177.8 503.10h9.62v1.30h-9.62zM141.3 506.10h9.62v1.30h-9.62z"/><path fill="#6bb1e3" d="M196.0 332.10h9.62v1.30h-9.62zM196.0 337.10h9.62v1.30h-9.62zM205.1 424.10h9.62v1.30h-9.62zM214.2 461.10h9.62v1.30h-9.62z"/><path fill="#f2b661" d="M168.7 334.10h9.62v1.30h-9.62zM186.9 367.10h9.62v1.30h-9.62z"/><path fill="#61acde" d="M214.2 335.10h9.62v1.30h-9.62z"/><path fill="#f7d97a" d="M141.3 336.10h9.62v1.30h-9.62zM159.5 406.10h9.62v1.30h-9.62zM196.0 467.10h9.62v1.30h-9.62zM205.1 484.10h9.62v1.30h-9.62zM168.7 507.10h9.62v1.30h-9.62z"/><path fill="#98cfde" d="M150.4 339.10h9.62v1.30h-9.62zM214.2 370.10h9.62v1.30h-9.62zM241.6 494.10h9.62v1.30h-9.62zM214.2 495.10h9.62v1.30h-9.62zM214.2 503.10h9.62v1.30h-9.62z"/><path fill="#c0deca" d="M186.9 339.10h9.62v1.30h-9.62zM205.1 342.10h9.62v1.30h-9.62zM205.1 364.10h9.62v1.30h-9.62zM214.2 368.10h9.62v1.30h-9.62zM141.3 369.10h9.62v1.30h-9.62zM168.7 369.10h9.62v1.30h-9.62zM196.0 375.10h9.62v1.30h-9.62zM196.0 388.10h9.62v1.30h-9.62zM232.5 395.10h9.62v1.30h-9.62zM186.9 405.10h9.62v1.30h-9.62zM177.8 425.10h9.62v1.30h-9.62zM150.4 434.10h9.62v1.30h-9.62zM186.9 436.10h9.62v1.30h-9.62zM159.5 442.10h9.62v1.30h-9.62zM241.6 443.10h9.62v1.30h-9.62zM141.3 445.10h9.62v1.30h-9.62zM141.3 448.10h9.62v1.30h-9.62zM168.7 463.10h9.62v1.30h-9.62zM186.9 465.10h9.62v1.30h-9.62zM223.4 472.10h9.62v1.30h-9.62zM141.3 483.10h9.62v1.30h-9.62zM150.4 483.10h9.62v1.30h-9.62zM232.5 488.10h9.62v1.30h-9.62zM205.1 489.10h9.62v1.30h-9.62z"/><path fill="#529dde" d="M205.1 339.10h9.62v1.30h-9.62zM214.2 339.10h9.62v1.30h-9.62z"/><path fill="#acd9d9" d="M223.4 344.10h9.62v1.30h-9.62zM232.5 376.10h9.62v1.30h-9.62zM168.7 380.10h9.62v1.30h-9.62zM186.9 381.10h9.62v1.30h-9.62zM214.2 394.10h9.62v1.30h-9.62zM141.3 428.10h9.62v1.30h-9.62zM196.0 456.10h9.62v1.30h-9.62zM168.7 490.10h9.62v1.30h-9.62zM196.0 490.10h9.62v1.30h-9.62zM214.2 498.10h9.62v1.30h-9.62zM232.5 503.10h9.62v1.30h-9.62z"/><path fill="#f2c566" d="M168.7 349.10h9.62v1.30h-9.62zM168.7 360.10h9.62v1.30h-9.62z"/><path fill="#f2d97a" d="M177.8 352.10h9.62v1.30h-9.62zM150.4 354.10h9.62v1.30h-9.62zM177.8 373.10h9.62v1.30h-9.62zM159.5 409.10h9.62v1.30h-9.62zM186.9 454.10h9.62v1.30h-9.62z"/><path fill="#93cfe3" d="M223.4 355.10h9.62v1.30h-9.62zM232.5 413.10h9.62v1.30h-9.62zM214.2 425.10h9.62v1.30h-9.62zM177.8 464.10h9.62v1.30h-9.62zM214.2 479.10h9.62v1.30h-9.62z"/><path fill="#dee3ac" d="M159.5 358.10h9.62v1.30h-9.62zM159.5 375.10h9.62v1.30h-9.62zM150.4 377.10h9.62v1.30h-9.62zM150.4 394.10h9.62v1.30h-9.62zM214.2 395.10h9.62v1.30h-9.62zM196.0 397.10h9.62v1.30h-9.62zM214.2 405.10h9.62v1.30h-9.62zM150.4 414.10h9.62v1.30h-9.62zM168.7 426.10h9.62v1.30h-9.62zM150.4 457.10h9.62v1.30h-9.62zM223.4 457.10h9.62v1.30h-9.62zM159.5 460.10h9.62v1.30h-9.62zM223.4 460.10h9.62v1.30h-9.62zM196.0 493.10h9.62v1.30h-9.62zM186.9 497.10h9.62v1.30h-9.62zM168.7 500.10h9.62v1.30h-9.62zM196.0 500.10h9.62v1.30h-9.62zM205.1 502.10h9.62v1.30h-9.62zM186.9 504.10h9.62v1.30h-9.62z"/><path fill="#f29d4d" d="M141.3 360.10h9.62v1.30h-9.62zM150.4 360.10h9.62v1.30h-9.62zM159.5 360.10h9.62v1.30h-9.62zM150.4 392.10h9.62v1.30h-9.62zM241.6 392.10h9.62v1.30h-9.62zM168.7 393.10h9.62v1.30h-9.62zM186.9 393.10h9.62v1.30h-9.62zM205.1 393.10h9.62v1.30h-9.62z"/><path fill="#d4debb" d="M159.5 362.10h9.62v1.30h-9.62zM223.4 367.10h9.62v1.30h-9.62zM232.5 367.10h9.62v1.30h-9.62zM214.2 373.10h9.62v1.30h-9.62zM141.3 374.10h9.62v1.30h-9.62zM141.3 383.10h9.62v1.30h-9.62zM186.9 425.10h9.62v1.30h-9.62zM214.2 448.10h9.62v1.30h-9.62zM159.5 454.10h9.62v1.30h-9.62zM150.4 459.10h9.62v1.30h-9.62zM196.0 497.10h9.62v1.30h-9.62zM186.9 501.10h9.62v1.30h-9.62z"/><path fill="#bbd9d4" d="M205.1 365.10h9.62v1.30h-9.62zM159.5 368.10h9.62v1.30h-9.62zM214.2 396.10h9.62v1.30h-9.62zM177.8 442.10h9.62v1.30h-9.62zM186.9 444.10h9.62v1.30h-9.62zM177.8 453.10h9.62v1.30h-9.62zM205.1 475.10h9.62v1.30h-9.62zM241.6 493.10h9.62v1.30h-9.62z"/><path fill="#dedeac" d="M168.7 368.10h9.62v1.30h-9.62zM241.6 480.10h9.62v1.30h-9.62zM205.1 492.10h9.62v1.30h-9.62z"/><path fill="#7abbe3" d="M223.4 375.10h9.62v1.30h-9.62zM214.2 485.10h9.62v1.30h-9.62z"/><path fill="#e3e3a7" d="M232.5 380.10h9.62v1.30h-9.62zM168.7 402.10h9.62v1.30h-9.62zM177.8 492.10h9.62v1.30h-9.62z"/><path fill="#f29848" d="M141.3 392.10h9.62v1.30h-9.62zM186.9 392.10h9.62v1.30h-9.62zM205.1 392.10h9.62v1.30h-9.62zM214.2 392.10h9.62v1.30h-9.62zM223.4 392.10h9.62v1.30h-9.62zM232.5 392.10h9.62v1.30h-9.62zM141.3 393.10h9.62v1.30h-9.62zM150.4 393.10h9.62v1.30h-9.62zM223.4 393.10h9.62v1.30h-9.62zM232.5 393.10h9.62v1.30h-9.62zM241.6 393.10h9.62v1.30h-9.62z"/><path fill="#f2a252" d="M168.7 392.10h9.62v1.30h-9.62zM177.8 392.10h9.62v1.30h-9.62zM214.2 393.10h9.62v1.30h-9.62z"/><path fill="#f2a757" d="M196.0 392.10h9.62v1.30h-9.62zM196.0 393.10h9.62v1.30h-9.62z"/><path fill="#f2a24d" d="M177.8 393.10h9.62v1.30h-9.62z"/><path fill="#e8e393" d="M186.9 402.10h9.62v1.30h-9.62zM168.7 413.10h9.62v1.30h-9.62zM241.6 457.10h9.62v1.30h-9.62zM159.5 463.10h9.62v1.30h-9.62zM177.8 498.10h9.62v1.30h-9.62z"/><path fill="#6bb6e8" d="M223.4 425.10h9.62v1.30h-9.62zM223.4 432.10h9.62v1.30h-9.62zM205.1 439.10h9.62v1.30h-9.62zM205.1 451.10h9.62v1.30h-9.62z"/><path fill="#66ace3" d="M232.5 432.10h9.62v1.30h-9.62zM196.0 482.10h9.62v1.30h-9.62z"/><path fill="#f2cf70" d="M177.8 435.10h9.62v1.30h-9.62z"/></g>
<rect x="13.5" y="310.2" width="242" height="112.1" fill="none" stroke="#e44a18" stroke-width="1.25"/>
<text x="72.30" y="486.30" font-size="9.8" text-anchor="middle" fill="#111">Z-scored log2 expression</text>
<text x="45.20" y="497.40" font-size="9.0" text-anchor="middle" fill="#111">-4</text>
<text x="71.90" y="497.40" font-size="9.0" text-anchor="middle" fill="#111">0</text>
<text x="98.00" y="497.40" font-size="9.0" text-anchor="middle" fill="#111">4</text>
<defs><linearGradient id="zc"><stop offset="0" stop-color="#1a3cc0"/><stop offset="0.2" stop-color="#2a6ad8"/><stop offset="0.4" stop-color="#3aa0e8"/><stop offset="0.47" stop-color="#a8e0f0"/><stop offset="0.5" stop-color="#fcfcf6"/><stop offset="0.54" stop-color="#f8f0a0"/><stop offset="0.6" stop-color="#f2d840"/><stop offset="0.78" stop-color="#f0a048"/><stop offset="1" stop-color="#f04040"/></linearGradient>
<linearGradient id="pc"><stop offset="0" stop-color="#fdd4b0"/><stop offset="0.2" stop-color="#fca574"/><stop offset="0.35" stop-color="#f86a28"/><stop offset="0.43" stop-color="#fa4400"/><stop offset="0.55" stop-color="#c82800"/><stop offset="0.7" stop-color="#881000"/><stop offset="0.85" stop-color="#400400"/><stop offset="1" stop-color="#220000"/></linearGradient></defs>
<rect x="45.20" y="499.90" width="53.60" height="5.40" fill="url(#zc)"/>
<line x1="540.20" y1="253.10" x2="681.60" y2="253.10" stroke="#b4b4b4" stroke-width="1" stroke-dasharray="3.3 1.5"/>
<line x1="540.20" y1="266.74" x2="681.60" y2="266.74" stroke="#b4b4b4" stroke-width="1" stroke-dasharray="3.3 1.5"/>
<line x1="540.20" y1="280.38" x2="681.60" y2="280.38" stroke="#b4b4b4" stroke-width="1" stroke-dasharray="3.3 1.5"/>
<line x1="540.20" y1="294.02" x2="681.60" y2="294.02" stroke="#b4b4b4" stroke-width="1" stroke-dasharray="3.3 1.5"/>
<line x1="540.20" y1="307.66" x2="681.60" y2="307.66" stroke="#b4b4b4" stroke-width="1" stroke-dasharray="3.3 1.5"/>
<line x1="540.20" y1="321.30" x2="681.60" y2="321.30" stroke="#b4b4b4" stroke-width="1" stroke-dasharray="3.3 1.5"/>
<line x1="540.20" y1="334.94" x2="681.60" y2="334.94" stroke="#b4b4b4" stroke-width="1" stroke-dasharray="3.3 1.5"/>
<line x1="540.20" y1="348.58" x2="681.60" y2="348.58" stroke="#b4b4b4" stroke-width="1" stroke-dasharray="3.3 1.5"/>
<line x1="556.70" y1="239.20" x2="556.70" y2="362.00" stroke="#b4b4b4" stroke-width="1" stroke-dasharray="3.3 1.5"/>
<line x1="578.47" y1="239.20" x2="578.47" y2="362.00" stroke="#b4b4b4" stroke-width="1" stroke-dasharray="3.3 1.5"/>
<line x1="600.24" y1="239.20" x2="600.24" y2="362.00" stroke="#b4b4b4" stroke-width="1" stroke-dasharray="3.3 1.5"/>
<line x1="622.01" y1="239.20" x2="622.01" y2="362.00" stroke="#b4b4b4" stroke-width="1" stroke-dasharray="3.3 1.5"/>
<line x1="643.78" y1="239.20" x2="643.78" y2="362.00" stroke="#b4b4b4" stroke-width="1" stroke-dasharray="3.3 1.5"/>
<line x1="665.55" y1="239.20" x2="665.55" y2="362.00" stroke="#b4b4b4" stroke-width="1" stroke-dasharray="3.3 1.5"/>
<circle cx="556.70" cy="253.10" r="5.50" fill="#f8804a"/>
<circle cx="578.47" cy="253.10" r="5.30" fill="#f8804a"/>
<circle cx="600.24" cy="253.10" r="5.30" fill="#f87c40"/>
<circle cx="622.01" cy="253.10" r="5.30" fill="#f8844c"/>
<circle cx="643.78" cy="253.10" r="5.10" fill="#f87c40"/>
<circle cx="665.55" cy="253.10" r="5.10" fill="#f8844c"/>
<circle cx="556.70" cy="266.74" r="4.25" fill="#c9c9c9"/>
<circle cx="578.47" cy="266.74" r="4.00" fill="#f8804a"/>
<circle cx="600.24" cy="266.74" r="4.25" fill="#f67a3c"/>
<circle cx="622.01" cy="266.74" r="4.00" fill="#f8804a"/>
<circle cx="643.78" cy="266.74" r="4.00" fill="#f67a3c"/>
<circle cx="665.55" cy="266.74" r="4.00" fill="#f0601e"/>
<circle cx="556.70" cy="280.38" r="4.00" fill="#c9c9c9"/>
<circle cx="578.47" cy="280.38" r="4.00" fill="#c9c9c9"/>
<circle cx="600.24" cy="280.38" r="5.30" fill="#f67a3c"/>
<circle cx="622.01" cy="280.38" r="5.10" fill="#f8844c"/>
<circle cx="643.78" cy="280.38" r="5.30" fill="#f67a3c"/>
<circle cx="665.55" cy="280.38" r="5.10" fill="#f8844c"/>
<circle cx="556.70" cy="294.02" r="2.65" fill="#c9c9c9"/>
<circle cx="578.47" cy="294.02" r="2.90" fill="#f8804a"/>
<circle cx="600.24" cy="294.02" r="2.90" fill="#f67a3c"/>
<circle cx="622.01" cy="294.02" r="2.90" fill="#f8804a"/>
<circle cx="643.78" cy="294.02" r="2.90" fill="#f67a3c"/>
<circle cx="665.55" cy="294.02" r="2.90" fill="#f0601e"/>
<circle cx="556.70" cy="307.66" r="2.65" fill="#c9c9c9"/>
<circle cx="578.47" cy="307.66" r="2.65" fill="#c9c9c9"/>
<circle cx="600.24" cy="307.66" r="3.20" fill="#f67a3c"/>
<circle cx="622.01" cy="307.66" r="2.90" fill="#c9c9c9"/>
<circle cx="643.78" cy="307.66" r="3.20" fill="#f67a3c"/>
<circle cx="665.55" cy="307.66" r="2.90" fill="#f8905a"/>
<circle cx="556.70" cy="321.30" r="3.70" fill="#c9c9c9"/>
<circle cx="578.47" cy="321.30" r="3.70" fill="#c9c9c9"/>
<circle cx="600.24" cy="321.30" r="4.25" fill="#f67a3c"/>
<circle cx="622.01" cy="321.30" r="4.50" fill="#f8844c"/>
<circle cx="643.78" cy="321.30" r="4.25" fill="#f67a3c"/>
<circle cx="665.55" cy="321.30" r="4.50" fill="#f0601e"/>
<circle cx="556.70" cy="334.94" r="3.70" fill="#c9c9c9"/>
<circle cx="578.47" cy="334.94" r="3.50" fill="#c9c9c9"/>
<circle cx="600.24" cy="334.94" r="4.50" fill="#f67a3c"/>
<circle cx="622.01" cy="334.94" r="4.50" fill="#f8844c"/>
<circle cx="643.78" cy="334.94" r="4.50" fill="#f67a3c"/>
<circle cx="665.55" cy="334.94" r="4.80" fill="#ee5a18"/>
<circle cx="556.70" cy="348.58" r="2.90" fill="#c9c9c9"/>
<circle cx="578.47" cy="348.58" r="4.25" fill="#c9c9c9"/>
<circle cx="600.24" cy="348.58" r="5.30" fill="#f67a3c"/>
<circle cx="622.01" cy="348.58" r="5.30" fill="#c9c9c9"/>
<circle cx="643.78" cy="348.58" r="5.10" fill="#f67a3c"/>
<circle cx="665.55" cy="348.58" r="5.60" fill="#ee5a18"/>
<rect x="540.2" y="239.20" width="141.4" height="122.80" fill="none" stroke="#111" stroke-width="1.1"/>
<line x1="556.70" y1="234.40" x2="556.70" y2="239.20" stroke="#111" stroke-width="1.2"/>
<line x1="578.47" y1="234.40" x2="578.47" y2="239.20" stroke="#111" stroke-width="1.2"/>
<line x1="600.24" y1="234.40" x2="600.24" y2="239.20" stroke="#111" stroke-width="1.2"/>
<line x1="622.01" y1="234.40" x2="622.01" y2="239.20" stroke="#111" stroke-width="1.2"/>
<line x1="643.78" y1="234.40" x2="643.78" y2="239.20" stroke="#111" stroke-width="1.2"/>
<line x1="665.55" y1="234.40" x2="665.55" y2="239.20" stroke="#111" stroke-width="1.2"/>
<line x1="535.20" y1="253.10" x2="540.20" y2="253.10" stroke="#111" stroke-width="1.2"/>
<text x="529.60" y="256.60" font-size="9.85" text-anchor="end" fill="#111">Caspase-mediated cleavage of cytoskeletal proteins</text>
<line x1="535.20" y1="266.74" x2="540.20" y2="266.74" stroke="#111" stroke-width="1.2"/>
<text x="529.60" y="270.24" font-size="9.85" text-anchor="end" fill="#111">MTOR signalling</text>
<line x1="535.20" y1="280.38" x2="540.20" y2="280.38" stroke="#111" stroke-width="1.2"/>
<text x="529.60" y="283.88" font-size="9.85" text-anchor="end" fill="#111">RSK activation</text>
<line x1="535.20" y1="294.02" x2="540.20" y2="294.02" stroke="#111" stroke-width="1.2"/>
<text x="529.60" y="297.52" font-size="9.85" text-anchor="end" fill="#111">Signaling by Receptor Tyrosine Kinases</text>
<line x1="535.20" y1="307.66" x2="540.20" y2="307.66" stroke="#111" stroke-width="1.2"/>
<text x="529.60" y="311.16" font-size="9.85" text-anchor="end" fill="#111">PIP3 activates AKT signaling</text>
<line x1="535.20" y1="321.30" x2="540.20" y2="321.30" stroke="#111" stroke-width="1.2"/>
<text x="529.60" y="324.80" font-size="9.85" text-anchor="end" fill="#111">MAPK targets/ Nuclear events mediated by MAP kinases</text>
<line x1="535.20" y1="334.94" x2="540.20" y2="334.94" stroke="#111" stroke-width="1.2"/>
<text x="529.60" y="338.44" font-size="9.85" text-anchor="end" fill="#111">Gastrin-CREB signalling pathway via PKC and MAPK</text>
<line x1="535.20" y1="348.58" x2="540.20" y2="348.58" stroke="#111" stroke-width="1.2"/>
<text x="529.60" y="352.08" font-size="9.85" text-anchor="end" fill="#111">Activation of the AP-1 family of transcription factors</text>
<text x="560.00" y="228.00" font-size="10.2" transform="rotate(-30 560.0 228.0)" fill="#111">Lib 1</text>
<text x="581.77" y="228.00" font-size="10.2" transform="rotate(-30 581.77 228.0)" fill="#111">Lib 2</text>
<text x="603.54" y="228.00" font-size="10.2" transform="rotate(-30 603.54 228.0)" fill="#111">Lib 3</text>
<text x="625.31" y="228.00" font-size="10.2" transform="rotate(-30 625.31 228.0)" fill="#111">Lib 4</text>
<text x="647.08" y="228.00" font-size="10.2" transform="rotate(-30 647.08 228.0)" fill="#111">Lib 6</text>
<text x="668.85" y="228.00" font-size="10.2" transform="rotate(-30 668.85 228.0)" fill="#111">Lib 7</text>
<line x1="540.20" y1="382.90" x2="681.60" y2="382.90" stroke="#b4b4b4" stroke-width="1" stroke-dasharray="3.3 1.5"/>
<line x1="540.20" y1="396.70" x2="681.60" y2="396.70" stroke="#b4b4b4" stroke-width="1" stroke-dasharray="3.3 1.5"/>
<line x1="540.20" y1="410.50" x2="681.60" y2="410.50" stroke="#b4b4b4" stroke-width="1" stroke-dasharray="3.3 1.5"/>
<line x1="540.20" y1="424.30" x2="681.60" y2="424.30" stroke="#b4b4b4" stroke-width="1" stroke-dasharray="3.3 1.5"/>
<line x1="540.20" y1="438.10" x2="681.60" y2="438.10" stroke="#b4b4b4" stroke-width="1" stroke-dasharray="3.3 1.5"/>
<line x1="540.20" y1="451.90" x2="681.60" y2="451.90" stroke="#b4b4b4" stroke-width="1" stroke-dasharray="3.3 1.5"/>
<line x1="540.20" y1="465.70" x2="681.60" y2="465.70" stroke="#b4b4b4" stroke-width="1" stroke-dasharray="3.3 1.5"/>
<line x1="540.20" y1="479.50" x2="681.60" y2="479.50" stroke="#b4b4b4" stroke-width="1" stroke-dasharray="3.3 1.5"/>
<line x1="540.20" y1="493.30" x2="681.60" y2="493.30" stroke="#b4b4b4" stroke-width="1" stroke-dasharray="3.3 1.5"/>
<line x1="556.70" y1="369.40" x2="556.70" y2="506.20" stroke="#b4b4b4" stroke-width="1" stroke-dasharray="3.3 1.5"/>
<line x1="578.47" y1="369.40" x2="578.47" y2="506.20" stroke="#b4b4b4" stroke-width="1" stroke-dasharray="3.3 1.5"/>
<line x1="600.24" y1="369.40" x2="600.24" y2="506.20" stroke="#b4b4b4" stroke-width="1" stroke-dasharray="3.3 1.5"/>
<line x1="622.01" y1="369.40" x2="622.01" y2="506.20" stroke="#b4b4b4" stroke-width="1" stroke-dasharray="3.3 1.5"/>
<line x1="643.78" y1="369.40" x2="643.78" y2="506.20" stroke="#b4b4b4" stroke-width="1" stroke-dasharray="3.3 1.5"/>
<line x1="665.55" y1="369.40" x2="665.55" y2="506.20" stroke="#b4b4b4" stroke-width="1" stroke-dasharray="3.3 1.5"/>
<circle cx="556.70" cy="382.90" r="4.85" fill="#d83a0a"/>
<circle cx="578.47" cy="382.90" r="4.65" fill="#b82808"/>
<circle cx="600.24" cy="382.90" r="4.65" fill="#cc3008"/>
<circle cx="622.01" cy="382.90" r="4.75" fill="#6e0a02"/>
<circle cx="643.78" cy="382.90" r="4.50" fill="#cc3008"/>
<circle cx="665.55" cy="382.90" r="4.50" fill="#e03a06"/>
<circle cx="556.70" cy="396.70" r="6.15" fill="#f57a3a"/>
<circle cx="578.47" cy="396.70" r="5.70" fill="#f56c2c"/>
<circle cx="600.24" cy="396.70" r="5.30" fill="#f88a4c"/>
<circle cx="622.01" cy="396.70" r="4.85" fill="#c9c9c9"/>
<circle cx="643.78" cy="396.70" r="5.10" fill="#f88a4c"/>
<circle cx="665.55" cy="396.70" r="5.50" fill="#f56c2c"/>
<circle cx="556.70" cy="410.50" r="5.95" fill="#c9c9c9"/>
<circle cx="578.47" cy="410.50" r="6.75" fill="#c02a04"/>
<circle cx="600.24" cy="410.50" r="6.15" fill="#f06020"/>
<circle cx="622.01" cy="410.50" r="5.10" fill="#c9c9c9"/>
<circle cx="643.78" cy="410.50" r="6.35" fill="#e83a04"/>
<circle cx="665.55" cy="410.50" r="6.55" fill="#e03a04"/>
<circle cx="556.70" cy="424.30" r="5.30" fill="#f88850"/>
<circle cx="578.47" cy="424.30" r="5.10" fill="#f88850"/>
<circle cx="600.24" cy="424.30" r="5.30" fill="#f56c2c"/>
<circle cx="622.01" cy="424.30" r="5.30" fill="#f06020"/>
<circle cx="643.78" cy="424.30" r="5.10" fill="#f88a50"/>
<circle cx="665.55" cy="424.30" r="4.85" fill="#f88a50"/>
<circle cx="556.70" cy="438.10" r="3.20" fill="#c9c9c9"/>
<circle cx="578.47" cy="438.10" r="4.25" fill="#c9c9c9"/>
<circle cx="600.24" cy="438.10" r="7.20" fill="#f86c2c"/>
<circle cx="622.01" cy="438.10" r="6.75" fill="#f88a4c"/>
<circle cx="643.78" cy="438.10" r="6.15" fill="#f88a4c"/>
<circle cx="665.55" cy="438.10" r="7.00" fill="#f86c2c"/>
<circle cx="556.70" cy="451.90" r="4.65" fill="#c9c9c9"/>
<circle cx="578.47" cy="451.90" r="3.60" fill="#f88850"/>
<circle cx="600.24" cy="451.90" r="3.80" fill="#f06020"/>
<circle cx="622.01" cy="451.90" r="3.60" fill="#c9c9c9"/>
<circle cx="643.78" cy="451.90" r="3.40" fill="#c9c9c9"/>
<circle cx="665.55" cy="451.90" r="3.80" fill="#f06020"/>
<circle cx="556.70" cy="465.70" r="5.30" fill="#c9c9c9"/>
<circle cx="578.47" cy="465.70" r="5.50" fill="#f56c2c"/>
<circle cx="600.24" cy="465.70" r="4.65" fill="#f88850"/>
<circle cx="622.01" cy="465.70" r="4.00" fill="#c9c9c9"/>
<circle cx="643.78" cy="465.70" r="4.45" fill="#c9c9c9"/>
<circle cx="665.55" cy="465.70" r="4.65" fill="#f88850"/>
<circle cx="556.70" cy="479.50" r="5.95" fill="#c9c9c9"/>
<circle cx="578.47" cy="479.50" r="6.35" fill="#f88850"/>
<circle cx="600.24" cy="479.50" r="7.00" fill="#f86c2c"/>
<circle cx="622.01" cy="479.50" r="4.85" fill="#c9c9c9"/>
<circle cx="643.78" cy="479.50" r="6.15" fill="#f88850"/>
<circle cx="665.55" cy="479.50" r="5.70" fill="#c9c9c9"/>
<circle cx="578.47" cy="493.30" r="5.95" fill="#f88850"/>
<circle cx="600.24" cy="493.30" r="5.95" fill="#f88850"/>
<circle cx="622.01" cy="493.30" r="5.70" fill="#c9c9c9"/>
<circle cx="643.78" cy="493.30" r="5.70" fill="#c9c9c9"/>
<circle cx="665.55" cy="493.30" r="5.70" fill="#c9c9c9"/>
<rect x="540.2" y="369.40" width="141.4" height="136.80" fill="none" stroke="#111" stroke-width="1.1"/>
<line x1="556.70" y1="364.60" x2="556.70" y2="369.40" stroke="#111" stroke-width="1.2"/>
<line x1="578.47" y1="364.60" x2="578.47" y2="369.40" stroke="#111" stroke-width="1.2"/>
<line x1="600.24" y1="364.60" x2="600.24" y2="369.40" stroke="#111" stroke-width="1.2"/>
<line x1="622.01" y1="364.60" x2="622.01" y2="369.40" stroke="#111" stroke-width="1.2"/>
<line x1="643.78" y1="364.60" x2="643.78" y2="369.40" stroke="#111" stroke-width="1.2"/>
<line x1="665.55" y1="364.60" x2="665.55" y2="369.40" stroke="#111" stroke-width="1.2"/>
<line x1="535.20" y1="382.90" x2="540.20" y2="382.90" stroke="#111" stroke-width="1.2"/>
<text x="530.20" y="386.60" font-size="9.7" text-anchor="end" fill="#111">AKT1</text>
<line x1="535.20" y1="396.70" x2="540.20" y2="396.70" stroke="#111" stroke-width="1.2"/>
<text x="530.20" y="400.40" font-size="9.7" text-anchor="end" fill="#111">RPS6KA1</text>
<line x1="535.20" y1="410.50" x2="540.20" y2="410.50" stroke="#111" stroke-width="1.2"/>
<text x="530.20" y="414.20" font-size="9.7" text-anchor="end" fill="#111">RPS6KA3</text>
<line x1="535.20" y1="424.30" x2="540.20" y2="424.30" stroke="#111" stroke-width="1.2"/>
<text x="530.20" y="428.00" font-size="9.7" text-anchor="end" fill="#111">RPS6KB1</text>
<line x1="535.20" y1="438.10" x2="540.20" y2="438.10" stroke="#111" stroke-width="1.2"/>
<text x="530.20" y="441.80" font-size="9.7" text-anchor="end" fill="#111">MAP2K1</text>
<line x1="535.20" y1="451.90" x2="540.20" y2="451.90" stroke="#111" stroke-width="1.2"/>
<text x="530.20" y="455.60" font-size="9.7" text-anchor="end" fill="#111">MAPK3</text>
<line x1="535.20" y1="465.70" x2="540.20" y2="465.70" stroke="#111" stroke-width="1.2"/>
<text x="530.20" y="469.40" font-size="9.7" text-anchor="end" fill="#111">PAK1</text>
<line x1="535.20" y1="479.50" x2="540.20" y2="479.50" stroke="#111" stroke-width="1.2"/>
<text x="530.20" y="483.20" font-size="9.7" text-anchor="end" fill="#111">PLK3</text>
<line x1="535.20" y1="493.30" x2="540.20" y2="493.30" stroke="#111" stroke-width="1.2"/>
<text x="530.20" y="497.00" font-size="9.7" text-anchor="end" fill="#111">PRKCB</text>
<text x="318.00" y="422.60" font-size="9.8" fill="#111">-log10 Adj.<tspan font-style="italic">p</tspan></text>
<rect x="384.20" y="414.20" width="42.70" height="10.90" fill="url(#pc)"/>
<text x="384.60" y="412.00" font-size="8.6" text-anchor="middle" fill="#111">1.3</text>
<text x="426.80" y="412.00" font-size="8.6" text-anchor="middle" fill="#111">5</text>
<text x="318.00" y="446.20" font-size="9.8" fill="#111">Adj.<tspan font-style="italic">p</tspan> &gt; 0.05</text>
<rect x="385.40" y="439.00" width="12.70" height="7.50" fill="#cccccc"/>
<text x="318.00" y="475.60" font-size="9.7" fill="#111">Fold enrichment</text>
<circle cx="401.40" cy="472.20" r="2.20" fill="#808080" stroke="#555" stroke-width="0.6"/>
<text x="401.40" y="467.80" font-size="8.9" text-anchor="middle" fill="#111">5</text>
<circle cx="411.00" cy="472.20" r="3.85" fill="#808080" stroke="#555" stroke-width="0.6"/>
<text x="411.00" y="466.15" font-size="8.9" text-anchor="middle" fill="#111">15</text>
<circle cx="425.50" cy="472.20" r="5.05" fill="#808080" stroke="#555" stroke-width="0.6"/>
<text x="425.50" y="464.95" font-size="8.9" text-anchor="middle" fill="#111">25</text>
<circle cx="439.90" cy="472.20" r="5.85" fill="#808080" stroke="#555" stroke-width="0.6"/>
<text x="439.90" y="464.15" font-size="8.9" text-anchor="middle" fill="#111">35</text>
<circle cx="454.50" cy="472.20" r="6.80" fill="#808080" stroke="#555" stroke-width="0.6"/>
<text x="454.50" y="463.20" font-size="8.9" text-anchor="middle" fill="#111">45</text>
</svg>
</body></html>
